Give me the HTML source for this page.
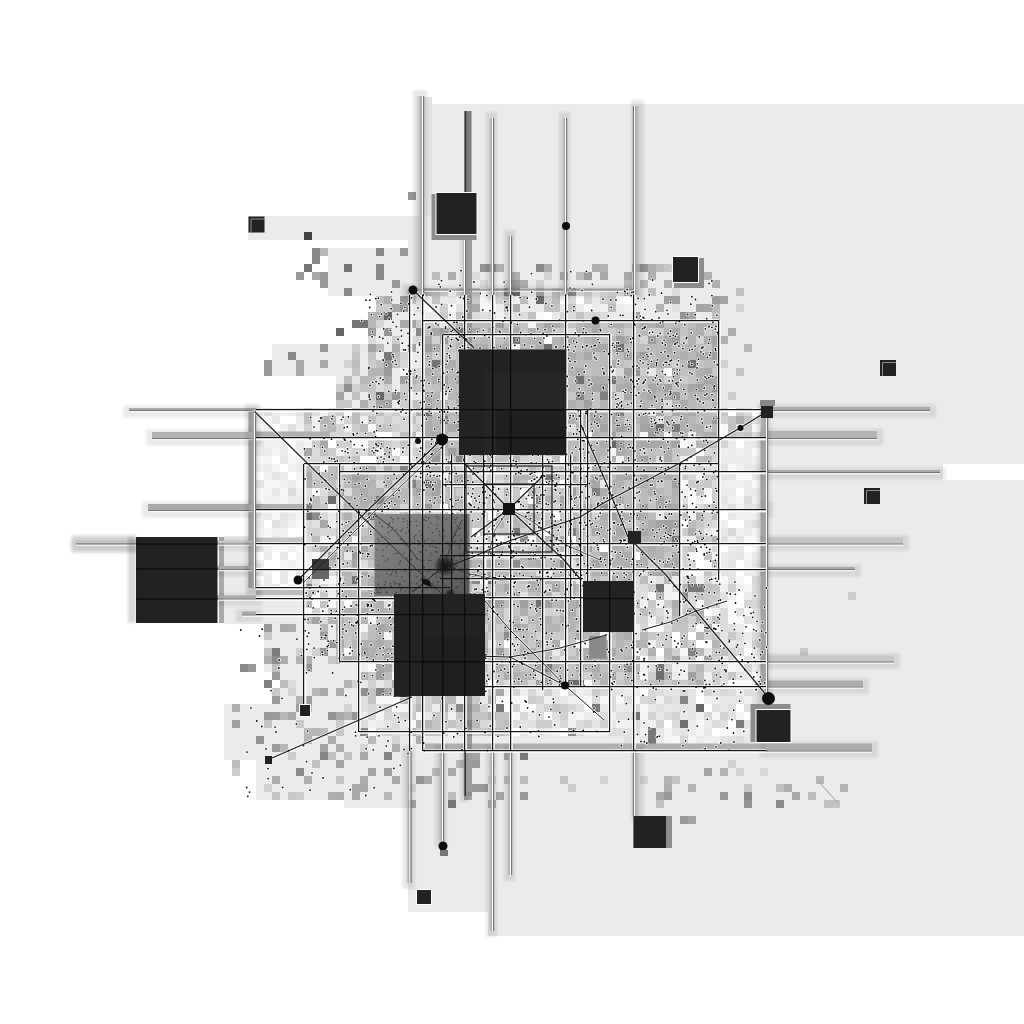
<!DOCTYPE html><html><head><meta charset="utf-8"><title>composition</title><style>html,body{margin:0;padding:0;background:#fff;font-family:"Liberation Sans",sans-serif}svg{display:block}</style></head><body><svg width="1024" height="1024" viewBox="0 0 1024 1024"><defs><filter id="b2" x="-20%" y="-20%" width="140%" height="140%"><feGaussianBlur stdDeviation="1.5"/></filter><filter id="b1" x="-30%" y="-30%" width="160%" height="160%"><feGaussianBlur stdDeviation=".8"/></filter><linearGradient id="sd" x1="0" y1="0" x2="1" y2="1"><stop offset="0" stop-color="#8c8c8c"/><stop offset=".6" stop-color="#6c6c6c"/><stop offset="1" stop-color="#555"/></linearGradient><linearGradient id="gl" x1="0" x2="1" y1="0" y2="0"><stop offset="0" stop-color="#aaa" stop-opacity="0"/><stop offset="1" stop-color="#a4a4a4"/></linearGradient><linearGradient id="gr" x1="0" x2="1" y1="0" y2="0"><stop offset="0" stop-color="#a4a4a4"/><stop offset="1" stop-color="#aaa" stop-opacity="0"/></linearGradient></defs><g shape-rendering="crispEdges"><path fill="#444444" d="M304 232h8v8h-8z"/><path fill="#646464" d="M384 312h8v8h-8zM336 328h8v8h-8z"/><path fill="#686868" d="M536 296h8v8h-8zM464 360h8v8h-8zM376 392h8v8h-8zM424 408h8v8h-8zM656 424h8v8h-8zM608 440h8v8h-8zM368 512h8v8h-8zM456 520h8v8h-8zM696 704h8v8h-8zM464 720h8v8h-8zM760 744h8v8h-8z"/><path fill="#6c6c6c" d="M512 288h8v8h-8zM544 344h8v8h-8zM688 360h8v8h-8zM424 480h8v8h-8zM328 496h8v8h-8zM304 512h8v8h-8zM656 672h8v8h-8zM568 680h16v8h-16zM760 704h8v8h-8z"/><path fill="#707070" d="M456 328h8v8h-8zM512 336h8v8h-8zM576 376h8v8h-8zM304 504h8v8h-8zM488 576h8v8h-8zM656 584h8v8h-8zM536 600h8v8h-8zM680 720h8v8h-8z"/><path fill="#747474" d="M304 264h8v8h-8zM344 264h8v8h-8zM352 320h16v8h-16zM616 344h8v8h-8zM432 360h8v8h-8zM608 376h8v8h-8zM544 472h8v8h-8zM512 528h8v8h-8zM672 536h8v8h-8zM352 576h8v8h-8zM384 584h8v8h-8zM656 664h8v8h-8zM464 688h8v8h-8zM632 712h8v8h-8z"/><path fill="#787878" d="M384 352h8v8h-8zM432 520h8v8h-8zM688 584h16v8h-16zM464 632h8v8h-8zM496 704h8v8h-8zM592 704h8v8h-8zM648 728h8v8h-8zM648 736h8v8h-8zM520 752h8v8h-8zM448 800h8v8h-8z"/><path fill="#7c7c7c" d="M440 416h8v8h-8zM672 424h8v8h-8zM376 496h8v8h-8zM528 552h8v8h-8zM304 584h8v8h-8zM272 648h8v8h-8zM424 656h8v8h-8zM544 664h8v8h-8zM736 720h8v8h-8zM656 744h8v8h-8z"/><path fill="#808080" d="M504 288h8v8h-8zM600 392h8v8h-8zM616 408h8v8h-8zM592 488h8v8h-8zM536 496h8v8h-8zM568 528h8v8h-8zM264 680h8v8h-8zM464 728h8v8h-8z"/><path fill="#848484" d="M576 392h8v8h-8zM400 464h8v8h-8zM408 480h8v8h-8zM680 592h8v8h-8zM424 616h8v8h-8zM688 648h8v8h-8zM408 664h8v8h-8zM376 688h8v8h-8zM680 696h8v8h-8zM320 752h8v8h-8zM384 752h8v8h-8z"/><path fill="#888888" d="M312 248h8v8h-8zM376 248h8v8h-8zM312 256h8v8h-8zM376 264h8v8h-8zM536 264h8v8h-8zM376 272h8v8h-8zM344 288h8v8h-8zM416 328h8v8h-8zM288 352h8v8h-8zM560 384h8v8h-8zM456 456h8v8h-8zM520 536h8v8h-8zM472 576h8v8h-8zM240 664h8v8h-8zM360 728h8v8h-8zM744 792h8v8h-8z"/><path fill="#8c8c8c" d="M568 288h8v8h-8zM312 512h8v8h-8zM512 560h8v8h-8zM560 560h8v8h-8zM504 632h8v8h-8zM272 656h8v8h-8zM456 704h8v8h-8zM296 768h8v8h-8zM776 800h8v8h-8z"/><path fill="#909090" d="M344 384h8v8h-8zM712 384h8v8h-8zM600 504h8v8h-8zM376 544h8v8h-8zM624 664h8v8h-8zM360 688h8v8h-8zM568 728h8v8h-8z"/><path fill="#949494" d="M480 264h16v8h-16zM640 264h8v8h-8zM400 304h8v8h-8zM680 312h8v8h-8zM384 328h8v8h-8zM384 360h8v8h-8zM632 368h8v8h-8zM392 392h8v8h-8zM416 536h8v8h-8zM448 584h8v8h-8zM592 584h8v8h-8zM320 648h8v8h-8zM304 664h8v8h-8zM328 712h8v8h-8zM352 712h8v8h-8zM256 736h8v8h-8zM416 776h8v8h-8zM744 800h8v8h-8z"/><path fill="#989898" d="M408 192h8v8h-8zM400 248h8v8h-8zM296 272h8v8h-8zM320 272h8v8h-8zM320 280h8v8h-8zM392 280h8v8h-8zM320 344h8v8h-8zM264 360h8v8h-8zM504 360h8v8h-8zM560 360h8v8h-8zM264 368h8v8h-8zM672 392h8v8h-8zM528 432h8v8h-8zM560 432h8v8h-8zM616 440h8v8h-8zM432 456h8v8h-8zM424 504h8v8h-8zM448 600h8v8h-8zM264 624h8v8h-8zM328 640h8v8h-8zM472 656h8v8h-8zM248 664h8v8h-8zM416 672h8v8h-8zM264 712h8v8h-8zM472 760h8v8h-8zM472 784h16v8h-16zM520 792h8v8h-8zM664 792h8v8h-8zM720 792h8v8h-8zM680 816h8v8h-8z"/><path fill="#9c9c9c" d="M584 272h8v8h-8zM512 280h8v8h-8zM712 296h8v8h-8zM496 320h8v8h-8zM368 328h8v8h-8zM440 328h8v8h-8zM648 336h8v8h-8zM672 336h8v8h-8zM424 344h8v8h-8zM640 352h8v8h-8zM384 368h8v8h-8zM520 384h8v8h-8zM600 384h8v8h-8zM480 392h8v8h-8zM712 416h8v8h-8zM464 424h8v8h-8zM480 424h8v8h-8zM480 432h8v8h-8zM648 432h8v8h-8zM640 504h8v8h-8zM432 528h8v8h-8zM352 552h8v8h-8zM320 560h8v8h-8zM488 600h8v8h-8zM320 632h8v8h-8zM400 648h8v8h-8zM464 648h8v8h-8zM584 656h8v8h-8zM272 672h8v8h-8zM544 680h8v8h-8zM272 696h8v8h-8zM304 696h8v8h-8zM272 712h8v8h-8zM272 744h8v8h-8z"/><path fill="#a0a0a0" d="M400 296h8v8h-8zM664 296h16v8h-16zM632 312h8v8h-8zM656 320h8v8h-8zM440 336h8v8h-8zM616 336h8v8h-8zM712 352h8v8h-8zM400 376h8v8h-8zM664 384h8v8h-8zM696 384h8v8h-8zM528 392h8v8h-8zM384 400h8v8h-8zM584 400h8v8h-8zM584 408h8v8h-8zM456 424h8v8h-8zM536 424h8v8h-8zM616 424h8v8h-8zM648 424h8v8h-8zM608 432h8v8h-8zM448 448h8v8h-8zM480 448h8v8h-8zM640 456h8v8h-8zM352 472h8v8h-8zM640 472h8v8h-8zM432 480h8v8h-8zM672 480h8v8h-8zM336 488h8v8h-8zM416 488h8v8h-8zM568 488h8v8h-8zM632 512h8v8h-8zM664 520h16v8h-16zM664 528h8v8h-8zM584 544h8v8h-8zM384 552h8v8h-8zM424 552h8v8h-8zM488 568h8v8h-8zM488 592h8v8h-8zM496 600h8v8h-8zM520 600h8v8h-8zM544 600h8v8h-8zM480 608h8v8h-8zM416 632h8v8h-8zM496 648h8v8h-8zM448 656h8v8h-8zM464 656h8v8h-8zM672 656h8v8h-8zM376 672h8v8h-8zM688 672h8v8h-8zM536 680h8v8h-8zM296 704h8v8h-8zM232 720h8v8h-8zM384 768h8v8h-8z"/><path fill="#a4a4a4" d="M696 272h8v8h-8zM688 280h8v8h-8zM720 296h8v8h-8zM696 304h8v8h-8zM408 320h8v8h-8zM544 320h8v8h-8zM464 328h8v8h-8zM712 336h8v8h-8zM368 344h8v8h-8zM408 344h8v8h-8zM440 360h8v8h-8zM624 368h8v8h-8zM672 368h8v8h-8zM440 376h8v8h-8zM456 376h8v8h-8zM704 376h8v8h-8zM536 384h8v8h-8zM592 384h8v8h-8zM336 392h8v8h-8zM424 392h8v8h-8zM376 400h8v8h-8zM440 408h8v8h-8zM488 408h8v8h-8zM536 408h8v8h-8zM528 416h8v8h-8zM552 416h8v8h-8zM592 416h8v8h-8zM600 424h8v8h-8zM640 424h8v8h-8zM672 440h8v8h-8zM432 448h8v8h-8zM600 472h8v8h-8zM432 488h8v8h-8zM384 496h8v8h-8zM584 504h8v8h-8zM664 504h8v8h-8zM400 512h8v8h-8zM608 512h8v8h-8zM656 520h8v8h-8zM424 536h8v8h-8zM360 544h8v8h-8zM352 560h8v8h-8zM440 560h8v8h-8zM464 560h8v8h-8zM592 560h8v8h-8zM664 560h8v8h-8zM432 568h8v8h-8zM448 568h16v8h-16zM568 568h8v8h-8zM672 568h8v8h-8zM536 576h8v8h-8zM416 584h8v8h-8zM592 592h8v8h-8zM576 600h16v8h-16zM440 608h8v8h-8zM312 616h8v8h-8zM376 624h8v8h-8zM512 624h8v8h-8zM536 640h8v8h-8zM360 648h8v8h-8zM384 656h8v8h-8zM704 656h8v8h-8zM376 664h8v8h-8zM432 664h8v8h-8zM536 664h8v8h-8zM608 672h8v8h-8zM424 680h16v8h-16zM408 688h8v8h-8zM320 744h8v8h-8zM472 752h8v8h-8zM336 760h8v8h-8zM368 768h8v8h-8zM704 768h8v8h-8zM464 792h8v8h-8zM496 792h8v8h-8zM408 800h8v8h-8zM688 816h8v8h-8z"/><path fill="#a8a8a8" d="M312 272h8v8h-8zM600 272h8v8h-8zM624 272h8v8h-8zM536 288h8v8h-8zM392 304h8v8h-8zM472 304h8v8h-8zM704 304h8v8h-8zM688 312h8v8h-8zM400 320h8v8h-8zM432 328h8v8h-8zM472 328h8v8h-8zM488 328h8v8h-8zM592 328h8v8h-8zM672 328h8v8h-8zM664 336h8v8h-8zM504 344h8v8h-8zM592 344h16v8h-16zM712 344h8v8h-8zM584 352h8v8h-8zM624 352h8v8h-8zM696 352h8v8h-8zM296 360h8v8h-8zM320 360h8v8h-8zM472 360h8v8h-8zM648 360h8v8h-8zM296 368h8v8h-8zM384 376h8v8h-8zM712 376h8v8h-8zM624 384h8v8h-8zM648 384h8v8h-8zM688 384h8v8h-8zM624 392h8v8h-8zM648 392h8v8h-8zM424 400h8v8h-8zM520 400h8v8h-8zM608 408h8v8h-8zM656 408h8v8h-8zM672 408h8v8h-8zM688 408h8v8h-8zM480 416h8v8h-8zM608 416h8v8h-8zM640 416h8v8h-8zM448 424h8v8h-8zM504 424h24v8h-24zM552 424h8v8h-8zM624 424h8v8h-8zM304 432h8v8h-8zM432 432h8v8h-8zM320 440h8v8h-8zM536 440h8v8h-8zM640 440h24v8h-24zM304 448h8v8h-8zM624 464h8v8h-8zM304 472h8v8h-8zM360 472h8v8h-8zM552 472h8v8h-8zM568 472h8v8h-8zM624 472h8v8h-8zM352 480h8v8h-8zM448 480h16v8h-16zM592 480h8v8h-8zM560 496h8v8h-8zM656 496h8v8h-8zM376 504h8v8h-8zM656 504h8v8h-8zM672 504h8v8h-8zM320 520h8v8h-8zM424 520h8v8h-8zM584 520h8v8h-8zM616 520h8v8h-8zM592 528h8v8h-8zM616 528h8v8h-8zM640 528h8v8h-8zM384 544h8v8h-8zM328 552h8v8h-8zM440 552h8v8h-8zM456 552h8v8h-8zM600 552h8v8h-8zM672 560h8v8h-8zM472 568h8v8h-8zM600 568h8v8h-8zM648 568h16v8h-16zM336 584h8v8h-8zM504 584h8v8h-8zM552 584h8v8h-8zM600 584h8v8h-8zM624 584h8v8h-8zM416 592h8v8h-8zM456 592h8v8h-8zM512 592h8v8h-8zM416 600h16v8h-16zM408 608h8v8h-8zM688 608h8v8h-8zM616 616h8v8h-8zM280 624h8v8h-8zM424 624h8v8h-8zM408 632h8v8h-8zM440 632h8v8h-8zM576 632h8v8h-8zM336 640h8v8h-8zM424 640h8v8h-8zM384 648h8v8h-8zM608 648h8v8h-8zM344 656h8v8h-8zM392 656h8v8h-8zM456 656h8v8h-8zM600 656h8v8h-8zM576 664h8v8h-8zM544 672h8v8h-8zM392 680h8v8h-8zM320 688h8v8h-8zM384 688h8v8h-8zM496 688h8v8h-8zM288 712h8v8h-8zM336 712h8v8h-8zM360 752h8v8h-8zM504 752h8v8h-8zM448 768h8v8h-8zM392 776h8v8h-8zM424 776h8v8h-8zM352 784h16v8h-16zM352 792h8v8h-8zM656 792h8v8h-8zM792 792h8v8h-8z"/><path fill="#acacac" d="M544 264h8v8h-8zM448 272h8v8h-8zM520 280h8v8h-8zM384 296h8v8h-8zM512 304h8v8h-8zM552 320h8v8h-8zM592 320h8v8h-8zM640 320h8v8h-8zM512 328h8v8h-8zM728 328h8v8h-8zM424 336h8v8h-8zM560 336h16v8h-16zM592 336h8v8h-8zM624 336h8v8h-8zM704 336h8v8h-8zM392 344h8v8h-8zM432 344h8v8h-8zM464 344h8v8h-8zM480 344h8v8h-8zM496 344h8v8h-8zM536 344h8v8h-8zM664 344h8v8h-8zM568 352h8v8h-8zM632 352h8v8h-8zM704 352h8v8h-8zM448 360h8v8h-8zM480 360h8v8h-8zM424 368h8v8h-8zM480 368h8v8h-8zM576 368h8v8h-8zM704 368h8v8h-8zM432 376h8v8h-8zM464 376h8v8h-8zM504 376h8v8h-8zM592 376h16v8h-16zM616 384h8v8h-8zM488 392h16v8h-16zM664 392h8v8h-8zM456 400h24v8h-24zM512 400h8v8h-8zM680 400h8v8h-8zM416 408h8v8h-8zM456 408h8v8h-8zM520 408h8v8h-8zM544 408h8v8h-8zM568 408h8v8h-8zM592 408h16v8h-16zM424 416h8v8h-8zM512 416h8v8h-8zM584 416h8v8h-8zM736 416h8v8h-8zM424 424h8v8h-8zM424 432h8v8h-8zM520 432h8v8h-8zM704 432h16v8h-16zM560 440h8v8h-8zM600 440h8v8h-8zM632 440h8v8h-8zM616 448h8v8h-8zM568 456h8v8h-8zM664 456h8v8h-8zM360 464h16v8h-16zM384 464h8v8h-8zM592 464h8v8h-8zM456 472h8v8h-8zM592 472h8v8h-8zM616 472h8v8h-8zM664 472h8v8h-8zM440 480h8v8h-8zM536 480h8v8h-8zM584 480h8v8h-8zM360 488h8v8h-8zM600 488h8v8h-8zM360 496h8v8h-8zM392 496h8v8h-8zM528 504h8v8h-8zM560 504h8v8h-8zM616 512h8v8h-8zM640 512h8v8h-8zM440 520h8v8h-8zM648 520h8v8h-8zM624 528h8v8h-8zM432 536h8v8h-8zM560 536h8v8h-8zM632 536h8v8h-8zM664 536h8v8h-8zM320 544h8v8h-8zM344 544h8v8h-8zM408 544h8v8h-8zM424 544h8v8h-8zM576 544h8v8h-8zM648 544h8v8h-8zM448 552h8v8h-8zM520 552h8v8h-8zM616 552h16v8h-16zM672 552h8v8h-8zM488 560h8v8h-8zM536 560h8v8h-8zM624 560h16v8h-16zM360 568h8v8h-8zM376 568h8v8h-8zM624 568h8v8h-8zM392 576h8v8h-8zM464 576h8v8h-8zM528 576h8v8h-8zM608 576h8v8h-8zM368 584h8v8h-8zM536 584h8v8h-8zM368 592h8v8h-8zM464 600h8v8h-8zM672 600h8v8h-8zM432 608h8v8h-8zM472 608h8v8h-8zM568 608h8v8h-8zM696 608h8v8h-8zM336 616h8v8h-8zM392 616h8v8h-8zM440 616h8v8h-8zM456 616h8v8h-8zM584 616h8v8h-8zM600 616h8v8h-8zM696 616h8v8h-8zM288 624h8v8h-8zM336 624h8v8h-8zM384 624h8v8h-8zM704 624h8v8h-8zM624 632h8v8h-8zM376 640h8v8h-8zM448 640h8v8h-8zM552 640h8v8h-8zM480 648h8v8h-8zM584 648h8v8h-8zM264 656h8v8h-8zM280 656h8v8h-8zM408 656h8v8h-8zM432 656h8v8h-8zM384 664h8v8h-8zM496 664h8v8h-8zM592 664h8v8h-8zM504 672h8v8h-8zM336 688h8v8h-8zM440 704h8v8h-8zM464 704h8v8h-8zM328 736h8v8h-8zM416 736h8v8h-8zM336 744h8v8h-8zM272 776h8v8h-8zM360 776h8v8h-8zM336 792h8v8h-8z"/><path fill="#b0b0b0" d="M496 264h8v8h-8zM592 264h8v8h-8zM648 264h8v8h-8zM512 272h8v8h-8zM560 272h8v8h-8zM648 272h8v8h-8zM704 272h8v8h-8zM664 280h8v8h-8zM712 280h8v8h-8zM456 320h8v8h-8zM584 320h8v8h-8zM608 320h16v8h-16zM648 320h8v8h-8zM696 320h16v8h-16zM448 328h8v8h-8zM528 328h8v8h-8zM544 328h8v8h-8zM696 328h8v8h-8zM688 336h8v8h-8zM720 336h8v8h-8zM472 344h8v8h-8zM560 344h8v8h-8zM608 344h8v8h-8zM688 344h8v8h-8zM504 352h8v8h-8zM552 352h8v8h-8zM680 352h8v8h-8zM536 360h8v8h-8zM608 360h8v8h-8zM632 360h8v8h-8zM656 360h8v8h-8zM696 368h8v8h-8zM408 376h8v8h-8zM624 376h8v8h-8zM440 384h8v8h-8zM496 384h16v8h-16zM656 384h8v8h-8zM456 392h8v8h-8zM472 392h8v8h-8zM640 392h8v8h-8zM704 392h8v8h-8zM360 400h8v8h-8zM480 400h8v8h-8zM568 400h8v8h-8zM512 408h8v8h-8zM640 408h8v8h-8zM680 408h8v8h-8zM760 408h8v8h-8zM496 416h16v8h-16zM560 416h16v8h-16zM600 416h8v8h-8zM648 416h8v8h-8zM680 416h8v8h-8zM528 424h8v8h-8zM576 424h16v8h-16zM608 424h8v8h-8zM680 424h8v8h-8zM696 424h8v8h-8zM440 432h8v8h-8zM488 432h8v8h-8zM440 440h8v8h-8zM472 440h8v8h-8zM504 440h8v8h-8zM624 440h8v8h-8zM664 440h8v8h-8zM504 448h8v8h-8zM520 448h8v8h-8zM536 448h16v8h-16zM624 448h8v8h-8zM664 448h8v8h-8zM424 456h8v8h-8zM608 456h8v8h-8zM632 456h8v8h-8zM616 464h8v8h-8zM640 464h16v8h-16zM448 472h8v8h-8zM512 472h8v8h-8zM648 472h8v8h-8zM304 480h8v8h-8zM384 480h8v8h-8zM416 480h8v8h-8zM480 480h8v8h-8zM512 480h8v8h-8zM608 480h16v8h-16zM632 480h16v8h-16zM408 488h8v8h-8zM424 488h8v8h-8zM648 488h8v8h-8zM672 488h8v8h-8zM368 496h8v8h-8zM432 496h8v8h-8zM544 496h8v8h-8zM616 496h8v8h-8zM344 504h24v8h-24zM448 504h8v8h-8zM624 504h8v8h-8zM344 512h8v8h-8zM424 512h8v8h-8zM440 512h8v8h-8zM456 512h8v8h-8zM584 512h8v8h-8zM600 512h8v8h-8zM624 512h8v8h-8zM696 512h8v8h-8zM384 520h8v8h-8zM368 528h8v8h-8zM576 528h8v8h-8zM648 528h8v8h-8zM688 528h8v8h-8zM448 536h8v8h-8zM576 536h8v8h-8zM608 536h16v8h-16zM712 536h8v8h-8zM432 544h8v8h-8zM608 544h16v8h-16zM576 552h8v8h-8zM648 552h8v8h-8zM480 560h8v8h-8zM616 560h8v8h-8zM640 560h8v8h-8zM592 568h8v8h-8zM368 576h8v8h-8zM432 576h8v8h-8zM544 576h8v8h-8zM624 576h8v8h-8zM528 584h8v8h-8zM568 584h8v8h-8zM680 584h8v8h-8zM304 592h8v8h-8zM336 592h8v8h-8zM360 592h8v8h-8zM480 592h8v8h-8zM376 600h8v8h-8zM560 600h16v8h-16zM624 600h8v8h-8zM344 608h8v8h-8zM360 608h8v8h-8zM376 608h8v8h-8zM520 608h8v8h-8zM432 616h8v8h-8zM544 616h8v8h-8zM560 616h8v8h-8zM392 624h8v8h-8zM432 624h16v8h-16zM504 624h8v8h-8zM520 624h8v8h-8zM592 624h8v8h-8zM360 640h8v8h-8zM592 640h8v8h-8zM368 648h8v8h-8zM416 648h16v8h-16zM520 648h16v8h-16zM648 648h8v8h-8zM304 656h8v8h-8zM368 656h8v8h-8zM632 656h8v8h-8zM456 664h8v8h-8zM552 664h8v8h-8zM512 672h8v8h-8zM664 672h8v8h-8zM696 680h8v8h-8zM232 704h8v8h-8zM472 704h8v8h-8zM392 744h8v8h-8zM304 776h8v8h-8zM664 784h8v8h-8zM784 784h8v8h-8zM328 792h8v8h-8zM488 800h8v8h-8z"/><path fill="#b4b4b4" d="M600 264h8v8h-8zM632 264h8v8h-8zM624 288h8v8h-8zM656 304h8v8h-8zM368 312h16v8h-16zM512 320h8v8h-8zM712 320h8v8h-8zM504 328h8v8h-8zM576 328h8v8h-8zM664 328h8v8h-8zM688 328h8v8h-8zM504 336h8v8h-8zM528 336h16v8h-16zM552 336h8v8h-8zM584 336h8v8h-8zM456 344h8v8h-8zM552 344h8v8h-8zM424 352h8v8h-8zM472 352h8v8h-8zM544 352h8v8h-8zM656 352h24v8h-24zM496 360h8v8h-8zM512 360h8v8h-8zM552 360h8v8h-8zM368 368h16v8h-16zM464 368h8v8h-8zM488 368h8v8h-8zM568 368h8v8h-8zM480 376h16v8h-16zM672 376h8v8h-8zM696 376h8v8h-8zM552 384h8v8h-8zM584 384h8v8h-8zM704 384h8v8h-8zM432 392h8v8h-8zM520 392h8v8h-8zM584 392h8v8h-8zM608 392h8v8h-8zM688 392h8v8h-8zM712 392h8v8h-8zM440 400h8v8h-8zM528 400h16v8h-16zM552 400h8v8h-8zM600 400h8v8h-8zM640 400h8v8h-8zM712 400h8v8h-8zM448 408h8v8h-8zM472 408h8v8h-8zM632 408h8v8h-8zM320 416h8v8h-8zM488 416h8v8h-8zM616 416h8v8h-8zM632 416h8v8h-8zM664 416h8v8h-8zM432 424h16v8h-16zM688 424h8v8h-8zM592 432h8v8h-8zM656 432h8v8h-8zM672 432h8v8h-8zM696 432h8v8h-8zM376 440h8v8h-8zM528 440h8v8h-8zM440 448h8v8h-8zM456 448h8v8h-8zM560 448h8v8h-8zM592 448h16v8h-16zM632 448h8v8h-8zM512 456h8v8h-8zM584 456h16v8h-16zM336 464h8v8h-8zM424 464h16v8h-16zM448 464h8v8h-8zM544 464h8v8h-8zM568 464h8v8h-8zM632 464h8v8h-8zM664 464h16v8h-16zM344 472h8v8h-8zM424 472h16v8h-16zM520 472h16v8h-16zM656 472h8v8h-8zM672 472h8v8h-8zM360 480h16v8h-16zM568 480h8v8h-8zM648 480h8v8h-8zM376 488h8v8h-8zM392 488h8v8h-8zM504 488h8v8h-8zM608 488h8v8h-8zM344 496h8v8h-8zM448 496h16v8h-16zM568 496h8v8h-8zM600 496h8v8h-8zM672 496h8v8h-8zM392 504h8v8h-8zM416 504h8v8h-8zM576 504h8v8h-8zM376 512h8v8h-8zM448 520h8v8h-8zM496 520h8v8h-8zM512 520h8v8h-8zM568 520h8v8h-8zM600 520h8v8h-8zM456 528h8v8h-8zM600 528h8v8h-8zM336 536h8v8h-8zM544 536h8v8h-8zM600 536h8v8h-8zM640 536h8v8h-8zM656 536h8v8h-8zM448 544h8v8h-8zM536 544h16v8h-16zM640 544h8v8h-8zM656 544h8v8h-8zM336 552h8v8h-8zM640 552h8v8h-8zM656 552h8v8h-8zM400 560h8v8h-8zM456 560h8v8h-8zM472 560h8v8h-8zM496 560h8v8h-8zM528 560h8v8h-8zM552 560h8v8h-8zM600 560h16v8h-16zM344 568h8v8h-8zM480 568h8v8h-8zM504 568h16v8h-16zM560 568h8v8h-8zM552 576h8v8h-8zM376 584h8v8h-8zM440 584h8v8h-8zM584 584h8v8h-8zM544 592h8v8h-8zM656 592h8v8h-8zM304 600h8v8h-8zM480 600h8v8h-8zM352 608h8v8h-8zM384 608h8v8h-8zM464 608h8v8h-8zM536 608h8v8h-8zM616 608h8v8h-8zM672 608h8v8h-8zM328 616h8v8h-8zM360 616h8v8h-8zM496 616h8v8h-8zM568 616h16v8h-16zM472 624h8v8h-8zM544 624h16v8h-16zM568 624h8v8h-8zM336 632h8v8h-8zM376 632h8v8h-8zM400 632h8v8h-8zM616 632h8v8h-8zM368 640h8v8h-8zM400 640h16v8h-16zM480 640h8v8h-8zM600 640h8v8h-8zM616 640h8v8h-8zM632 640h16v8h-16zM712 640h8v8h-8zM408 648h8v8h-8zM576 648h8v8h-8zM296 656h8v8h-8zM352 656h8v8h-8zM544 656h8v8h-8zM592 656h8v8h-8zM624 656h8v8h-8zM424 664h8v8h-8zM360 672h8v8h-8zM424 672h8v8h-8zM528 672h8v8h-8zM592 672h8v8h-8zM344 680h8v8h-8zM600 680h8v8h-8zM296 696h8v8h-8zM488 696h8v8h-8zM344 712h8v8h-8zM488 712h8v8h-8zM424 720h8v8h-8zM312 728h8v8h-8zM408 728h8v8h-8zM304 736h8v8h-8zM720 768h8v8h-8zM664 776h8v8h-8zM688 784h8v8h-8zM840 784h8v8h-8z"/><path fill="#b8b8b8" d="M320 248h8v8h-8zM696 264h8v8h-8zM624 280h8v8h-8zM640 280h8v8h-8zM696 280h8v8h-8zM424 288h8v8h-8zM504 304h8v8h-8zM712 304h8v8h-8zM368 320h8v8h-8zM536 320h8v8h-8zM560 320h8v8h-8zM576 320h8v8h-8zM632 320h8v8h-8zM496 328h8v8h-8zM640 328h8v8h-8zM456 336h8v8h-8zM480 336h8v8h-8zM656 336h8v8h-8zM520 344h8v8h-8zM584 344h8v8h-8zM656 344h8v8h-8zM680 344h8v8h-8zM744 344h8v8h-8zM480 352h8v8h-8zM520 352h8v8h-8zM576 352h8v8h-8zM688 352h8v8h-8zM528 360h8v8h-8zM544 360h8v8h-8zM568 360h8v8h-8zM600 360h8v8h-8zM664 360h8v8h-8zM680 360h8v8h-8zM432 368h24v8h-24zM504 368h8v8h-8zM520 368h16v8h-16zM600 368h8v8h-8zM360 376h8v8h-8zM424 376h8v8h-8zM448 376h8v8h-8zM520 376h16v8h-16zM584 376h8v8h-8zM616 376h8v8h-8zM648 376h8v8h-8zM448 384h8v8h-8zM528 384h8v8h-8zM568 384h8v8h-8zM680 384h8v8h-8zM448 392h8v8h-8zM536 392h32v8h-32zM656 392h8v8h-8zM696 392h8v8h-8zM432 400h8v8h-8zM576 400h8v8h-8zM648 400h16v8h-16zM672 400h8v8h-8zM688 400h8v8h-8zM528 408h8v8h-8zM552 408h16v8h-16zM328 416h8v8h-8zM432 416h8v8h-8zM456 416h16v8h-16zM688 416h8v8h-8zM704 416h8v8h-8zM328 424h8v8h-8zM592 424h8v8h-8zM712 424h8v8h-8zM408 432h8v8h-8zM472 432h8v8h-8zM496 432h8v8h-8zM536 432h16v8h-16zM600 432h8v8h-8zM424 440h8v8h-8zM480 440h8v8h-8zM496 440h8v8h-8zM520 440h8v8h-8zM576 440h8v8h-8zM592 440h8v8h-8zM696 440h16v8h-16zM464 448h8v8h-8zM496 448h8v8h-8zM584 448h8v8h-8zM488 456h8v8h-8zM648 456h8v8h-8zM704 456h8v8h-8zM304 464h8v8h-8zM440 464h8v8h-8zM528 464h8v8h-8zM576 464h8v8h-8zM600 464h8v8h-8zM656 464h8v8h-8zM328 472h16v8h-16zM384 472h8v8h-8zM632 472h8v8h-8zM352 488h8v8h-8zM368 488h8v8h-8zM400 488h8v8h-8zM448 488h8v8h-8zM528 488h8v8h-8zM656 488h8v8h-8zM400 496h8v8h-8zM416 496h8v8h-8zM664 496h8v8h-8zM368 504h8v8h-8zM408 504h8v8h-8zM360 512h8v8h-8zM504 512h16v8h-16zM568 512h8v8h-8zM712 512h8v8h-8zM352 520h8v8h-8zM376 520h8v8h-8zM392 520h8v8h-8zM640 520h8v8h-8zM352 528h8v8h-8zM424 528h8v8h-8zM440 528h16v8h-16zM632 528h8v8h-8zM656 528h8v8h-8zM360 536h8v8h-8zM400 536h8v8h-8zM624 536h8v8h-8zM648 536h8v8h-8zM352 544h8v8h-8zM560 544h8v8h-8zM368 552h8v8h-8zM400 552h8v8h-8zM328 560h8v8h-8zM424 560h16v8h-16zM584 560h8v8h-8zM336 568h8v8h-8zM416 568h8v8h-8zM496 568h8v8h-8zM520 568h8v8h-8zM664 568h8v8h-8zM344 576h8v8h-8zM384 576h8v8h-8zM664 576h8v8h-8zM344 584h8v8h-8zM496 584h8v8h-8zM576 584h8v8h-8zM344 592h8v8h-8zM376 592h8v8h-8zM448 592h8v8h-8zM472 592h8v8h-8zM568 592h8v8h-8zM616 592h8v8h-8zM368 600h8v8h-8zM440 600h8v8h-8zM552 600h8v8h-8zM424 608h8v8h-8zM448 608h8v8h-8zM608 608h8v8h-8zM384 616h8v8h-8zM480 616h8v8h-8zM512 616h8v8h-8zM528 616h8v8h-8zM592 616h8v8h-8zM320 624h8v8h-8zM400 624h8v8h-8zM488 624h8v8h-8zM536 624h8v8h-8zM472 632h8v8h-8zM584 632h16v8h-16zM640 632h8v8h-8zM696 632h8v8h-8zM352 640h8v8h-8zM384 640h8v8h-8zM440 640h8v8h-8zM520 640h8v8h-8zM336 648h8v8h-8zM376 648h8v8h-8zM448 648h8v8h-8zM664 648h8v8h-8zM696 648h8v8h-8zM336 656h8v8h-8zM416 656h8v8h-8zM488 656h24v8h-24zM608 656h8v8h-8zM584 664h8v8h-8zM632 664h8v8h-8zM696 664h8v8h-8zM520 672h8v8h-8zM600 672h8v8h-8zM624 672h8v8h-8zM480 680h8v8h-8zM512 680h8v8h-8zM312 688h8v8h-8zM440 696h16v8h-16zM304 704h8v8h-8zM416 704h8v8h-8zM280 712h8v8h-8zM416 720h8v8h-8zM472 720h8v8h-8zM304 728h8v8h-8zM488 728h8v8h-8zM368 736h8v8h-8zM280 744h8v8h-8zM456 760h8v8h-8zM816 776h8v8h-8zM384 792h8v8h-8z"/><path fill="#bcbcbc" d="M656 264h8v8h-8zM432 272h8v8h-8zM576 272h8v8h-8zM376 296h8v8h-8zM520 296h8v8h-8zM552 296h8v8h-8zM608 304h8v8h-8zM472 320h24v8h-24zM624 320h8v8h-8zM672 320h8v8h-8zM688 320h8v8h-8zM536 328h8v8h-8zM584 328h8v8h-8zM616 328h8v8h-8zM712 328h8v8h-8zM472 336h8v8h-8zM520 336h8v8h-8zM608 336h8v8h-8zM376 344h8v8h-8zM488 344h8v8h-8zM528 344h8v8h-8zM624 344h8v8h-8zM640 344h16v8h-16zM672 344h8v8h-8zM696 344h8v8h-8zM392 352h8v8h-8zM440 352h8v8h-8zM464 352h8v8h-8zM528 352h16v8h-16zM560 352h8v8h-8zM600 352h8v8h-8zM616 352h8v8h-8zM352 360h8v8h-8zM576 360h24v8h-24zM704 360h16v8h-16zM496 368h8v8h-8zM592 368h8v8h-8zM344 376h8v8h-8zM368 376h8v8h-8zM416 376h8v8h-8zM472 376h8v8h-8zM512 376h8v8h-8zM536 376h8v8h-8zM560 376h16v8h-16zM656 376h8v8h-8zM456 384h8v8h-8zM512 384h8v8h-8zM576 384h8v8h-8zM632 384h8v8h-8zM464 392h8v8h-8zM544 400h8v8h-8zM696 400h8v8h-8zM352 408h8v8h-8zM376 408h8v8h-8zM432 408h8v8h-8zM464 408h8v8h-8zM504 408h8v8h-8zM696 408h16v8h-16zM352 416h8v8h-8zM448 416h8v8h-8zM536 416h8v8h-8zM576 416h8v8h-8zM360 424h8v8h-8zM488 424h8v8h-8zM664 424h8v8h-8zM512 432h8v8h-8zM552 432h8v8h-8zM576 432h8v8h-8zM680 432h8v8h-8zM448 440h16v8h-16zM544 440h8v8h-8zM568 440h8v8h-8zM384 448h8v8h-8zM448 456h8v8h-8zM576 456h8v8h-8zM624 456h8v8h-8zM696 456h8v8h-8zM480 464h8v8h-8zM368 472h8v8h-8zM392 472h8v8h-8zM408 472h8v8h-8zM504 472h8v8h-8zM584 472h8v8h-8zM608 472h8v8h-8zM344 480h8v8h-8zM464 480h8v8h-8zM616 488h16v8h-16zM640 488h8v8h-8zM312 496h8v8h-8zM352 496h8v8h-8zM408 496h8v8h-8zM424 496h8v8h-8zM440 496h8v8h-8zM584 496h8v8h-8zM624 496h8v8h-8zM640 496h8v8h-8zM384 504h8v8h-8zM456 504h8v8h-8zM592 504h8v8h-8zM608 504h8v8h-8zM632 504h8v8h-8zM680 504h8v8h-8zM336 512h8v8h-8zM416 512h8v8h-8zM528 512h16v8h-16zM576 512h8v8h-8zM648 512h8v8h-8zM680 512h8v8h-8zM344 520h8v8h-8zM368 520h8v8h-8zM408 520h16v8h-16zM464 520h8v8h-8zM544 520h8v8h-8zM592 520h8v8h-8zM608 520h8v8h-8zM688 520h8v8h-8zM344 528h8v8h-8zM384 528h24v8h-24zM608 528h8v8h-8zM672 528h8v8h-8zM312 536h8v8h-8zM368 536h8v8h-8zM456 536h8v8h-8zM536 536h8v8h-8zM696 536h8v8h-8zM336 544h8v8h-8zM416 544h8v8h-8zM456 544h8v8h-8zM624 544h16v8h-16zM664 544h8v8h-8zM360 552h8v8h-8zM376 552h8v8h-8zM536 552h8v8h-8zM592 552h8v8h-8zM312 560h8v8h-8zM520 560h8v8h-8zM712 560h8v8h-8zM424 568h8v8h-8zM440 568h8v8h-8zM464 568h8v8h-8zM584 568h8v8h-8zM616 568h8v8h-8zM360 576h8v8h-8zM408 576h16v8h-16zM440 576h16v8h-16zM568 576h8v8h-8zM592 576h8v8h-8zM616 576h8v8h-8zM640 576h8v8h-8zM352 584h8v8h-8zM400 584h8v8h-8zM432 584h8v8h-8zM464 584h8v8h-8zM608 584h8v8h-8zM352 592h8v8h-8zM400 592h8v8h-8zM536 592h8v8h-8zM624 592h8v8h-8zM392 600h8v8h-8zM472 600h8v8h-8zM504 600h8v8h-8zM336 608h8v8h-8zM368 608h8v8h-8zM392 608h8v8h-8zM496 608h8v8h-8zM624 608h8v8h-8zM640 608h8v8h-8zM304 616h8v8h-8zM408 616h16v8h-16zM464 616h16v8h-16zM536 616h8v8h-8zM672 616h8v8h-8zM352 624h8v8h-8zM608 624h8v8h-8zM368 632h8v8h-8zM456 632h8v8h-8zM480 632h8v8h-8zM520 632h8v8h-8zM544 632h8v8h-8zM624 640h8v8h-8zM544 648h8v8h-8zM616 648h16v8h-16zM376 656h8v8h-8zM536 656h8v8h-8zM568 656h8v8h-8zM616 656h8v8h-8zM664 656h8v8h-8zM512 664h8v8h-8zM560 664h8v8h-8zM384 672h8v8h-8zM560 672h8v8h-8zM576 672h8v8h-8zM280 680h8v8h-8zM560 680h8v8h-8zM624 680h8v8h-8zM656 680h8v8h-8zM672 680h8v8h-8zM448 688h8v8h-8zM400 696h8v8h-8zM504 720h8v8h-8zM320 728h8v8h-8zM496 728h8v8h-8zM232 760h8v8h-8zM432 768h8v8h-8zM504 776h8v8h-8zM520 776h8v8h-8zM448 792h8v8h-8zM808 792h8v8h-8z"/><path fill="#c0c0c0" d="M432 288h8v8h-8zM648 288h8v8h-8zM736 288h8v8h-8zM408 296h8v8h-8zM464 296h8v8h-8zM528 312h8v8h-8zM712 312h8v8h-8zM464 320h8v8h-8zM664 320h8v8h-8zM680 320h8v8h-8zM424 328h8v8h-8zM488 336h16v8h-16zM576 336h8v8h-8zM600 336h8v8h-8zM440 344h8v8h-8zM576 344h8v8h-8zM632 344h8v8h-8zM608 352h8v8h-8zM648 352h8v8h-8zM376 360h8v8h-8zM392 360h8v8h-8zM424 360h8v8h-8zM616 360h8v8h-8zM640 360h8v8h-8zM456 368h8v8h-8zM512 368h8v8h-8zM552 368h16v8h-16zM680 368h16v8h-16zM640 376h8v8h-8zM408 384h8v8h-8zM432 384h8v8h-8zM544 384h8v8h-8zM672 384h8v8h-8zM352 392h8v8h-8zM384 392h8v8h-8zM400 392h8v8h-8zM512 392h8v8h-8zM680 392h8v8h-8zM408 400h16v8h-16zM560 400h8v8h-8zM616 400h8v8h-8zM632 400h8v8h-8zM304 408h8v8h-8zM576 408h8v8h-8zM712 408h8v8h-8zM304 416h8v8h-8zM368 416h8v8h-8zM408 416h8v8h-8zM472 416h8v8h-8zM544 416h8v8h-8zM696 416h8v8h-8zM544 424h8v8h-8zM560 424h8v8h-8zM632 424h8v8h-8zM728 424h8v8h-8zM400 432h8v8h-8zM456 432h8v8h-8zM568 432h8v8h-8zM728 432h8v8h-8zM432 440h8v8h-8zM464 440h8v8h-8zM488 440h8v8h-8zM584 440h8v8h-8zM712 440h8v8h-8zM320 448h8v8h-8zM368 448h8v8h-8zM512 448h8v8h-8zM552 448h8v8h-8zM568 448h16v8h-16zM648 448h8v8h-8zM480 456h8v8h-8zM496 456h16v8h-16zM552 456h8v8h-8zM600 456h8v8h-8zM328 464h8v8h-8zM496 464h8v8h-8zM560 464h8v8h-8zM320 472h8v8h-8zM312 480h8v8h-8zM328 480h8v8h-8zM520 480h8v8h-8zM576 480h8v8h-8zM624 480h8v8h-8zM664 480h8v8h-8zM440 488h8v8h-8zM664 488h8v8h-8zM576 496h8v8h-8zM312 504h8v8h-8zM432 504h8v8h-8zM712 504h8v8h-8zM408 512h8v8h-8zM496 512h8v8h-8zM664 512h16v8h-16zM520 520h8v8h-8zM552 520h8v8h-8zM336 528h8v8h-8zM376 528h8v8h-8zM480 528h8v8h-8zM584 528h8v8h-8zM344 536h8v8h-8zM440 536h8v8h-8zM488 536h8v8h-8zM368 544h8v8h-8zM392 544h8v8h-8zM496 544h8v8h-8zM568 544h8v8h-8zM688 544h8v8h-8zM608 552h8v8h-8zM448 560h8v8h-8zM504 560h8v8h-8zM544 560h8v8h-8zM576 560h8v8h-8zM656 560h8v8h-8zM368 568h8v8h-8zM400 568h8v8h-8zM528 568h8v8h-8zM552 568h8v8h-8zM608 568h8v8h-8zM520 576h8v8h-8zM360 584h8v8h-8zM408 584h8v8h-8zM424 584h8v8h-8zM488 584h8v8h-8zM560 584h8v8h-8zM616 584h8v8h-8zM704 584h8v8h-8zM432 592h8v8h-8zM496 592h16v8h-16zM528 592h8v8h-8zM400 600h8v8h-8zM512 600h8v8h-8zM528 600h8v8h-8zM632 600h8v8h-8zM560 608h8v8h-8zM600 608h8v8h-8zM344 616h8v8h-8zM376 616h8v8h-8zM448 616h8v8h-8zM488 616h8v8h-8zM552 616h8v8h-8zM680 616h8v8h-8zM712 616h8v8h-8zM344 624h8v8h-8zM368 624h8v8h-8zM448 624h8v8h-8zM576 624h8v8h-8zM352 632h8v8h-8zM496 632h8v8h-8zM528 632h8v8h-8zM568 632h8v8h-8zM608 632h8v8h-8zM456 640h8v8h-8zM472 640h8v8h-8zM680 640h8v8h-8zM264 648h8v8h-8zM352 648h8v8h-8zM392 648h8v8h-8zM440 648h8v8h-8zM592 648h8v8h-8zM720 648h8v8h-8zM400 656h8v8h-8zM528 656h8v8h-8zM576 656h8v8h-8zM272 664h8v8h-8zM504 664h8v8h-8zM528 664h8v8h-8zM600 664h8v8h-8zM616 664h8v8h-8zM568 672h8v8h-8zM696 672h8v8h-8zM440 680h8v8h-8zM464 680h8v8h-8zM520 680h8v8h-8zM648 680h8v8h-8zM688 680h8v8h-8zM328 752h8v8h-8zM344 752h8v8h-8zM312 760h8v8h-8zM776 784h8v8h-8zM656 800h8v8h-8zM824 800h8v8h-8z"/><path fill="#c4c4c4" d="M472 288h8v8h-8zM552 288h8v8h-8zM432 296h8v8h-8zM544 304h16v8h-16zM568 304h8v8h-8zM456 312h8v8h-8zM576 312h8v8h-8zM504 320h8v8h-8zM520 320h8v8h-8zM568 320h8v8h-8zM480 328h8v8h-8zM600 328h8v8h-8zM632 328h8v8h-8zM680 328h8v8h-8zM464 336h8v8h-8zM632 336h8v8h-8zM448 344h8v8h-8zM568 344h8v8h-8zM704 344h8v8h-8zM352 352h8v8h-8zM368 352h8v8h-8zM456 352h8v8h-8zM512 352h8v8h-8zM592 352h8v8h-8zM456 360h8v8h-8zM520 360h8v8h-8zM696 360h8v8h-8zM352 368h8v8h-8zM584 368h8v8h-8zM656 368h8v8h-8zM736 368h8v8h-8zM688 376h8v8h-8zM360 384h16v8h-16zM464 384h8v8h-8zM488 384h8v8h-8zM640 384h8v8h-8zM592 392h8v8h-8zM632 392h8v8h-8zM448 400h8v8h-8zM592 400h8v8h-8zM624 400h8v8h-8zM704 400h8v8h-8zM624 416h8v8h-8zM728 416h8v8h-8zM744 416h8v8h-8zM320 424h8v8h-8zM376 424h16v8h-16zM472 424h8v8h-8zM448 432h8v8h-8zM464 432h8v8h-8zM616 432h8v8h-8zM632 432h8v8h-8zM744 432h8v8h-8zM760 432h8v8h-8zM400 440h8v8h-8zM424 448h8v8h-8zM472 448h8v8h-8zM528 448h8v8h-8zM656 448h8v8h-8zM672 448h8v8h-8zM336 456h8v8h-8zM352 456h8v8h-8zM312 464h8v8h-8zM392 464h8v8h-8zM472 464h8v8h-8zM608 464h8v8h-8zM400 472h8v8h-8zM464 472h8v8h-8zM712 472h8v8h-8zM320 480h8v8h-8zM400 480h8v8h-8zM544 480h8v8h-8zM328 488h8v8h-8zM544 488h8v8h-8zM576 488h8v8h-8zM488 496h8v8h-8zM512 496h8v8h-8zM648 496h8v8h-8zM648 504h8v8h-8zM480 512h8v8h-8zM400 520h8v8h-8zM480 520h8v8h-8zM560 520h8v8h-8zM576 520h8v8h-8zM624 520h8v8h-8zM360 528h8v8h-8zM464 528h8v8h-8zM440 544h8v8h-8zM488 544h8v8h-8zM552 544h8v8h-8zM672 544h8v8h-8zM392 552h8v8h-8zM416 552h8v8h-8zM472 552h8v8h-8zM544 552h16v8h-16zM568 552h8v8h-8zM584 552h8v8h-8zM664 552h8v8h-8zM704 552h8v8h-8zM344 560h8v8h-8zM368 560h8v8h-8zM352 568h8v8h-8zM384 568h8v8h-8zM576 568h8v8h-8zM704 568h8v8h-8zM304 576h8v8h-8zM496 576h24v8h-24zM560 576h8v8h-8zM688 576h8v8h-8zM456 584h8v8h-8zM712 584h8v8h-8zM384 592h8v8h-8zM560 592h8v8h-8zM576 592h8v8h-8zM608 592h8v8h-8zM696 592h8v8h-8zM320 600h8v8h-8zM352 600h8v8h-8zM408 600h8v8h-8zM328 608h8v8h-8zM416 608h8v8h-8zM512 608h8v8h-8zM584 608h16v8h-16zM400 616h8v8h-8zM608 616h8v8h-8zM464 624h8v8h-8zM560 624h8v8h-8zM600 624h8v8h-8zM672 624h16v8h-16zM512 632h8v8h-8zM680 632h8v8h-8zM712 632h8v8h-8zM392 640h8v8h-8zM568 640h8v8h-8zM608 640h8v8h-8zM432 648h8v8h-8zM456 648h8v8h-8zM360 656h8v8h-8zM440 656h8v8h-8zM480 656h8v8h-8zM688 656h8v8h-8zM448 664h8v8h-8zM568 664h8v8h-8zM608 664h8v8h-8zM408 672h8v8h-8zM464 672h8v8h-8zM496 672h8v8h-8zM552 672h8v8h-8zM368 688h8v8h-8zM400 688h8v8h-8zM368 696h8v8h-8zM416 696h8v8h-8zM432 696h8v8h-8zM552 704h8v8h-8zM472 712h16v8h-16zM496 712h16v8h-16zM264 720h8v8h-8zM432 720h8v8h-8zM448 720h8v8h-8zM496 720h8v8h-8zM424 728h16v8h-16zM336 776h8v8h-8zM560 776h8v8h-8zM672 776h8v8h-8zM272 792h8v8h-8zM832 800h8v8h-8z"/><path fill="#c8c8c8" d="M664 264h8v8h-8zM472 296h8v8h-8zM504 296h8v8h-8zM608 296h8v8h-8zM376 304h8v8h-8zM440 312h8v8h-8zM416 320h24v8h-24zM448 320h8v8h-8zM600 320h8v8h-8zM520 328h8v8h-8zM560 328h8v8h-8zM448 336h8v8h-8zM496 352h8v8h-8zM624 360h8v8h-8zM536 368h16v8h-16zM712 368h8v8h-8zM552 376h8v8h-8zM416 384h16v8h-16zM472 384h8v8h-8zM368 392h8v8h-8zM568 392h8v8h-8zM336 400h16v8h-16zM496 400h16v8h-16zM608 400h8v8h-8zM624 408h8v8h-8zM720 408h8v8h-8zM672 416h8v8h-8zM704 424h8v8h-8zM368 432h8v8h-8zM624 432h8v8h-8zM736 432h8v8h-8zM552 440h8v8h-8zM416 448h8v8h-8zM640 448h8v8h-8zM680 448h8v8h-8zM472 456h8v8h-8zM672 456h8v8h-8zM536 464h8v8h-8zM552 464h8v8h-8zM376 472h8v8h-8zM576 472h8v8h-8zM472 480h8v8h-8zM704 480h8v8h-8zM480 488h8v8h-8zM512 488h8v8h-8zM560 488h8v8h-8zM696 488h8v8h-8zM472 496h8v8h-8zM504 496h8v8h-8zM552 496h8v8h-8zM592 496h8v8h-8zM608 496h8v8h-8zM320 504h8v8h-8zM480 504h8v8h-8zM496 504h8v8h-8zM544 504h8v8h-8zM464 512h16v8h-16zM544 512h8v8h-8zM560 512h8v8h-8zM472 520h8v8h-8zM488 520h8v8h-8zM536 520h8v8h-8zM632 520h8v8h-8zM696 520h8v8h-8zM504 528h8v8h-8zM528 528h8v8h-8zM552 528h8v8h-8zM392 536h8v8h-8zM584 536h16v8h-16zM312 544h8v8h-8zM480 544h8v8h-8zM512 544h8v8h-8zM592 544h8v8h-8zM464 552h8v8h-8zM512 552h8v8h-8zM336 560h8v8h-8zM376 560h8v8h-8zM632 568h8v8h-8zM400 576h8v8h-8zM584 576h8v8h-8zM512 584h8v8h-8zM320 592h8v8h-8zM392 592h8v8h-8zM424 592h8v8h-8zM600 592h8v8h-8zM360 600h8v8h-8zM600 600h16v8h-16zM648 600h8v8h-8zM704 600h8v8h-8zM528 608h8v8h-8zM576 608h8v8h-8zM680 608h8v8h-8zM528 624h8v8h-8zM616 624h8v8h-8zM264 632h8v8h-8zM344 632h8v8h-8zM392 632h8v8h-8zM560 632h8v8h-8zM648 632h8v8h-8zM728 632h8v8h-8zM344 640h8v8h-8zM416 640h8v8h-8zM464 640h8v8h-8zM496 640h8v8h-8zM528 640h8v8h-8zM504 648h16v8h-16zM536 648h8v8h-8zM560 648h8v8h-8zM600 648h8v8h-8zM712 648h8v8h-8zM800 648h8v8h-8zM328 656h8v8h-8zM520 656h8v8h-8zM480 664h8v8h-8zM520 664h8v8h-8zM688 664h8v8h-8zM368 672h8v8h-8zM432 672h8v8h-8zM632 672h8v8h-8zM712 672h8v8h-8zM728 672h8v8h-8zM456 680h8v8h-8zM616 680h8v8h-8zM272 688h8v8h-8zM472 696h8v8h-8zM408 712h8v8h-8zM432 712h16v8h-16zM456 712h16v8h-16zM296 720h8v8h-8zM336 728h8v8h-8zM480 728h8v8h-8zM504 728h8v8h-8zM744 784h8v8h-8zM288 792h8v8h-8z"/><path fill="#cccccc" d="M496 288h8v8h-8zM384 304h8v8h-8zM552 328h8v8h-8zM608 328h8v8h-8zM624 328h8v8h-8zM648 328h16v8h-16zM704 328h8v8h-8zM392 336h8v8h-8zM680 336h8v8h-8zM352 344h8v8h-8zM432 352h8v8h-8zM448 352h8v8h-8zM368 360h8v8h-8zM408 368h8v8h-8zM640 368h8v8h-8zM496 376h8v8h-8zM680 376h8v8h-8zM336 384h8v8h-8zM400 384h8v8h-8zM608 384h8v8h-8zM504 392h8v8h-8zM728 392h8v8h-8zM400 400h8v8h-8zM336 408h8v8h-8zM392 408h8v8h-8zM496 408h8v8h-8zM664 408h8v8h-8zM736 408h8v8h-8zM384 416h8v8h-8zM352 424h8v8h-8zM416 424h8v8h-8zM312 440h8v8h-8zM384 440h8v8h-8zM328 448h8v8h-8zM688 448h8v8h-8zM328 456h8v8h-8zM440 456h8v8h-8zM352 464h8v8h-8zM416 464h8v8h-8zM512 464h8v8h-8zM680 464h8v8h-8zM312 472h8v8h-8zM488 472h8v8h-8zM560 472h8v8h-8zM680 472h8v8h-8zM488 480h8v8h-8zM656 480h8v8h-8zM688 480h16v8h-16zM456 488h8v8h-8zM472 488h8v8h-8zM536 488h8v8h-8zM632 488h8v8h-8zM712 488h8v8h-8zM632 496h8v8h-8zM464 504h16v8h-16zM520 504h8v8h-8zM536 504h8v8h-8zM568 504h8v8h-8zM704 504h8v8h-8zM352 512h8v8h-8zM384 512h8v8h-8zM520 512h8v8h-8zM504 520h8v8h-8zM528 520h8v8h-8zM496 528h8v8h-8zM680 528h8v8h-8zM384 536h8v8h-8zM408 536h8v8h-8zM704 536h8v8h-8zM504 544h8v8h-8zM680 544h8v8h-8zM408 552h8v8h-8zM488 552h16v8h-16zM384 560h16v8h-16zM648 560h8v8h-8zM376 576h8v8h-8zM424 576h8v8h-8zM456 576h8v8h-8zM600 576h8v8h-8zM520 584h8v8h-8zM648 584h8v8h-8zM584 592h8v8h-8zM704 592h16v8h-16zM848 592h8v8h-8zM664 600h8v8h-8zM760 600h8v8h-8zM488 608h8v8h-8zM496 624h8v8h-8zM488 632h8v8h-8zM552 632h8v8h-8zM664 640h8v8h-8zM752 640h8v8h-8zM568 648h8v8h-8zM648 672h8v8h-8zM400 680h16v8h-16zM496 680h8v8h-8zM592 680h8v8h-8zM664 680h8v8h-8zM680 680h8v8h-8zM472 688h8v8h-8zM488 688h8v8h-8zM592 688h8v8h-8zM528 696h8v8h-8zM560 704h8v8h-8zM336 720h8v8h-8zM440 720h8v8h-8zM536 720h16v8h-16zM416 728h8v8h-8zM440 728h8v8h-8zM472 728h8v8h-8zM288 752h8v8h-8zM232 768h8v8h-8zM568 784h8v8h-8zM296 792h8v8h-8z"/><path fill="#d0d0d0" d="M536 280h8v8h-8zM584 288h8v8h-8zM496 296h8v8h-8zM544 296h8v8h-8zM600 296h8v8h-8zM440 304h8v8h-8zM432 336h8v8h-8zM696 336h8v8h-8zM488 360h8v8h-8zM672 360h8v8h-8zM720 360h8v8h-8zM632 376h8v8h-8zM664 376h8v8h-8zM352 384h8v8h-8zM384 384h8v8h-8zM368 400h8v8h-8zM480 408h8v8h-8zM720 416h8v8h-8zM392 424h8v8h-8zM744 424h8v8h-8zM352 432h16v8h-16zM336 440h16v8h-16zM368 440h8v8h-8zM408 448h8v8h-8zM712 448h8v8h-8zM344 456h8v8h-8zM376 456h8v8h-8zM416 456h8v8h-8zM536 456h8v8h-8zM408 464h8v8h-8zM696 464h8v8h-8zM496 472h8v8h-8zM704 472h8v8h-8zM336 480h8v8h-8zM392 480h8v8h-8zM504 480h8v8h-8zM464 488h8v8h-8zM552 488h8v8h-8zM712 496h8v8h-8zM336 504h8v8h-8zM488 504h8v8h-8zM432 512h8v8h-8zM592 512h8v8h-8zM312 528h8v8h-8zM408 528h8v8h-8zM520 528h8v8h-8zM696 528h8v8h-8zM552 536h8v8h-8zM528 544h8v8h-8zM480 552h8v8h-8zM680 552h8v8h-8zM312 568h8v8h-8zM408 568h8v8h-8zM392 584h8v8h-8zM472 584h8v8h-8zM544 584h8v8h-8zM728 584h8v8h-8zM408 592h8v8h-8zM464 592h8v8h-8zM336 600h8v8h-8zM592 600h8v8h-8zM680 600h8v8h-8zM712 600h8v8h-8zM312 608h8v8h-8zM544 608h8v8h-8zM648 608h8v8h-8zM352 616h8v8h-8zM624 616h8v8h-8zM656 616h8v8h-8zM688 616h8v8h-8zM480 624h8v8h-8zM360 632h8v8h-8zM432 632h8v8h-8zM536 632h8v8h-8zM656 632h16v8h-16zM704 632h8v8h-8zM544 640h8v8h-8zM688 640h8v8h-8zM296 648h8v8h-8zM312 648h8v8h-8zM672 648h8v8h-8zM648 656h8v8h-8zM712 656h8v8h-8zM664 664h8v8h-8zM480 672h16v8h-16zM584 672h8v8h-8zM616 672h8v8h-8zM368 680h8v8h-8zM472 680h8v8h-8zM640 680h8v8h-8zM712 680h8v8h-8zM544 688h8v8h-8zM464 696h8v8h-8zM384 704h8v8h-8zM408 704h8v8h-8zM424 704h8v8h-8zM560 712h8v8h-8zM456 720h8v8h-8zM600 720h8v8h-8zM384 728h8v8h-8zM728 760h8v8h-8zM264 784h8v8h-8z"/><path fill="#d4d4d4" d="M544 272h8v8h-8zM504 280h8v8h-8zM440 288h8v8h-8zM584 296h8v8h-8zM736 304h8v8h-8zM464 312h8v8h-8zM560 312h8v8h-8zM592 312h8v8h-8zM376 320h8v8h-8zM416 336h8v8h-8zM640 336h8v8h-8zM400 352h8v8h-8zM344 360h8v8h-8zM376 376h8v8h-8zM544 376h8v8h-8zM616 392h8v8h-8zM360 408h16v8h-16zM408 408h8v8h-8zM344 416h8v8h-8zM400 416h8v8h-8zM304 424h8v8h-8zM336 424h8v8h-8zM408 424h8v8h-8zM496 424h8v8h-8zM328 432h16v8h-16zM720 440h8v8h-8zM352 448h8v8h-8zM384 456h16v8h-16zM520 456h16v8h-16zM712 456h8v8h-8zM376 464h8v8h-8zM456 464h8v8h-8zM504 464h8v8h-8zM520 464h8v8h-8zM480 472h8v8h-8zM552 480h8v8h-8zM384 488h8v8h-8zM584 488h8v8h-8zM320 496h8v8h-8zM480 496h8v8h-8zM520 496h8v8h-8zM400 504h8v8h-8zM552 504h8v8h-8zM392 512h8v8h-8zM704 512h8v8h-8zM336 520h8v8h-8zM704 520h8v8h-8zM304 528h8v8h-8zM376 536h8v8h-8zM464 536h8v8h-8zM472 544h8v8h-8zM408 560h8v8h-8zM680 560h8v8h-8zM320 568h8v8h-8zM704 576h8v8h-8zM744 600h8v8h-8zM504 608h8v8h-8zM552 608h8v8h-8zM504 616h8v8h-8zM520 616h8v8h-8zM640 616h8v8h-8zM624 624h8v8h-8zM688 624h8v8h-8zM656 640h8v8h-8zM472 648h8v8h-8zM488 648h8v8h-8zM728 648h8v8h-8zM512 656h8v8h-8zM552 656h8v8h-8zM728 656h8v8h-8zM744 664h8v8h-8zM352 680h8v8h-8zM552 680h8v8h-8zM288 688h8v8h-8zM432 688h8v8h-8zM456 688h8v8h-8zM512 688h8v8h-8zM704 688h8v8h-8zM424 696h8v8h-8zM536 696h8v8h-8zM648 696h8v8h-8zM344 704h8v8h-8zM480 704h8v8h-8zM512 704h8v8h-8zM544 704h8v8h-8zM400 712h8v8h-8zM648 712h8v8h-8zM672 712h8v8h-8zM720 712h8v8h-8zM584 720h8v8h-8zM656 720h8v8h-8zM376 728h8v8h-8zM392 736h8v8h-8zM360 744h8v8h-8zM752 744h8v8h-8zM736 768h8v8h-8zM488 776h8v8h-8zM600 776h8v8h-8zM640 776h8v8h-8zM408 784h8v8h-8z"/><path fill="#d8d8d8" d="M480 280h8v8h-8zM456 288h8v8h-8zM608 288h8v8h-8zM568 296h8v8h-8zM488 312h8v8h-8zM584 312h8v8h-8zM408 336h8v8h-8zM400 360h8v8h-8zM416 368h8v8h-8zM616 368h8v8h-8zM328 408h8v8h-8zM384 408h8v8h-8zM744 408h8v8h-8zM376 416h8v8h-8zM400 424h8v8h-8zM320 432h8v8h-8zM344 432h8v8h-8zM752 432h8v8h-8zM392 440h8v8h-8zM400 448h8v8h-8zM704 448h8v8h-8zM304 456h24v8h-24zM464 456h8v8h-8zM416 472h8v8h-8zM688 472h8v8h-8zM376 480h8v8h-8zM488 488h8v8h-8zM304 496h8v8h-8zM496 496h8v8h-8zM320 512h8v8h-8zM304 520h8v8h-8zM320 528h16v8h-16zM416 528h8v8h-8zM560 528h8v8h-8zM728 528h8v8h-8zM304 544h8v8h-8zM328 544h8v8h-8zM712 544h8v8h-8zM504 552h8v8h-8zM688 560h8v8h-8zM712 568h8v8h-8zM752 576h8v8h-8zM312 584h16v8h-16zM672 584h8v8h-8zM440 592h8v8h-8zM552 592h8v8h-8zM688 592h8v8h-8zM752 600h8v8h-8zM456 608h8v8h-8zM320 616h8v8h-8zM632 616h8v8h-8zM584 624h8v8h-8zM640 624h8v8h-8zM664 624h8v8h-8zM512 640h8v8h-8zM472 664h8v8h-8zM384 680h8v8h-8zM416 680h8v8h-8zM528 680h8v8h-8zM632 680h8v8h-8zM392 688h8v8h-8zM528 688h8v8h-8zM568 688h8v8h-8zM600 688h8v8h-8zM648 688h8v8h-8zM680 688h8v8h-8zM720 688h8v8h-8zM640 696h8v8h-8zM664 696h8v8h-8zM368 704h8v8h-8zM568 704h8v8h-8zM632 704h8v8h-8zM368 712h8v8h-8zM384 712h8v8h-8zM520 712h8v8h-8zM704 712h8v8h-8zM480 720h8v8h-8zM560 720h8v8h-8zM456 728h8v8h-8zM680 736h8v8h-8zM704 744h8v8h-8zM760 768h8v8h-8z"/><path fill="#dcdcdc" d="M472 272h8v8h-8zM672 288h8v8h-8zM416 296h8v8h-8zM416 304h8v8h-8zM472 312h8v8h-8zM504 312h8v8h-8zM520 312h8v8h-8zM568 312h8v8h-8zM600 312h8v8h-8zM568 328h8v8h-8zM368 336h8v8h-8zM472 368h8v8h-8zM376 384h8v8h-8zM664 400h8v8h-8zM264 408h8v8h-8zM312 408h8v8h-8zM392 416h8v8h-8zM416 416h8v8h-8zM656 416h8v8h-8zM568 424h8v8h-8zM408 440h8v8h-8zM312 448h8v8h-8zM344 448h8v8h-8zM360 448h8v8h-8zM656 456h8v8h-8zM688 464h8v8h-8zM704 464h8v8h-8zM472 472h8v8h-8zM496 480h8v8h-8zM712 480h8v8h-8zM288 488h8v8h-8zM304 488h8v8h-8zM320 488h8v8h-8zM344 488h8v8h-8zM496 488h8v8h-8zM336 496h8v8h-8zM744 496h8v8h-8zM616 504h8v8h-8zM696 504h8v8h-8zM360 520h8v8h-8zM712 520h8v8h-8zM536 528h8v8h-8zM304 536h8v8h-8zM520 544h8v8h-8zM320 552h8v8h-8zM360 560h8v8h-8zM568 560h8v8h-8zM328 568h8v8h-8zM536 568h8v8h-8zM640 568h8v8h-8zM336 576h8v8h-8zM632 576h8v8h-8zM680 576h8v8h-8zM640 584h8v8h-8zM752 584h8v8h-8zM632 592h8v8h-8zM752 592h8v8h-8zM616 600h8v8h-8zM688 600h8v8h-8zM632 608h8v8h-8zM656 608h8v8h-8zM720 608h8v8h-8zM704 616h8v8h-8zM720 616h8v8h-8zM408 624h8v8h-8zM456 624h8v8h-8zM720 624h8v8h-8zM424 632h8v8h-8zM736 632h8v8h-8zM752 632h8v8h-8zM432 640h8v8h-8zM640 648h8v8h-8zM736 648h8v8h-8zM488 664h8v8h-8zM648 664h8v8h-8zM704 664h24v8h-24zM536 672h8v8h-8zM720 672h8v8h-8zM288 680h8v8h-8zM504 680h8v8h-8zM608 680h8v8h-8zM656 688h8v8h-8zM728 688h8v8h-8zM744 688h8v8h-8zM408 696h8v8h-8zM592 696h8v8h-8zM608 696h8v8h-8zM624 696h8v8h-8zM760 696h8v8h-8zM448 704h8v8h-8zM608 704h8v8h-8zM392 712h8v8h-8zM536 712h8v8h-8zM600 712h8v8h-8zM664 712h8v8h-8zM752 712h8v8h-8zM360 720h8v8h-8zM392 720h8v8h-8zM488 720h8v8h-8zM512 720h8v8h-8zM576 720h8v8h-8zM632 720h8v8h-8zM672 720h8v8h-8zM712 720h8v8h-8zM392 728h8v8h-8zM576 728h8v8h-8zM608 728h8v8h-8zM760 728h8v8h-8zM736 736h8v8h-8zM608 744h8v8h-8z"/><path fill="#e0e0e0" d="M576 288h8v8h-8zM600 288h8v8h-8zM616 288h8v8h-8zM456 304h8v8h-8zM672 304h8v8h-8zM480 312h8v8h-8zM512 312h8v8h-8zM296 408h8v8h-8zM752 416h8v8h-8zM288 424h8v8h-8zM736 424h8v8h-8zM288 432h8v8h-8zM408 456h8v8h-8zM712 464h8v8h-8zM680 496h8v8h-8zM728 504h8v8h-8zM272 520h8v8h-8zM312 520h8v8h-8zM752 520h8v8h-8zM472 536h8v8h-8zM720 536h8v8h-8zM464 544h8v8h-8zM392 568h8v8h-8zM656 576h8v8h-8zM480 584h8v8h-8zM632 584h8v8h-8zM760 584h8v8h-8zM520 592h8v8h-8zM640 592h8v8h-8zM720 592h8v8h-8zM384 600h8v8h-8zM432 600h8v8h-8zM400 608h8v8h-8zM736 608h8v8h-8zM760 608h8v8h-8zM664 616h8v8h-8zM744 616h8v8h-8zM728 624h8v8h-8zM760 632h8v8h-8zM720 640h8v8h-8zM744 656h8v8h-8zM392 664h8v8h-8zM464 664h8v8h-8zM720 680h8v8h-8zM608 688h8v8h-8zM712 688h8v8h-8zM752 688h8v8h-8zM360 696h8v8h-8zM672 696h8v8h-8zM360 704h8v8h-8zM376 704h8v8h-8zM536 704h8v8h-8zM576 704h8v8h-8zM656 704h8v8h-8zM712 704h8v8h-8zM728 704h8v8h-8zM744 704h8v8h-8zM552 712h8v8h-8zM616 712h16v8h-16zM728 712h8v8h-8zM528 720h8v8h-8zM720 720h8v8h-8zM752 720h8v8h-8zM536 728h8v8h-8zM616 728h8v8h-8zM632 728h8v8h-8zM624 736h8v8h-8zM728 736h8v8h-8zM640 744h16v8h-16zM712 744h8v8h-8z"/><path fill="#e4e4e4" d="M560 288h8v8h-8zM352 376h8v8h-8zM400 408h8v8h-8zM296 432h8v8h-8zM392 432h8v8h-8zM544 456h8v8h-8zM720 464h8v8h-8zM272 472h8v8h-8zM720 472h16v8h-16zM256 480h8v8h-8zM760 480h8v8h-8zM760 488h8v8h-8zM720 496h8v8h-8zM744 504h16v8h-16zM280 512h8v8h-8zM480 536h8v8h-8zM736 536h8v8h-8zM736 552h8v8h-8zM728 560h8v8h-8zM752 560h8v8h-8zM720 568h16v8h-16zM312 576h8v8h-8zM728 576h8v8h-8zM752 608h8v8h-8zM752 616h8v8h-8zM720 632h8v8h-8zM736 640h8v8h-8zM704 648h8v8h-8zM680 656h8v8h-8zM760 664h8v8h-8zM736 672h8v8h-8zM448 680h8v8h-8zM704 680h8v8h-8zM616 688h8v8h-8zM664 688h16v8h-16zM688 688h8v8h-8zM760 688h8v8h-8zM552 696h8v8h-8zM688 696h8v8h-8zM736 696h8v8h-8zM752 696h8v8h-8zM672 704h24v8h-24zM688 712h8v8h-8zM384 720h8v8h-8zM520 720h8v8h-8zM592 720h8v8h-8zM744 720h8v8h-8zM400 728h8v8h-8zM520 728h8v8h-8zM624 728h8v8h-8zM680 728h8v8h-8zM720 736h8v8h-8zM616 744h16v8h-16zM488 760h8v8h-8z"/><path fill="#e8e8e8" d="M448 296h8v8h-8zM408 304h8v8h-8zM552 312h8v8h-8zM440 320h8v8h-8zM360 344h8v8h-8zM488 352h8v8h-8zM608 368h8v8h-8zM648 368h8v8h-8zM408 392h8v8h-8zM440 392h8v8h-8zM648 408h8v8h-8zM272 416h8v8h-8zM520 416h8v8h-8zM688 432h8v8h-8zM256 440h8v8h-8zM752 440h8v8h-8zM256 448h8v8h-8zM280 456h8v8h-8zM344 464h8v8h-8zM584 464h8v8h-8zM744 464h16v8h-16zM752 472h8v8h-8zM600 480h8v8h-8zM272 488h8v8h-8zM264 504h8v8h-8zM448 512h8v8h-8zM656 512h8v8h-8zM728 512h8v8h-8zM280 520h8v8h-8zM744 520h8v8h-8zM704 528h8v8h-8zM720 528h8v8h-8zM512 536h8v8h-8zM256 544h8v8h-8zM736 544h8v8h-8zM280 552h8v8h-8zM344 552h8v8h-8zM728 552h8v8h-8zM760 552h8v8h-8zM416 560h8v8h-8zM760 560h8v8h-8zM280 568h8v8h-8zM296 568h8v8h-8zM544 568h8v8h-8zM760 568h8v8h-8zM280 576h8v8h-8zM576 576h8v8h-8zM272 584h8v8h-8zM632 632h8v8h-8zM488 640h8v8h-8zM728 640h8v8h-8zM552 648h8v8h-8zM752 648h8v8h-8zM560 656h8v8h-8zM720 656h8v8h-8zM760 656h8v8h-8zM744 672h8v8h-8zM360 680h8v8h-8zM376 680h8v8h-8zM752 680h8v8h-8zM424 688h8v8h-8zM552 688h8v8h-8zM480 696h8v8h-8zM560 696h8v8h-8zM720 696h16v8h-16zM600 704h8v8h-8zM624 704h8v8h-8zM648 704h8v8h-8zM664 704h8v8h-8zM720 704h8v8h-8zM424 712h8v8h-8zM592 712h8v8h-8zM656 712h8v8h-8zM680 712h8v8h-8zM400 720h8v8h-8zM552 720h8v8h-8zM608 720h8v8h-8zM544 728h8v8h-8zM656 728h8v8h-8zM672 728h8v8h-8zM704 728h8v8h-8zM640 736h8v8h-8zM656 736h8v8h-8zM744 736h16v8h-16zM672 744h8v8h-8zM688 744h8v8h-8z"/><path fill="#ebebeb" d="M432 104h592v8h-592zM432 112h592v8h-592zM432 120h592v8h-592zM432 128h592v8h-592zM432 136h592v8h-592zM432 144h592v8h-592zM432 152h592v8h-592zM432 160h592v8h-592zM432 168h592v8h-592zM432 176h592v8h-592zM432 184h592v8h-592zM432 192h592v8h-592zM432 200h592v8h-592zM432 208h592v8h-592zM248 216h776v8h-776zM248 224h776v8h-776zM248 232h56v8h-56zM312 232h712v8h-712zM408 240h616v8h-616zM328 248h48v8h-48zM384 248h16v8h-16zM408 248h616v8h-616zM328 256h696v8h-696zM328 264h16v8h-16zM352 264h24v8h-24zM384 264h96v8h-96zM504 264h32v8h-32zM552 264h40v8h-40zM608 264h24v8h-24zM672 264h24v8h-24zM704 264h320v8h-320zM328 272h48v8h-48zM384 272h48v8h-48zM440 272h8v8h-8zM456 272h16v8h-16zM480 272h32v8h-32zM520 272h24v8h-24zM552 272h8v8h-8zM568 272h8v8h-8zM592 272h8v8h-8zM608 272h16v8h-16zM632 272h16v8h-16zM656 272h40v8h-40zM712 272h312v8h-312zM328 280h64v8h-64zM400 280h80v8h-80zM488 280h16v8h-16zM528 280h8v8h-8zM544 280h80v8h-80zM632 280h8v8h-8zM648 280h16v8h-16zM672 280h16v8h-16zM704 280h8v8h-8zM720 280h304v8h-304zM328 288h16v8h-16zM352 288h72v8h-72zM464 288h8v8h-8zM488 288h8v8h-8zM520 288h8v8h-8zM544 288h8v8h-8zM592 288h8v8h-8zM632 288h16v8h-16zM656 288h16v8h-16zM680 288h56v8h-56zM744 288h280v8h-280zM392 296h8v8h-8zM424 296h8v8h-8zM440 296h8v8h-8zM488 296h8v8h-8zM528 296h8v8h-8zM592 296h8v8h-8zM632 296h32v8h-32zM680 296h32v8h-32zM728 296h296v8h-296zM432 304h8v8h-8zM496 304h8v8h-8zM520 304h24v8h-24zM560 304h8v8h-8zM576 304h8v8h-8zM592 304h8v8h-8zM616 304h8v8h-8zM632 304h24v8h-24zM664 304h8v8h-8zM680 304h16v8h-16zM720 304h16v8h-16zM744 304h280v8h-280zM392 312h8v8h-8zM408 312h32v8h-32zM608 312h24v8h-24zM640 312h40v8h-40zM696 312h16v8h-16zM720 312h304v8h-304zM384 320h16v8h-16zM720 320h304v8h-304zM376 328h8v8h-8zM392 328h24v8h-24zM720 328h8v8h-8zM736 328h288v8h-288zM376 336h16v8h-16zM400 336h8v8h-8zM728 336h296v8h-296zM272 344h48v8h-48zM328 344h24v8h-24zM384 344h8v8h-8zM400 344h8v8h-8zM416 344h8v8h-8zM720 344h24v8h-24zM752 344h272v8h-272zM272 352h16v8h-16zM296 352h56v8h-56zM360 352h8v8h-8zM376 352h8v8h-8zM408 352h16v8h-16zM720 352h304v8h-304zM272 360h24v8h-24zM304 360h16v8h-16zM328 360h16v8h-16zM360 360h8v8h-8zM408 360h16v8h-16zM728 360h296v8h-296zM272 368h24v8h-24zM304 368h48v8h-48zM360 368h8v8h-8zM392 368h8v8h-8zM720 368h16v8h-16zM744 368h280v8h-280zM336 376h8v8h-8zM392 376h8v8h-8zM720 376h304v8h-304zM392 384h8v8h-8zM720 384h304v8h-304zM344 392h8v8h-8zM360 392h8v8h-8zM416 392h8v8h-8zM720 392h8v8h-8zM736 392h288v8h-288zM352 400h8v8h-8zM392 400h8v8h-8zM720 400h304v8h-304zM768 408h256v8h-256zM768 416h256v8h-256zM768 424h256v8h-256zM768 432h256v8h-256zM728 440h8v8h-8zM768 440h256v8h-256zM768 448h256v8h-256zM728 456h16v8h-16zM768 456h256v8h-256zM264 464h8v8h-8zM768 464h256v8h-256zM760 472h264v8h-264zM744 480h8v8h-8zM768 480h256v8h-256zM752 488h8v8h-8zM768 488h256v8h-256zM768 496h256v8h-256zM768 504h256v8h-256zM768 512h256v8h-256zM768 520h256v8h-256zM768 528h256v8h-256zM224 536h32v8h-32zM272 536h8v8h-8zM504 536h8v8h-8zM768 536h256v8h-256zM224 544h32v8h-32zM768 544h256v8h-256zM224 552h32v8h-32zM768 552h256v8h-256zM224 560h32v8h-32zM720 560h8v8h-8zM768 560h256v8h-256zM224 568h32v8h-32zM768 568h256v8h-256zM224 576h32v8h-32zM648 576h8v8h-8zM672 576h8v8h-8zM768 576h256v8h-256zM224 584h32v8h-32zM768 584h256v8h-256zM224 592h80v8h-80zM768 592h80v8h-80zM856 592h168v8h-168zM224 600h80v8h-80zM768 600h256v8h-256zM224 608h80v8h-80zM664 608h8v8h-8zM768 608h256v8h-256zM224 616h80v8h-80zM768 616h256v8h-256zM272 624h8v8h-8zM296 624h24v8h-24zM328 624h8v8h-8zM768 624h256v8h-256zM272 632h48v8h-48zM328 632h8v8h-8zM768 632h256v8h-256zM264 640h64v8h-64zM768 640h256v8h-256zM280 648h16v8h-16zM304 648h8v8h-8zM328 648h8v8h-8zM768 648h32v8h-32zM808 648h216v8h-216zM288 656h8v8h-8zM312 656h16v8h-16zM768 656h256v8h-256zM264 664h8v8h-8zM280 664h24v8h-24zM312 664h48v8h-48zM400 664h8v8h-8zM768 664h256v8h-256zM280 672h80v8h-80zM400 672h8v8h-8zM768 672h256v8h-256zM296 680h48v8h-48zM768 680h256v8h-256zM280 688h8v8h-8zM296 688h16v8h-16zM328 688h8v8h-8zM344 688h16v8h-16zM480 688h8v8h-8zM536 688h8v8h-8zM584 688h8v8h-8zM632 688h8v8h-8zM768 688h256v8h-256zM280 696h16v8h-16zM312 696h48v8h-48zM768 696h256v8h-256zM224 704h8v8h-8zM240 704h56v8h-56zM312 704h32v8h-32zM352 704h8v8h-8zM616 704h8v8h-8zM768 704h256v8h-256zM224 712h40v8h-40zM296 712h32v8h-32zM360 712h8v8h-8zM528 712h8v8h-8zM768 712h256v8h-256zM224 720h8v8h-8zM240 720h24v8h-24zM272 720h24v8h-24zM304 720h32v8h-32zM344 720h16v8h-16zM640 720h8v8h-8zM768 720h256v8h-256zM224 728h80v8h-80zM328 728h8v8h-8zM344 728h16v8h-16zM768 728h256v8h-256zM224 736h32v8h-32zM264 736h40v8h-40zM312 736h16v8h-16zM336 736h32v8h-32zM376 736h16v8h-16zM400 736h16v8h-16zM424 736h184v8h-184zM768 736h256v8h-256zM224 744h48v8h-48zM288 744h32v8h-32zM328 744h8v8h-8zM344 744h16v8h-16zM368 744h24v8h-24zM400 744h208v8h-208zM736 744h8v8h-8zM768 744h256v8h-256zM224 752h64v8h-64zM296 752h24v8h-24zM336 752h8v8h-8zM352 752h8v8h-8zM368 752h16v8h-16zM392 752h80v8h-80zM480 752h24v8h-24zM512 752h8v8h-8zM528 752h496v8h-496zM256 760h56v8h-56zM320 760h16v8h-16zM344 760h112v8h-112zM464 760h8v8h-8zM480 760h8v8h-8zM496 760h232v8h-232zM736 760h288v8h-288zM256 768h40v8h-40zM304 768h64v8h-64zM376 768h8v8h-8zM392 768h40v8h-40zM440 768h8v8h-8zM456 768h248v8h-248zM712 768h8v8h-8zM728 768h8v8h-8zM744 768h16v8h-16zM768 768h256v8h-256zM256 776h16v8h-16zM280 776h24v8h-24zM312 776h24v8h-24zM344 776h16v8h-16zM368 776h24v8h-24zM400 776h16v8h-16zM432 776h56v8h-56zM496 776h8v8h-8zM512 776h8v8h-8zM528 776h32v8h-32zM568 776h32v8h-32zM608 776h32v8h-32zM648 776h16v8h-16zM680 776h136v8h-136zM824 776h200v8h-200zM256 784h8v8h-8zM272 784h80v8h-80zM368 784h40v8h-40zM416 784h56v8h-56zM488 784h80v8h-80zM576 784h88v8h-88zM672 784h16v8h-16zM696 784h48v8h-48zM752 784h24v8h-24zM792 784h48v8h-48zM848 784h176v8h-176zM256 792h16v8h-16zM280 792h8v8h-8zM304 792h24v8h-24zM344 792h8v8h-8zM360 792h24v8h-24zM392 792h56v8h-56zM456 792h8v8h-8zM472 792h24v8h-24zM504 792h16v8h-16zM528 792h128v8h-128zM672 792h48v8h-48zM728 792h16v8h-16zM752 792h40v8h-40zM800 792h8v8h-8zM816 792h208v8h-208zM344 800h64v8h-64zM416 800h32v8h-32zM456 800h32v8h-32zM496 800h160v8h-160zM664 800h80v8h-80zM752 800h24v8h-24zM784 800h40v8h-40zM840 800h184v8h-184zM408 808h616v8h-616zM408 816h272v8h-272zM696 816h328v8h-328zM408 824h616v8h-616zM408 832h616v8h-616zM408 840h616v8h-616zM408 848h616v8h-616zM408 856h616v8h-616zM408 864h616v8h-616zM408 872h616v8h-616zM408 880h616v8h-616zM408 888h616v8h-616zM408 896h616v8h-616zM408 904h616v8h-616zM488 912h536v8h-536zM488 920h536v8h-536zM488 928h536v8h-536z"/><path fill="#ececec" d="M400 312h8v8h-8zM272 408h8v8h-8zM288 408h8v8h-8zM256 416h8v8h-8zM296 416h8v8h-8zM264 424h8v8h-8zM280 440h8v8h-8zM296 440h8v8h-8zM416 440h8v8h-8zM744 440h8v8h-8zM760 440h8v8h-8zM264 448h8v8h-8zM280 448h8v8h-8zM296 448h8v8h-8zM728 448h8v8h-8zM744 448h8v8h-8zM720 456h8v8h-8zM744 456h8v8h-8zM296 464h8v8h-8zM280 472h8v8h-8zM288 480h8v8h-8zM720 488h16v8h-16zM744 488h8v8h-8zM288 496h16v8h-16zM720 504h8v8h-8zM264 512h8v8h-8zM288 512h8v8h-8zM328 512h8v8h-8zM760 512h8v8h-8zM256 520h8v8h-8zM744 528h8v8h-8zM680 536h8v8h-8zM760 536h8v8h-8zM728 544h8v8h-8zM264 552h8v8h-8zM720 552h8v8h-8zM752 552h8v8h-8zM256 568h8v8h-8zM744 568h16v8h-16zM264 576h8v8h-8zM264 584h8v8h-8zM328 584h8v8h-8zM744 592h8v8h-8zM736 624h8v8h-8zM744 632h8v8h-8zM760 648h8v8h-8zM752 664h8v8h-8zM472 672h8v8h-8zM672 672h8v8h-8zM624 688h8v8h-8zM736 688h8v8h-8zM712 696h8v8h-8zM432 704h8v8h-8zM584 712h8v8h-8zM760 712h8v8h-8zM376 720h8v8h-8zM688 720h8v8h-8zM704 720h8v8h-8zM688 728h8v8h-8zM736 728h16v8h-16zM608 736h16v8h-16zM696 736h8v8h-8zM632 744h8v8h-8zM680 744h8v8h-8zM720 744h16v8h-16zM744 744h8v8h-8z"/><path fill="#f0f0f0" d="M528 288h8v8h-8zM456 296h8v8h-8zM512 296h8v8h-8zM464 304h8v8h-8zM600 304h8v8h-8zM624 304h8v8h-8zM448 312h8v8h-8zM496 312h8v8h-8zM256 408h8v8h-8zM280 408h8v8h-8zM320 408h8v8h-8zM312 416h8v8h-8zM336 416h8v8h-8zM360 416h8v8h-8zM280 424h8v8h-8zM296 424h8v8h-8zM312 424h8v8h-8zM344 424h8v8h-8zM256 432h8v8h-8zM272 432h8v8h-8zM416 432h8v8h-8zM264 440h16v8h-16zM688 440h8v8h-8zM336 448h8v8h-8zM376 448h8v8h-8zM720 448h8v8h-8zM736 448h8v8h-8zM296 456h8v8h-8zM680 456h8v8h-8zM752 456h8v8h-8zM256 464h8v8h-8zM288 464h8v8h-8zM736 464h8v8h-8zM264 472h8v8h-8zM696 472h8v8h-8zM280 480h8v8h-8zM720 480h24v8h-24zM296 488h8v8h-8zM680 488h8v8h-8zM264 496h16v8h-16zM464 496h8v8h-8zM696 496h8v8h-8zM728 496h8v8h-8zM752 496h8v8h-8zM272 504h8v8h-8zM288 504h8v8h-8zM504 504h16v8h-16zM736 504h8v8h-8zM256 512h8v8h-8zM688 512h8v8h-8zM736 512h24v8h-24zM288 520h8v8h-8zM328 520h8v8h-8zM720 520h8v8h-8zM256 528h8v8h-8zM272 528h16v8h-16zM712 528h8v8h-8zM736 528h8v8h-8zM296 536h8v8h-8zM320 536h16v8h-16zM688 536h8v8h-8zM728 536h8v8h-8zM264 544h8v8h-8zM288 544h8v8h-8zM704 544h8v8h-8zM304 552h8v8h-8zM560 552h8v8h-8zM712 552h8v8h-8zM256 560h8v8h-8zM288 560h8v8h-8zM744 560h8v8h-8zM264 568h8v8h-8zM304 568h8v8h-8zM680 568h8v8h-8zM696 576h8v8h-8zM712 576h8v8h-8zM760 576h8v8h-8zM288 584h8v8h-8zM664 584h8v8h-8zM720 584h8v8h-8zM736 584h8v8h-8zM328 592h8v8h-8zM664 592h8v8h-8zM728 592h8v8h-8zM760 592h8v8h-8zM640 600h8v8h-8zM720 600h8v8h-8zM320 608h8v8h-8zM712 608h8v8h-8zM648 616h8v8h-8zM632 624h8v8h-8zM752 624h8v8h-8zM648 640h8v8h-8zM744 640h8v8h-8zM656 656h8v8h-8zM360 664h8v8h-8zM416 664h8v8h-8zM640 664h8v8h-8zM672 664h16v8h-16zM736 664h8v8h-8zM680 672h8v8h-8zM704 672h8v8h-8zM760 672h8v8h-8zM504 688h8v8h-8zM520 688h8v8h-8zM576 688h8v8h-8zM456 696h8v8h-8zM544 696h8v8h-8zM568 696h16v8h-16zM656 696h8v8h-8zM704 696h8v8h-8zM744 696h8v8h-8zM488 704h8v8h-8zM752 704h8v8h-8zM448 712h8v8h-8zM568 712h8v8h-8zM608 712h8v8h-8zM696 712h8v8h-8zM368 720h8v8h-8zM568 720h8v8h-8zM624 720h8v8h-8zM648 720h8v8h-8zM760 720h8v8h-8zM448 728h8v8h-8zM552 728h8v8h-8zM584 728h24v8h-24zM640 728h8v8h-8zM752 728h8v8h-8zM632 736h8v8h-8zM704 736h16v8h-16z"/><path fill="#f4f4f4" d="M528 320h8v8h-8zM512 344h8v8h-8zM400 368h8v8h-8zM480 384h8v8h-8zM256 424h8v8h-8zM504 432h8v8h-8zM640 432h8v8h-8zM664 432h8v8h-8zM304 440h8v8h-8zM512 440h8v8h-8zM272 448h8v8h-8zM488 448h8v8h-8zM608 448h8v8h-8zM264 456h8v8h-8zM616 456h8v8h-8zM272 464h8v8h-8zM296 472h8v8h-8zM440 472h8v8h-8zM264 488h8v8h-8zM280 496h8v8h-8zM760 496h8v8h-8zM256 504h8v8h-8zM296 512h8v8h-8zM752 528h8v8h-8zM280 536h8v8h-8zM352 536h8v8h-8zM400 544h8v8h-8zM296 552h8v8h-8zM280 560h8v8h-8zM304 560h8v8h-8zM480 576h8v8h-8zM672 592h8v8h-8zM456 600h8v8h-8zM368 616h8v8h-8zM360 624h8v8h-8zM416 624h8v8h-8zM384 632h8v8h-8zM600 632h8v8h-8zM560 640h8v8h-8zM576 640h16v8h-16zM440 664h8v8h-8zM400 704h8v8h-8zM376 712h8v8h-8zM640 712h8v8h-8zM736 712h8v8h-8zM616 720h8v8h-8zM528 728h8v8h-8zM664 728h8v8h-8zM696 728h8v8h-8zM664 736h8v8h-8zM688 736h8v8h-8z"/><path fill="#f8f8f8" d="M448 288h8v8h-8zM480 296h8v8h-8zM616 296h8v8h-8zM480 304h16v8h-16zM584 304h8v8h-8zM536 312h8v8h-8zM344 408h8v8h-8zM264 416h8v8h-8zM368 424h8v8h-8zM720 424h8v8h-8zM752 424h8v8h-8zM264 432h8v8h-8zM280 432h8v8h-8zM720 432h8v8h-8zM360 440h8v8h-8zM680 440h8v8h-8zM752 448h8v8h-8zM256 456h8v8h-8zM288 456h8v8h-8zM400 456h8v8h-8zM688 456h8v8h-8zM728 464h8v8h-8zM760 464h8v8h-8zM736 472h16v8h-16zM264 480h16v8h-16zM296 480h8v8h-8zM528 480h8v8h-8zM680 480h8v8h-8zM752 480h8v8h-8zM256 488h8v8h-8zM280 488h8v8h-8zM520 488h8v8h-8zM688 488h8v8h-8zM704 488h8v8h-8zM256 496h8v8h-8zM528 496h8v8h-8zM736 496h8v8h-8zM280 504h8v8h-8zM328 504h8v8h-8zM688 504h8v8h-8zM272 512h8v8h-8zM488 512h8v8h-8zM552 512h8v8h-8zM296 520h8v8h-8zM264 528h8v8h-8zM488 528h8v8h-8zM544 528h8v8h-8zM760 528h8v8h-8zM256 536h8v8h-8zM528 536h8v8h-8zM744 536h16v8h-16zM272 544h16v8h-16zM296 544h8v8h-8zM696 544h8v8h-8zM752 544h8v8h-8zM312 552h8v8h-8zM688 552h8v8h-8zM744 552h8v8h-8zM296 560h8v8h-8zM704 560h8v8h-8zM288 568h8v8h-8zM696 568h8v8h-8zM296 576h8v8h-8zM320 576h16v8h-16zM720 576h8v8h-8zM736 576h8v8h-8zM256 584h8v8h-8zM296 584h8v8h-8zM744 584h8v8h-8zM312 592h8v8h-8zM648 592h8v8h-8zM328 600h8v8h-8zM656 600h8v8h-8zM696 600h8v8h-8zM728 600h8v8h-8zM304 608h8v8h-8zM728 608h8v8h-8zM744 608h8v8h-8zM736 616h8v8h-8zM656 624h8v8h-8zM696 624h8v8h-8zM712 624h8v8h-8zM760 624h8v8h-8zM632 648h8v8h-8zM680 648h8v8h-8zM696 656h8v8h-8zM752 656h8v8h-8zM728 664h8v8h-8zM392 672h8v8h-8zM440 672h16v8h-16zM640 672h8v8h-8zM736 680h16v8h-16zM440 688h8v8h-8zM696 688h8v8h-8zM376 696h24v8h-24zM496 696h8v8h-8zM512 696h8v8h-8zM584 696h8v8h-8zM600 696h8v8h-8zM616 696h8v8h-8zM632 696h8v8h-8zM392 704h8v8h-8zM520 704h8v8h-8zM640 704h8v8h-8zM416 712h8v8h-8zM512 712h8v8h-8zM576 712h8v8h-8zM712 712h8v8h-8zM408 720h8v8h-8zM696 720h8v8h-8zM368 728h8v8h-8zM720 728h16v8h-16zM672 736h8v8h-8zM760 736h8v8h-8zM664 744h8v8h-8zM696 744h8v8h-8z"/><rect x="943" y="464" width="81" height="16" fill="#fff"/></g><rect x="423" y="743.5" width="344" height="7" fill="#b0b0b0"/><rect x="72" y="535" width="64" height="18" fill="#000" opacity=".12" filter="url(#b2)"/><rect x="248.5" y="411" width="6.5" height="177" fill="#a2a2a2"/><rect x="256" y="431.5" width="74" height="6.5" fill="#b0b0b0"/><rect x="256" y="504" width="48" height="6" fill="#b0b0b0"/><rect x="256" y="589" width="60" height="6" fill="#bdbdbd"/><rect x="219" y="537" width="5" height="86" fill="#aaa"/><rect x="256" y="537.5" width="48" height="6" fill="#c4c4c4"/><rect x="218" y="537" width="1" height="86" fill="#fff"/><rect x="760.5" y="438" width="6" height="252" fill="#b2b2b2"/><rect x="760.5" y="411" width="6" height="27" fill="#c8c8c8"/><rect x="152" y="432" width="104" height="6" fill="#a8a8a8"/><rect x="76" y="541" width="60" height="3" fill="#999"/><rect x="407" y="286" width="233" height="11" fill="#000" opacity=".08" filter="url(#b2)"/><rect x="413" y="288.5" width="221" height="1" fill="#aaa"/><rect x="413" y="289.5" width="221" height="1.2" fill="#777"/><rect x="413" y="290.7" width="221" height="1" fill="#fff"/><rect x="123" y="405.5" width="139" height="12" fill="#000" opacity=".08" filter="url(#b2)"/><rect x="129" y="408.0" width="127" height="2" fill="#aaa"/><rect x="129" y="410.0" width="127" height="1.2" fill="#777"/><rect x="129" y="411.2" width="127" height="1" fill="#fff"/><rect x="760" y="404.5" width="176" height="13" fill="#000" opacity=".08" filter="url(#b2)"/><rect x="766" y="407.0" width="164" height="3" fill="#aaa"/><rect x="766" y="410.0" width="164" height="1.2" fill="#777"/><rect x="766" y="411.2" width="164" height="1" fill="#fff"/><rect x="146" y="429.5" width="116" height="16" fill="#000" opacity=".08" filter="url(#b2)"/><rect x="152" y="432.0" width="104" height="6" fill="#b4b4b4"/><rect x="152" y="438.0" width="104" height="1.2" fill="#777"/><rect x="152" y="439.2" width="104" height="1" fill="#fff"/><rect x="760" y="428.5" width="123" height="17" fill="#000" opacity=".08" filter="url(#b2)"/><rect x="766" y="431.0" width="111" height="7" fill="#b4b4b4"/><rect x="766" y="438.0" width="111" height="1.2" fill="#777"/><rect x="766" y="439.2" width="111" height="1" fill="#fff"/><rect x="760" y="467.5" width="186" height="12" fill="#000" opacity=".08" filter="url(#b2)"/><rect x="766" y="470.0" width="174" height="2" fill="#aaa"/><rect x="766" y="472.0" width="174" height="1.2" fill="#777"/><rect x="766" y="473.2" width="174" height="1" fill="#fff"/><rect x="142" y="501.5" width="120" height="16" fill="#000" opacity=".08" filter="url(#b2)"/><rect x="148" y="504.0" width="108" height="6" fill="#aaa"/><rect x="148" y="510.0" width="108" height="1.2" fill="#777"/><rect x="148" y="511.2" width="108" height="1" fill="#fff"/><rect x="760" y="501.5" width="13" height="16" fill="#000" opacity=".08" filter="url(#b2)"/><rect x="766" y="504.0" width="1" height="6" fill="#aaa"/><rect x="766" y="510.0" width="1" height="1.2" fill="#777"/><rect x="766" y="511.2" width="1" height="1" fill="#fff"/><rect x="70" y="538" width="192" height="13" fill="#000" opacity=".08" filter="url(#b2)"/><rect x="76" y="540.5" width="180" height="3" fill="#c4c4c4"/><rect x="76" y="543.5" width="180" height="1.2" fill="#777"/><rect x="76" y="544.7" width="180" height="1" fill="#fff"/><rect x="760" y="535" width="149" height="16" fill="#000" opacity=".08" filter="url(#b2)"/><rect x="766" y="537.5" width="137" height="6" fill="#c4c4c4"/><rect x="766" y="543.5" width="137" height="1.2" fill="#777"/><rect x="766" y="544.7" width="137" height="1" fill="#fff"/><rect x="211" y="563.5" width="51" height="13" fill="#000" opacity=".08" filter="url(#b2)"/><rect x="217" y="566.0" width="39" height="3" fill="#aaa"/><rect x="217" y="569.0" width="39" height="1.2" fill="#777"/><rect x="217" y="570.2" width="39" height="1" fill="#fff"/><rect x="760" y="564.5" width="101" height="12" fill="#000" opacity=".08" filter="url(#b2)"/><rect x="766" y="567.0" width="89" height="2" fill="#aaa"/><rect x="766" y="569.0" width="89" height="1.2" fill="#777"/><rect x="766" y="570.2" width="89" height="1" fill="#fff"/><rect x="248" y="579" width="14" height="16" fill="#000" opacity=".08" filter="url(#b2)"/><rect x="254" y="581.5" width="2" height="6" fill="#aaa"/><rect x="254" y="587.5" width="2" height="1.2" fill="#777"/><rect x="254" y="588.7" width="2" height="1" fill="#fff"/><rect x="211" y="593" width="51" height="13" fill="#000" opacity=".08" filter="url(#b2)"/><rect x="217" y="595.5" width="39" height="3" fill="#aaa"/><rect x="217" y="598.5" width="39" height="1.2" fill="#777"/><rect x="217" y="599.7" width="39" height="1" fill="#fff"/><rect x="236" y="609" width="26" height="13" fill="#000" opacity=".08" filter="url(#b2)"/><rect x="242" y="611.5" width="14" height="3" fill="#aaa"/><rect x="242" y="614.5" width="14" height="1.2" fill="#777"/><rect x="242" y="615.7" width="14" height="1" fill="#fff"/><rect x="760" y="653" width="140" height="16" fill="#000" opacity=".08" filter="url(#b2)"/><rect x="766" y="655.5" width="128" height="6" fill="#c8c8c8"/><rect x="766" y="661.5" width="128" height="1.2" fill="#777"/><rect x="766" y="662.7" width="128" height="1" fill="#fff"/><rect x="760" y="678" width="109" height="16" fill="#000" opacity=".08" filter="url(#b2)"/><rect x="766" y="680.5" width="97" height="6" fill="#adadad"/><rect x="766" y="686.5" width="97" height="1.2" fill="#777"/><rect x="766" y="687.7" width="97" height="1" fill="#fff"/><rect x="760" y="741" width="118" height="17" fill="#000" opacity=".08" filter="url(#b2)"/><rect x="766" y="743.5" width="106" height="7" fill="#adadad"/><rect x="766" y="750.5" width="106" height="1.2" fill="#777"/><rect x="766" y="751.7" width="106" height="1" fill="#fff"/><rect x="424" y="97" width="8" height="119" fill="#e2e2e2"/><rect x="401.5" y="284" width="13" height="17" fill="#000" opacity=".09" filter="url(#b2)"/><rect x="404.5" y="290" width="5" height="5" fill="url(#gl)"/><rect x="409.5" y="290" width="1" height="5" fill="#fff"/><rect x="410.5" y="290" width="1.2" height="5" fill="#777"/><rect x="402.5" y="745" width="12" height="144" fill="#000" opacity=".09" filter="url(#b2)"/><rect x="405.5" y="751" width="4" height="132" fill="url(#gl)"/><rect x="409.5" y="751" width="1" height="132" fill="#fff"/><rect x="410.5" y="751" width="1.2" height="132" fill="#777"/><rect x="413" y="90" width="14" height="211" fill="#000" opacity=".09" filter="url(#b2)"/><rect x="416" y="96" width="6" height="199" fill="url(#gl)"/><rect x="422" y="96" width="1" height="199" fill="#fff"/><rect x="423" y="96" width="1.2" height="199" fill="#777"/><rect x="435" y="745" width="12" height="102" fill="#000" opacity=".09" filter="url(#b2)"/><rect x="438" y="751" width="4" height="90" fill="url(#gl)"/><rect x="442" y="751" width="1" height="90" fill="#fff"/><rect x="443" y="751" width="1.2" height="90" fill="#777"/><rect x="460" y="228" width="9" height="73" fill="#000" opacity=".09" filter="url(#b2)"/><rect x="463" y="234" width="1" height="61" fill="url(#gl)"/><rect x="464" y="234" width="1" height="61" fill="#fff"/><rect x="465" y="234" width="1.2" height="61" fill="#777"/><rect x="460" y="745" width="9" height="57" fill="#000" opacity=".09" filter="url(#b2)"/><rect x="463" y="751" width="1" height="45" fill="url(#gl)"/><rect x="464" y="751" width="1" height="45" fill="#fff"/><rect x="465" y="751" width="1.2" height="45" fill="#777"/><rect x="486" y="112" width="11" height="189" fill="#000" opacity=".09" filter="url(#b2)"/><rect x="489" y="118" width="3" height="177" fill="url(#gl)"/><rect x="492" y="118" width="1" height="177" fill="#fff"/><rect x="493" y="118" width="1.2" height="177" fill="#777"/><rect x="486" y="745" width="11" height="192" fill="#000" opacity=".09" filter="url(#b2)"/><rect x="489" y="751" width="3" height="180" fill="url(#gl)"/><rect x="492" y="751" width="1" height="180" fill="#fff"/><rect x="493" y="751" width="1.2" height="180" fill="#777"/><rect x="504" y="230" width="11" height="71" fill="#000" opacity=".09" filter="url(#b2)"/><rect x="507" y="236" width="3" height="59" fill="url(#gl)"/><rect x="510" y="236" width="1" height="59" fill="#fff"/><rect x="511" y="236" width="1.2" height="59" fill="#777"/><rect x="504" y="745" width="11" height="136" fill="#000" opacity=".09" filter="url(#b2)"/><rect x="507" y="751" width="3" height="124" fill="url(#gl)"/><rect x="510" y="751" width="1" height="124" fill="#fff"/><rect x="511" y="751" width="1.2" height="124" fill="#777"/><rect x="559" y="112" width="11" height="189" fill="#000" opacity=".09" filter="url(#b2)"/><rect x="562" y="118" width="3" height="177" fill="url(#gl)"/><rect x="565" y="118" width="1" height="177" fill="#fff"/><rect x="566" y="118" width="1.2" height="177" fill="#777"/><rect x="631" y="100" width="13" height="201" fill="#000" opacity=".09" filter="url(#b2)"/><rect x="635" y="106" width="5" height="189" fill="url(#gr)"/><rect x="634" y="106" width="1" height="189" fill="#fff"/><rect x="632.8" y="106" width="1.2" height="189" fill="#777"/><rect x="631" y="745" width="13" height="77" fill="#000" opacity=".09" filter="url(#b2)"/><rect x="635" y="751" width="5" height="65" fill="url(#gr)"/><rect x="634" y="751" width="1" height="65" fill="#fff"/><rect x="632.8" y="751" width="1.2" height="65" fill="#777"/><rect x="757" y="404" width="14" height="300" fill="#000" opacity=".09" filter="url(#b2)"/><rect x="760" y="410" width="6" height="288" fill="url(#gl)"/><rect x="766" y="410" width="1" height="288" fill="#fff"/><rect x="767" y="410" width="1.2" height="288" fill="#777"/><rect x="245" y="404" width="14" height="190" fill="#000" opacity=".09" filter="url(#b2)"/><rect x="248" y="410" width="6" height="178" fill="url(#gl)"/><rect x="254" y="410" width="1" height="178" fill="#fff"/><rect x="255" y="410" width="1.2" height="178" fill="#777"/><rect x="464" y="111" width="7.5" height="82" fill="#7c7c7c"/><rect x="465" y="111" width="1.2" height="82" fill="#333"/><rect x="466" y="234" width="6" height="116" fill="#8a8a8a" opacity=".8"/><rect x="466" y="696" width="6" height="100" fill="#8a8a8a" opacity=".8"/><rect x="423" y="319.3" width="296" height="3.6" fill="#fff" opacity=".9"/><rect x="443" y="333.3" width="167" height="3.6" fill="#fff" opacity=".9"/><rect x="256" y="408.8" width="510" height="3.6" fill="#fff" opacity=".9"/><rect x="256" y="436.8" width="510" height="3.6" fill="#fff" opacity=".9"/><rect x="304" y="462.3" width="415" height="3.6" fill="#fff" opacity=".9"/><rect x="340" y="470.8" width="426" height="3.6" fill="#fff" opacity=".9"/><rect x="256" y="508.8" width="510" height="3.6" fill="#fff" opacity=".9"/><rect x="256" y="542.3" width="510" height="3.6" fill="#fff" opacity=".9"/><rect x="256" y="567.8" width="510" height="3.6" fill="#fff" opacity=".9"/><rect x="256" y="586.3" width="194" height="3.6" fill="#fff" opacity=".9"/><rect x="256" y="597.3" width="184" height="3.6" fill="#fff" opacity=".9"/><rect x="256" y="613.3" width="144" height="3.6" fill="#fff" opacity=".9"/><rect x="340" y="660.3" width="426" height="3.6" fill="#fff" opacity=".9"/><rect x="485" y="685.3" width="281" height="3.6" fill="#fff" opacity=".9"/><rect x="359" y="730.3" width="251" height="3.6" fill="#fff" opacity=".9"/><rect x="423" y="749.3" width="343" height="3.6" fill="#fff" opacity=".9"/><rect x="443" y="483.3" width="145" height="3.6" fill="#fff" opacity=".9"/><rect x="440" y="554.3" width="143" height="3.6" fill="#fff" opacity=".9"/><rect x="440" y="577.3" width="143" height="3.6" fill="#fff" opacity=".9"/><rect x="485" y="596.3" width="98" height="3.6" fill="#fff" opacity=".9"/><rect x="408.8" y="295" width="3.6" height="456" fill="#fff" opacity=".9"/><rect x="421.3" y="295" width="3.6" height="456" fill="#fff" opacity=".9"/><rect x="441.3" y="335" width="3.6" height="416" fill="#fff" opacity=".9"/><rect x="463.3" y="295" width="3.6" height="456" fill="#fff" opacity=".9"/><rect x="491.3" y="295" width="3.6" height="456" fill="#fff" opacity=".9"/><rect x="509.3" y="295" width="3.6" height="456" fill="#fff" opacity=".9"/><rect x="564.3" y="295" width="3.6" height="392" fill="#fff" opacity=".9"/><rect x="579.3" y="410" width="3.6" height="277" fill="#fff" opacity=".9"/><rect x="608.3" y="334" width="3.6" height="398" fill="#fff" opacity=".9"/><rect x="632.3" y="295" width="3.6" height="456" fill="#fff" opacity=".9"/><rect x="678.8" y="463" width="3.6" height="153" fill="#fff" opacity=".9"/><rect x="717.3" y="321" width="3.6" height="259" fill="#fff" opacity=".9"/><rect x="302.8" y="464" width="3.6" height="241" fill="#fff" opacity=".9"/><rect x="337.8" y="464" width="3.6" height="198" fill="#fff" opacity=".9"/><rect x="357.3" y="510" width="3.6" height="222" fill="#fff" opacity=".9"/><rect x="450.0" y="455" width="3.6" height="145" fill="#fff" opacity=".9"/><rect x="482.8" y="455" width="3.6" height="145" fill="#fff" opacity=".9"/><rect x="541.3" y="455" width="3.6" height="235" fill="#fff" opacity=".9"/><rect x="569.3" y="455" width="3.6" height="145" fill="#fff" opacity=".9"/><rect x="585.9" y="410" width="3.6" height="171" fill="#fff" opacity=".9"/><path d="M254.5 411.5 L374.5 529" fill="none" stroke="#fff" stroke-width="2.8" opacity=".7"/><path d="M298 580 L370 508 L442 439" fill="none" stroke="#fff" stroke-width="2.8" opacity=".7"/><path d="M303 583 L372 514 L446 443" fill="none" stroke="#fff" stroke-width="2.4000000000000004" opacity=".7"/><path d="M766 412 L740 428 L680 463 L640 484 L609 500 L579 517.5 L544 529 L509 541 L471.5 557.5 L444 568" fill="none" stroke="#fff" stroke-width="2.8" opacity=".7"/><path d="M581 425 L605 480 L628 537 L666 575 L696 611 L768 697" fill="none" stroke="#fff" stroke-width="2.8" opacity=".7"/><path d="M272 758 L412 697 L394 696" fill="none" stroke="#fff" stroke-width="2.8" opacity=".7"/><path d="M413 290 L474 348" fill="none" stroke="#fff" stroke-width="2.8" opacity=".7"/><path d="M509 509 L466 465" fill="none" stroke="#fff" stroke-width="2.8" opacity=".7"/><path d="M509 509 L544 475" fill="none" stroke="#fff" stroke-width="2.8" opacity=".7"/><path d="M509 509 L471 537" fill="none" stroke="#fff" stroke-width="2.8" opacity=".7"/><path d="M509 509 L564 560 L581 580" fill="none" stroke="#fff" stroke-width="2.8" opacity=".7"/><path d="M485 601 L510 630 L565 685.5 L604 720" fill="none" stroke="#fff" stroke-width="2.6" opacity=".7"/><path d="M510 657 L565 685.5" fill="none" stroke="#fff" stroke-width="2.6" opacity=".7"/><path d="M510 657 L560 648 L606 635" fill="none" stroke="#fff" stroke-width="2.6" opacity=".7"/><path d="M394 660 L440 655 L510 657" fill="none" stroke="#fff" stroke-width="2.6" opacity=".7"/><path d="M642 630 L670 622 L696 611 L727 601" fill="none" stroke="#fff" stroke-width="2.6" opacity=".7"/><path d="M445 565.6 L470 574 L500 580 L540 578" fill="none" stroke="#fff" stroke-width="2.4000000000000004" opacity=".7"/><path d="M509 509 L530 520 L566 545 L600 560" fill="none" stroke="#fff" stroke-width="2.4000000000000004" opacity=".7"/><path d="M509 509 L495 530 L488 556" fill="none" stroke="#fff" stroke-width="2.4000000000000004" opacity=".7"/><path d="M429.9 535.8h0M446.2 364.3h0M498.9 452.0h0M439.3 366.4h0M511.5 372.7h0M677.1 369.6h0M579.3 388.7h0M621.4 406.6h0M608.4 354.0h0M656.0 422.6h0M497.2 544.8h0M661.2 447.2h0M687.9 555.1h0M597.0 423.5h0M645.4 517.5h0M660.4 457.5h0M437.6 539.2h0M664.3 451.8h0M653.6 478.6h0M532.4 436.4h0M555.9 485.9h0M448.9 551.4h0M712.5 400.0h0M448.1 406.6h0M710.4 437.2h0M460.6 390.9h0M447.3 371.8h0M689.9 372.7h0M580.6 523.2h0M510.2 387.3h0M604.5 462.6h0M672.4 410.6h0M520.6 376.0h0M644.3 327.8h0M484.7 335.5h0M713.4 400.1h0M581.4 554.4h0M711.9 327.3h0M619.3 332.3h0M700.9 351.9h0M571.0 484.2h0M691.8 364.5h0M688.8 361.9h0M600.7 557.8h0M551.4 568.4h0M597.2 545.1h0M442.5 388.2h0M668.5 356.4h0M429.3 364.9h0M595.5 477.6h0M667.8 441.9h0M704.2 388.2h0M464.0 559.9h0M521.8 364.7h0M591.7 445.4h0M638.9 393.0h0M511.7 406.5h0M451.5 339.7h0M656.3 401.2h0M691.2 495.2h0M710.5 426.3h0M631.6 564.3h0M493.3 365.7h0M554.1 330.5h0M625.8 389.9h0M704.2 555.1h0M544.7 445.5h0M624.7 377.1h0M553.9 545.0h0M575.3 332.8h0M463.4 520.8h0M598.3 549.8h0M510.1 415.9h0M479.6 410.9h0M536.3 546.1h0M450.3 345.4h0M495.5 577.7h0M621.7 436.4h0M713.2 510.6h0M662.1 399.4h0M524.7 386.1h0M613.9 573.5h0M628.4 458.0h0M504.0 542.9h0M486.0 396.4h0M439.3 541.4h0M643.1 523.6h0M613.6 522.7h0M484.8 461.2h0M479.2 496.2h0M573.9 351.1h0M555.2 489.4h0M435.6 550.7h0M481.6 363.4h0M477.7 541.2h0M435.4 561.1h0M469.4 545.9h0M452.7 330.3h0M687.3 409.5h0M668.0 333.4h0M706.7 378.6h0M485.3 491.6h0M575.5 346.6h0M679.4 405.8h0M593.8 353.1h0M640.9 478.7h0M657.5 359.9h0M540.6 579.8h0M522.9 361.5h0M634.6 475.5h0M717.1 512.4h0M651.5 421.6h0M647.7 480.9h0M474.0 409.4h0M467.9 480.6h0M581.2 468.7h0M652.1 339.9h0M549.0 411.1h0M669.2 364.6h0M595.0 579.9h0M472.7 414.5h0M692.5 503.6h0M498.7 489.0h0M547.7 572.5h0M697.3 379.8h0M480.7 451.8h0M439.9 550.3h0M436.8 558.9h0M618.1 567.3h0M579.0 374.5h0M561.3 540.6h0M517.9 432.6h0M665.6 532.9h0M457.1 322.6h0M702.3 515.5h0M635.0 451.1h0M678.3 552.2h0M569.9 361.2h0M651.1 354.0h0M500.1 332.1h0M443.3 471.8h0M705.3 496.0h0M570.2 415.7h0M683.8 343.1h0M579.5 522.7h0M687.2 512.5h0M598.0 339.6h0M597.8 504.9h0M520.6 362.6h0M584.0 440.9h0M488.1 409.8h0M665.7 506.7h0M524.2 371.8h0M522.6 365.1h0M537.4 512.6h0M428.8 554.6h0M623.2 487.7h0M687.7 577.6h0M556.1 393.3h0M429.0 383.4h0M433.2 488.7h0M495.3 520.1h0M590.4 408.2h0M516.3 553.4h0M447.1 353.7h0M551.0 558.9h0M429.6 462.5h0M441.1 440.8h0M638.9 367.9h0M692.1 373.9h0M504.0 449.3h0M655.0 423.7h0M449.0 552.9h0M703.7 441.1h0M554.9 568.9h0M676.9 333.9h0M666.2 502.2h0M630.8 380.5h0M503.0 513.0h0M430.4 472.4h0M650.5 500.4h0M469.8 574.8h0M556.9 548.7h0M452.1 444.2h0M502.2 369.5h0M501.2 401.4h0M431.4 444.0h0M667.7 561.8h0M611.2 367.0h0M505.3 577.4h0M691.0 430.2h0M503.8 355.1h0M604.0 374.0h0M441.0 562.2h0M478.1 519.2h0M539.7 523.0h0M661.4 467.3h0M711.5 409.3h0M654.6 420.1h0M494.5 352.0h0M675.6 343.5h0M581.2 510.6h0M640.5 405.8h0M424.5 415.1h0M456.6 565.3h0M491.9 457.1h0M680.8 432.9h0M473.6 376.6h0M437.9 400.6h0M434.2 502.9h0M552.9 394.1h0M637.2 466.7h0M663.3 439.2h0M687.0 485.1h0M668.2 467.2h0M461.8 497.2h0M703.4 353.8h0M540.9 495.0h0M661.8 481.0h0M554.0 412.3h0M628.5 351.7h0M630.3 447.2h0M466.8 355.3h0M678.8 445.5h0M610.6 560.5h0M464.3 460.9h0M685.6 520.0h0M450.1 482.1h0M556.3 539.6h0M610.0 564.7h0M639.3 335.5h0M432.7 484.9h0M678.1 386.1h0M448.1 570.6h0M424.3 482.5h0M532.1 497.7h0M717.1 364.7h0M456.5 322.4h0M492.7 327.4h0M490.8 465.4h0M429.7 511.8h0M684.8 324.7h0M685.2 468.5h0M448.0 420.6h0M600.1 476.1h0M629.3 488.0h0M692.5 435.2h0M671.5 514.0h0M664.2 541.7h0M449.5 355.7h0M683.8 506.2h0M546.7 572.9h0M539.8 571.7h0M429.5 361.8h0M470.2 449.3h0M498.1 454.6h0M584.2 372.0h0M432.3 453.6h0M548.1 576.5h0M611.0 486.6h0M578.1 396.0h0M593.8 543.0h0M444.3 420.3h0M483.3 502.9h0M657.8 336.0h0M577.4 564.9h0M612.5 345.3h0M590.8 524.7h0M507.2 489.4h0M436.5 568.8h0M468.3 395.2h0M675.9 539.0h0M472.8 482.2h0M701.8 418.8h0M701.0 547.1h0M607.8 530.3h0M669.3 432.4h0M675.2 523.8h0M632.4 447.9h0M427.3 536.6h0M594.7 357.5h0M697.5 540.7h0M715.7 488.3h0M649.2 413.5h0M547.6 379.1h0M452.3 369.4h0M486.7 578.9h0M656.5 362.6h0M585.7 498.1h0M684.5 439.4h0M450.2 499.4h0M643.6 571.1h0M617.2 577.0h0M542.0 442.9h0M604.3 351.7h0M579.1 544.4h0M553.7 573.5h0M672.2 420.3h0M515.3 391.5h0M641.4 564.6h0M697.4 363.8h0M457.4 480.1h0M531.5 576.3h0M476.1 425.5h0M452.7 513.6h0M661.8 409.1h0M473.7 451.9h0M650.4 485.2h0M482.3 513.9h0M697.9 569.2h0M489.7 350.1h0M618.0 524.6h0M643.1 383.3h0M532.7 455.1h0M560.3 554.6h0M685.9 407.6h0M493.4 508.7h0M545.0 432.5h0M702.0 539.6h0M708.8 461.4h0M517.8 417.7h0M531.4 462.8h0M572.7 508.1h0M620.4 497.4h0M654.4 536.6h0M441.4 447.7h0M560.2 511.7h0M674.0 530.5h0M429.3 569.5h0M549.4 481.5h0M592.3 431.0h0M506.8 447.2h0M603.7 388.7h0M468.2 493.5h0M688.2 555.1h0M626.3 474.3h0M448.7 408.1h0M631.4 403.1h0M589.1 385.3h0M679.3 321.4h0M458.3 421.7h0M438.6 381.8h0M534.8 479.1h0M644.6 453.0h0M514.3 373.6h0M667.9 355.7h0M670.0 336.4h0M687.9 540.4h0M704.3 469.1h0M553.8 471.8h0M484.3 452.6h0M512.6 442.0h0M694.8 541.5h0M697.8 542.2h0M648.8 390.8h0M440.4 496.9h0M520.6 473.7h0M525.9 334.6h0M656.6 363.6h0M488.9 531.4h0M663.3 364.8h0M619.2 425.4h0M659.7 429.7h0M514.5 535.9h0M573.0 472.8h0M539.8 572.8h0M673.5 533.5h0M443.5 373.2h0M713.8 502.2h0M621.7 405.1h0M489.4 467.5h0M474.2 461.3h0M443.0 502.7h0M579.8 545.9h0M434.7 526.0h0M622.2 556.2h0M566.3 545.7h0M717.3 476.6h0M633.3 571.9h0M579.2 539.0h0M697.1 367.9h0M680.7 380.2h0M667.2 404.1h0M603.8 498.0h0M426.7 466.7h0M614.0 502.4h0M548.5 483.9h0M445.5 479.1h0M483.9 552.9h0M620.1 540.2h0M503.4 359.4h0M473.1 474.2h0M662.3 371.5h0M670.6 331.0h0M583.9 529.2h0M656.4 365.5h0M444.6 545.3h0M631.0 392.5h0M629.0 444.5h0M478.5 507.9h0M435.7 532.9h0M645.2 327.0h0M670.0 535.4h0M685.7 466.3h0M600.1 329.5h0M446.6 471.1h0M556.8 483.1h0M461.6 417.3h0M597.4 532.9h0M651.7 560.9h0M534.1 479.3h0M504.8 412.3h0M501.5 554.3h0M592.3 523.3h0M566.0 427.4h0M513.8 556.5h0M442.9 471.0h0M674.6 372.8h0M648.3 368.1h0M507.7 522.0h0M505.8 429.3h0M647.8 372.7h0M562.2 355.4h0M612.3 371.8h0M552.5 514.7h0M540.4 379.6h0M528.5 438.5h0M541.2 399.1h0M500.5 346.5h0M605.6 485.9h0M676.1 383.2h0M458.4 567.7h0M548.4 504.6h0M517.2 543.2h0M580.5 507.6h0M544.8 445.7h0M648.2 463.2h0M710.6 561.1h0M674.6 352.7h0M435.8 442.7h0M432.5 374.2h0M540.8 412.8h0M625.5 424.3h0M531.4 545.1h0M539.8 499.1h0M594.7 422.1h0M488.7 546.9h0M546.9 336.0h0M604.0 541.8h0M450.9 346.7h0M540.6 343.4h0M545.1 557.6h0M484.8 534.6h0M716.0 326.3h0M597.2 443.2h0M572.4 463.6h0M702.9 347.2h0M488.8 426.9h0M477.8 571.5h0M583.3 392.9h0M514.1 383.6h0M527.2 512.8h0M513.4 551.0h0M447.6 412.1h0M435.9 323.4h0M618.9 348.8h0M604.0 372.5h0M468.2 361.7h0M568.5 465.0h0M519.8 434.9h0M716.6 491.0h0M541.6 475.8h0M571.4 472.3h0M437.2 435.5h0M436.3 444.1h0M686.7 337.5h0M544.6 476.2h0M526.3 498.6h0M691.8 445.4h0M704.1 473.9h0M511.8 557.7h0M617.2 425.5h0M652.2 484.8h0M493.4 381.5h0M640.2 450.2h0M660.8 496.3h0M471.5 496.7h0M511.4 551.2h0M574.7 498.6h0M510.7 549.9h0M508.8 545.8h0M650.2 392.8h0M429.4 411.4h0M437.0 408.2h0M477.7 420.3h0M543.0 467.6h0M475.4 352.1h0M428.6 482.8h0M704.6 450.3h0M640.7 511.4h0M534.9 554.9h0M619.8 504.4h0M569.4 344.6h0M481.6 442.6h0M573.1 415.9h0M698.6 359.2h0M517.2 467.6h0M490.7 393.0h0M677.6 455.7h0M551.9 515.1h0M543.3 333.5h0M715.4 560.5h0M682.5 525.1h0M633.5 483.1h0M496.0 360.1h0M498.0 510.9h0M556.4 484.0h0M660.2 333.4h0M438.9 379.4h0M625.1 540.1h0M560.9 572.3h0M636.6 479.2h0M496.5 519.1h0M661.4 481.5h0M546.2 503.9h0M696.8 482.5h0M431.6 396.1h0M605.7 565.1h0M532.7 578.3h0M656.6 375.5h0M669.4 501.3h0M697.9 399.7h0M510.2 547.7h0M465.8 408.3h0M668.9 558.9h0M493.0 489.4h0M610.4 447.5h0M525.9 516.2h0M611.2 324.3h0M553.5 535.4h0M531.8 346.7h0M717.1 530.9h0M472.6 493.7h0M439.5 557.9h0M716.0 507.4h0M618.6 343.0h0M472.9 388.7h0M566.6 454.3h0M715.8 471.0h0M712.9 322.5h0M504.3 338.3h0M682.1 492.2h0M476.1 533.8h0M663.7 526.0h0M533.0 492.0h0M573.6 434.0h0M449.8 357.9h0M581.1 478.2h0M557.9 356.5h0M523.0 407.8h0M691.0 456.7h0M609.5 352.1h0M678.0 382.3h0M679.2 446.9h0M493.5 487.1h0M476.1 500.7h0M431.8 439.5h0M627.4 349.5h0M679.0 346.1h0M652.9 529.9h0M621.8 511.9h0M517.1 412.1h0M466.1 420.8h0M545.5 490.4h0M639.2 491.9h0M618.6 405.1h0M504.2 411.5h0M458.1 405.6h0M620.4 449.2h0M659.4 419.6h0M620.1 515.4h0M558.2 530.3h0M687.9 576.5h0M468.1 347.3h0M713.7 418.3h0M525.6 407.7h0M570.3 426.2h0M511.2 465.5h0M576.5 419.1h0M643.2 357.3h0M424.3 401.7h0M636.2 395.3h0M471.0 511.9h0M575.8 575.0h0M483.1 391.8h0M428.4 465.8h0M449.6 521.7h0M715.3 348.7h0M538.9 356.0h0M715.8 350.3h0M484.5 436.7h0M626.0 543.8h0M567.8 347.1h0M453.1 471.6h0M534.6 472.2h0M715.5 578.5h0M489.9 495.5h0M542.4 483.4h0M662.4 411.8h0M537.0 506.5h0M687.4 426.0h0M668.9 424.4h0M473.0 488.8h0M449.6 473.7h0M436.2 531.3h0M716.5 555.2h0M435.2 482.3h0M633.0 532.0h0M501.3 542.4h0M643.7 414.1h0M494.5 535.8h0M554.8 416.2h0M541.3 373.7h0M429.5 327.0h0M513.5 460.4h0M709.3 552.3h0M528.1 540.2h0M547.6 459.7h0M459.9 431.6h0M534.6 338.3h0M506.5 494.9h0M596.3 359.1h0M676.6 438.4h0M490.4 353.9h0M679.8 370.1h0M623.1 391.3h0M478.3 362.3h0M665.4 468.6h0M634.3 324.0h0M452.8 506.6h0M570.1 575.2h0M635.1 537.7h0M712.0 394.8h0M660.8 538.1h0M644.0 382.0h0M439.8 412.0h0M460.4 579.6h0M597.0 532.8h0M692.1 349.3h0M542.8 408.5h0M607.8 457.1h0M701.8 496.3h0M705.1 376.9h0M583.6 328.8h0M523.2 506.1h0M672.6 406.2h0M548.8 462.0h0M668.5 448.3h0M666.8 421.6h0M572.3 543.6h0M501.6 468.6h0M623.9 540.1h0M579.4 431.6h0M693.8 512.2h0M659.9 507.0h0M494.0 347.6h0M615.0 378.1h0M673.3 335.3h0M567.2 376.5h0M695.0 346.1h0M631.9 541.1h0M698.1 412.6h0M706.9 394.0h0M539.4 342.4h0M429.7 326.7h0M484.2 380.7h0M640.3 406.6h0M473.2 380.2h0M612.6 558.8h0M502.4 552.1h0M715.3 329.1h0M642.5 554.7h0M591.5 346.7h0M636.9 381.0h0M440.4 553.2h0M643.0 506.0h0M463.2 443.7h0M713.7 472.5h0M533.5 558.7h0M533.3 552.6h0M588.7 467.9h0M472.3 553.2h0M462.1 371.7h0M490.4 455.4h0M558.3 554.7h0M478.3 569.9h0M500.6 355.1h0M447.6 436.9h0M676.4 545.6h0M700.9 533.4h0M690.6 489.1h0M438.8 441.4h0M689.5 350.2h0M564.8 395.6h0M571.3 524.0h0M714.7 566.3h0M552.5 528.4h0M664.6 474.1h0M691.2 332.8h0M497.3 413.6h0M429.7 467.7h0M548.4 419.7h0M431.1 334.5h0M658.2 481.4h0M521.2 470.4h0M614.3 507.3h0M598.6 516.5h0M637.2 515.5h0M668.2 534.1h0M627.7 404.5h0M535.4 400.5h0M454.4 408.0h0M565.7 523.5h0M629.1 579.4h0M508.5 537.1h0M589.2 496.7h0M556.6 416.6h0M453.5 524.0h0M615.2 468.3h0M537.7 367.4h0M476.7 434.9h0M475.0 404.2h0M635.1 497.9h0M563.4 371.3h0M471.1 547.7h0M516.1 464.1h0M640.3 360.8h0M558.5 389.8h0M500.0 424.3h0M474.5 415.9h0M441.8 410.1h0M710.6 376.0h0M506.6 475.8h0M577.6 484.4h0M648.0 364.4h0M471.7 345.2h0M594.2 345.7h0M489.1 337.4h0M525.7 542.1h0M511.7 552.8h0M599.6 533.9h0M596.5 526.3h0M463.6 566.7h0M475.7 412.1h0M608.0 467.2h0M707.7 442.5h0M635.2 459.8h0M615.9 399.3h0M480.3 450.6h0M479.1 566.0h0M546.7 482.1h0M597.9 547.7h0M483.3 330.3h0M607.2 498.1h0M706.6 534.3h0M515.8 474.0h0M582.8 428.0h0M476.3 432.3h0M445.0 579.1h0M677.2 541.0h0M484.7 511.8h0M554.9 486.2h0M634.4 386.9h0M586.5 346.0h0M464.6 426.2h0M436.6 354.3h0M709.5 339.4h0M494.0 554.7h0M437.1 476.4h0M629.7 521.2h0M474.3 407.1h0M667.6 537.7h0M661.9 406.9h0M703.3 538.1h0M585.9 525.2h0M692.3 435.2h0M531.7 480.8h0M479.5 416.2h0M587.1 413.6h0M490.5 400.4h0M659.9 459.3h0M651.5 450.1h0M610.0 529.0h0M460.3 379.3h0M703.0 488.9h0M557.9 550.7h0M641.6 552.3h0M712.7 376.4h0M682.7 433.3h0M689.1 559.4h0M620.5 349.2h0M641.2 401.1h0M512.3 420.8h0M649.6 332.8h0M663.5 562.2h0M523.2 407.0h0M459.6 337.2h0M639.8 336.1h0M717.3 332.3h0M598.5 503.2h0M495.6 494.2h0M613.1 343.3h0M459.5 529.4h0M599.5 342.6h0M484.0 461.1h0M623.2 524.6h0M643.9 470.0h0M567.9 479.2h0M541.0 557.9h0M619.9 402.8h0M446.5 459.3h0M553.0 424.5h0M672.7 555.9h0M705.0 395.2h0M534.5 520.5h0M536.4 415.4h0M614.3 533.3h0M499.2 576.2h0M429.0 404.6h0M542.0 403.7h0M634.1 514.1h0M690.1 520.2h0M616.8 505.2h0M451.4 389.3h0M622.5 518.8h0M514.8 345.3h0M652.1 405.4h0M644.3 328.2h0M602.1 502.8h0M629.6 541.4h0M631.8 536.7h0M674.5 397.1h0M578.3 564.5h0M603.3 539.8h0M610.2 462.0h0M614.4 484.4h0M568.6 358.5h0M639.6 575.7h0M426.5 419.2h0M530.5 552.6h0M451.7 576.1h0M709.9 579.8h0M637.1 564.7h0M424.6 454.2h0M674.0 567.5h0M708.5 343.4h0M486.6 539.0h0M602.7 368.6h0M530.7 453.9h0M665.3 374.6h0M449.7 391.3h0M594.7 416.0h0M624.9 392.6h0M695.5 533.8h0M484.7 425.2h0M473.7 365.6h0M578.3 410.8h0M561.9 372.1h0M612.0 551.6h0M552.9 326.1h0M495.1 534.4h0M509.9 513.3h0M482.6 487.5h0M515.7 416.9h0M575.8 380.9h0M458.4 340.1h0M476.6 384.9h0M482.7 492.0h0M537.8 328.9h0M673.6 376.7h0M454.1 562.4h0M534.2 484.0h0M699.4 464.4h0M601.6 573.0h0M595.8 411.9h0M466.7 386.8h0M488.2 365.5h0M638.9 379.0h0M710.6 352.7h0M439.6 475.9h0M569.8 529.3h0M697.4 398.7h0M597.1 478.9h0M560.6 527.0h0M702.0 520.1h0M434.7 429.1h0M643.0 362.9h0M470.0 455.3h0M644.1 389.8h0M432.1 392.6h0M545.5 418.5h0M558.1 544.0h0M490.9 553.7h0M549.2 423.8h0M628.8 460.5h0M654.5 396.2h0M654.3 491.6h0M427.9 395.8h0M709.2 326.4h0M459.7 407.0h0M574.4 518.0h0M471.1 505.4h0M501.3 425.1h0M544.8 411.2h0M464.6 419.5h0M438.0 325.1h0M637.5 383.9h0M687.0 576.3h0M510.7 361.5h0M708.8 377.7h0M690.6 544.6h0M588.9 379.9h0M503.7 576.2h0M645.7 413.3h0M687.4 525.9h0M659.4 529.6h0M444.7 566.3h0M590.8 567.7h0M465.4 366.6h0M645.4 380.0h0M673.8 422.7h0M461.9 529.4h0M573.7 341.1h0M495.8 399.9h0M470.7 381.3h0M490.1 471.4h0M570.8 519.8h0M484.9 574.4h0M643.8 448.7h0M579.2 416.0h0M569.2 486.8h0M600.7 466.8h0M455.9 500.4h0M483.9 388.0h0M557.1 537.7h0M626.4 559.6h0M429.8 521.3h0M580.0 497.0h0M481.7 577.7h0M538.9 382.1h0M695.3 395.4h0M486.6 497.7h0M587.0 345.3h0M683.8 389.4h0M672.2 563.8h0M677.3 373.9h0M686.2 338.6h0M672.5 380.9h0M465.4 339.0h0M464.6 477.5h0M622.8 462.2h0M537.0 477.4h0M436.2 464.1h0M674.8 344.2h0M524.5 344.9h0M656.9 532.6h0M433.9 475.4h0M474.1 351.4h0M430.3 475.9h0M444.2 385.0h0M515.0 429.5h0M585.5 486.4h0M660.3 323.1h0M665.3 394.7h0M662.4 343.0h0M556.0 525.6h0M616.8 420.5h0M626.1 574.8h0M571.7 498.9h0M536.3 463.2h0M467.8 463.6h0M529.0 357.8h0M510.8 575.7h0M569.9 547.3h0M630.6 533.9h0M466.8 339.3h0M624.0 540.6h0M558.3 393.5h0M680.8 419.4h0M627.5 420.3h0M643.0 529.5h0M527.1 469.7h0M459.4 328.0h0M531.9 473.1h0M432.9 368.5h0M708.9 326.8h0M448.4 461.8h0M496.5 540.0h0M540.2 402.6h0M499.4 331.2h0M683.2 569.0h0M469.0 503.4h0M579.3 395.3h0M715.0 407.4h0M711.7 579.2h0M477.9 472.2h0M538.8 527.5h0M602.0 463.7h0M456.2 338.1h0M561.3 555.4h0M551.3 541.5h0M620.3 552.3h0M624.1 573.2h0M602.3 475.4h0M670.8 535.6h0M435.0 498.0h0M538.9 522.8h0M652.6 332.2h0M494.4 502.3h0M545.0 329.6h0M528.9 512.5h0M510.6 365.8h0M508.9 441.7h0M520.9 504.5h0M505.5 366.4h0M670.5 391.6h0M564.4 354.7h0M457.3 339.5h0M682.5 437.0h0M533.6 359.6h0M628.6 429.3h0M520.8 439.8h0M482.8 430.6h0M567.9 337.1h0M648.1 348.9h0M659.7 379.6h0M637.0 492.9h0M585.7 366.0h0M456.2 473.6h0M475.8 462.9h0M672.5 427.9h0M458.1 430.0h0M554.1 561.4h0M458.9 397.2h0M582.6 440.7h0M690.0 565.0h0M469.6 442.4h0M446.2 391.5h0M627.6 355.5h0M614.6 523.1h0M611.5 414.4h0M433.1 489.9h0M675.9 478.9h0M522.9 567.5h0M575.0 361.7h0M657.6 384.1h0M595.6 518.5h0M426.6 533.7h0M621.1 568.0h0M428.3 327.9h0M639.1 415.0h0M632.5 366.6h0M659.8 560.9h0M529.9 524.2h0M694.2 465.4h0M531.1 334.0h0M615.2 552.2h0M512.9 424.8h0M662.7 321.8h0M505.8 445.0h0M555.4 500.9h0M569.9 521.7h0M579.7 449.2h0M632.6 381.6h0M576.3 497.3h0M443.9 530.7h0M518.3 502.0h0M518.5 396.8h0M438.3 517.7h0M680.9 515.2h0M646.9 354.6h0M555.4 521.1h0M505.5 382.2h0M584.3 563.7h0M654.4 559.3h0M538.6 386.6h0M576.6 433.9h0M492.5 529.0h0M509.7 543.0h0M517.3 324.4h0M665.1 362.3h0M621.0 443.5h0M453.4 557.2h0M441.9 541.9h0M616.8 407.0h0M598.1 426.0h0M457.2 372.8h0M460.1 515.2h0M570.2 475.9h0M664.2 536.3h0M678.5 360.8h0M663.5 387.8h0M466.1 390.8h0M627.8 505.7h0M578.7 335.8h0M685.2 496.8h0M513.8 535.2h0M681.4 416.6h0M603.2 387.2h0M612.8 495.0h0M554.2 524.6h0M444.3 411.6h0M665.2 516.9h0M431.2 454.4h0M655.7 432.4h0M582.6 347.0h0M439.5 576.6h0M454.5 422.5h0M582.1 492.2h0M607.9 450.5h0M503.4 373.6h0M584.6 522.4h0M513.5 430.8h0M586.5 573.2h0M448.4 387.5h0M520.7 332.5h0M475.7 574.8h0M465.6 398.9h0M530.7 518.6h0M554.2 516.4h0M587.5 565.2h0M586.4 476.3h0M709.9 549.4h0M583.1 429.3h0M458.2 372.2h0M709.2 506.0h0M710.7 465.0h0M561.2 431.4h0M621.2 540.9h0M594.4 494.0h0M642.1 460.1h0M601.1 561.7h0M635.3 535.5h0M570.9 540.8h0M462.6 345.9h0M674.4 479.4h0M472.4 520.5h0M618.6 415.2h0M577.9 439.4h0M572.1 452.8h0M692.6 542.7h0M557.3 410.9h0M466.3 542.9h0M560.0 493.1h0M508.8 442.0h0M427.4 474.4h0M635.0 324.9h0M692.1 575.1h0M678.5 483.6h0M545.7 429.7h0M567.3 386.2h0M512.7 401.0h0M675.8 323.5h0M621.0 525.0h0M428.7 540.2h0M470.1 504.5h0M516.2 461.5h0M550.9 452.4h0M707.4 357.5h0M589.5 483.5h0M477.6 331.6h0M600.2 471.1h0M484.9 384.4h0M666.0 528.0h0M508.3 429.5h0M637.0 366.0h0M507.2 447.4h0M632.4 559.2h0M520.5 488.5h0M477.3 548.7h0M446.4 530.8h0M477.8 391.2h0M651.4 361.3h0M424.0 391.1h0M576.7 342.4h0M530.2 474.2h0M465.9 564.6h0M541.6 383.8h0M591.5 424.2h0M617.2 403.8h0M706.5 547.4h0M631.0 379.3h0M448.9 566.1h0M597.8 503.9h0M685.3 393.9h0M550.7 517.5h0M551.4 577.3h0M696.7 551.2h0M480.0 347.9h0M650.3 458.7h0M561.5 442.0h0M618.5 360.8h0M556.4 475.0h0M476.4 449.1h0M494.1 525.6h0M703.4 403.0h0M507.1 372.3h0M511.7 402.2h0M618.1 398.6h0M484.2 516.1h0M556.1 347.5h0M709.9 355.2h0M431.3 333.0h0M601.4 527.6h0M469.3 435.0h0M424.7 518.5h0M621.6 401.7h0M574.7 505.3h0M499.3 557.3h0M676.3 405.6h0M511.5 322.8h0M609.1 492.9h0M630.5 339.0h0M473.6 468.5h0M704.8 544.6h0M462.1 390.4h0M568.6 349.8h0M462.0 481.1h0M666.7 362.4h0M706.8 553.1h0M444.5 412.1h0M629.7 424.6h0M714.2 388.8h0M543.9 338.1h0M705.4 328.8h0M661.3 543.8h0M695.6 490.7h0M664.1 340.3h0M583.5 449.1h0M539.6 487.3h0M606.5 441.6h0M483.6 529.3h0M688.3 447.4h0M624.2 577.4h0M699.2 336.9h0M574.0 572.0h0M583.0 332.4h0M561.1 519.9h0M474.3 338.0h0M708.5 525.1h0M541.2 509.2h0M467.8 570.9h0M632.8 338.2h0M702.5 422.9h0M585.6 413.4h0M430.9 481.9h0M675.4 336.5h0M540.8 528.0h0M468.8 532.6h0M545.5 384.1h0M655.7 569.7h0M427.9 356.3h0M627.4 547.4h0M618.1 364.2h0M470.8 471.8h0M670.2 361.0h0M493.5 500.2h0M559.0 477.5h0M483.5 493.2h0M484.6 503.1h0M502.8 321.3h0M552.4 461.3h0M520.7 398.3h0M696.2 389.6h0M475.9 394.1h0M499.0 564.2h0M704.2 553.9h0M538.2 455.1h0M528.5 495.4h0M658.0 433.1h0M693.9 560.8h0M542.3 512.8h0M524.8 451.4h0M547.2 379.3h0M464.6 419.1h0M662.3 419.6h0M704.5 410.7h0M546.7 544.5h0M661.6 461.0h0M667.6 422.8h0M490.8 470.1h0M655.4 377.9h0M653.0 380.1h0M647.5 567.6h0M438.8 417.4h0M706.7 427.2h0M448.2 348.3h0M680.3 464.8h0M651.4 418.6h0M612.3 438.8h0M689.4 517.0h0M454.0 322.5h0M639.6 500.5h0M488.8 369.1h0M711.6 535.7h0M648.7 441.3h0M688.9 578.3h0M614.5 347.2h0M591.1 383.9h0M541.8 518.8h0M470.4 392.9h0M560.8 504.9h0M673.0 546.2h0M426.9 487.4h0M654.9 397.5h0M555.6 388.1h0M514.2 438.1h0M460.5 510.5h0M547.3 510.0h0M543.4 388.1h0M434.6 348.7h0M717.2 539.1h0M517.5 509.9h0M600.5 559.0h0M714.7 385.9h0M613.3 370.5h0M699.6 531.4h0M671.6 360.1h0M576.8 554.8h0M519.3 501.6h0M549.3 531.9h0M637.3 528.8h0M473.3 406.7h0M592.3 393.5h0M469.9 401.0h0M650.9 574.6h0M484.3 465.6h0M704.1 511.5h0M587.5 536.2h0M585.9 332.5h0M648.0 356.6h0M474.9 498.2h0M698.5 437.7h0M474.3 506.9h0M450.5 461.9h0M508.7 417.9h0M595.4 345.3h0M558.1 398.3h0M663.0 430.2h0M699.9 401.4h0M481.9 413.4h0M666.2 518.2h0M706.7 479.5h0M543.9 495.0h0M516.9 420.0h0M463.7 459.5h0M510.7 445.6h0M468.4 429.9h0M522.0 404.1h0M536.7 361.5h0M660.7 381.2h0M470.1 353.4h0M665.3 344.9h0M465.4 487.4h0M718.2 334.1h0M600.8 330.6h0M439.2 525.1h0M677.2 364.5h0M468.4 422.5h0M714.5 452.9h0M593.9 450.3h0M536.9 495.5h0M677.5 342.4h0M628.0 447.8h0M656.2 468.5h0M514.1 576.2h0M600.3 513.2h0M593.3 565.1h0M543.0 370.5h0M669.1 513.9h0M642.3 328.9h0M442.9 372.9h0M509.0 546.9h0M469.6 329.1h0M610.5 563.4h0M445.5 328.7h0M713.9 386.7h0M518.7 472.7h0M604.8 559.6h0M617.3 353.6h0M424.4 380.3h0M686.9 460.1h0M608.1 379.6h0M670.9 393.3h0M631.1 342.5h0M592.5 399.2h0M463.2 411.2h0M714.4 361.8h0M430.2 500.6h0M589.9 520.7h0M546.5 397.4h0M519.7 573.6h0M659.9 514.9h0M563.5 346.4h0M682.7 365.9h0M455.5 379.1h0M609.6 533.8h0M490.3 382.9h0M555.8 490.2h0M510.0 386.9h0M664.9 351.8h0M501.7 519.1h0M445.6 327.0h0M620.4 542.9h0M456.3 412.8h0M698.2 481.5h0M476.7 388.1h0M569.8 417.9h0M706.2 440.5h0M640.7 573.8h0M483.1 469.8h0M696.2 507.2h0M544.2 432.6h0M665.3 394.4h0M431.2 413.4h0M652.1 426.4h0M630.8 513.9h0M554.0 501.9h0M602.7 509.7h0M572.3 367.9h0M653.8 413.0h0M465.6 464.7h0M458.1 500.1h0M682.9 348.6h0M560.2 414.5h0M448.0 336.8h0M636.4 480.2h0M431.4 536.6h0M458.6 350.7h0M539.9 501.6h0M556.1 346.6h0M470.4 397.3h0M445.8 394.0h0M616.7 342.8h0M669.8 394.7h0M500.6 443.5h0M523.0 550.5h0M550.3 540.3h0M654.9 494.0h0M537.8 533.6h0M662.2 401.3h0M575.8 447.1h0M506.5 347.9h0M493.7 577.6h0M577.4 429.7h0M517.2 339.9h0M551.5 523.2h0M661.1 352.4h0M600.9 416.7h0M511.9 453.3h0M615.6 395.0h0M477.2 547.8h0M533.3 541.0h0M451.0 331.4h0M669.2 380.8h0M445.7 485.8h0M540.7 477.3h0M677.0 384.3h0M427.2 546.6h0M571.3 496.4h0M701.9 348.0h0M475.0 536.1h0M512.7 406.3h0M689.9 568.6h0M515.5 539.6h0M702.9 476.9h0M510.2 458.2h0M521.1 409.9h0M586.3 411.6h0M581.5 575.2h0M712.1 513.2h0M479.6 502.3h0M508.6 401.8h0M576.9 572.6h0M718.4 418.2h0M656.3 499.3h0M588.7 452.4h0M523.3 575.5h0M460.0 568.6h0M633.6 475.9h0M512.7 531.3h0M591.9 409.6h0M521.6 566.3h0M447.3 361.1h0M552.9 480.8h0M595.4 465.6h0M584.7 457.8h0M460.2 347.4h0M696.3 548.9h0M463.6 335.4h0M412.1 466.3h0M335.1 461.4h0M350.0 503.3h0M339.2 658.1h0M330.2 527.6h0M385.5 533.3h0M319.0 421.2h0M364.6 652.2h0M314.7 563.8h0M370.9 534.4h0M365.3 486.0h0M308.6 644.1h0M399.7 635.1h0M318.1 591.5h0M335.1 618.2h0M311.1 499.7h0M342.3 524.4h0M304.5 448.9h0M314.3 657.6h0M395.4 650.8h0M337.3 460.9h0M359.5 551.6h0M362.8 525.9h0M312.0 598.9h0M308.4 606.1h0M391.6 501.4h0M416.7 457.7h0M393.3 527.3h0M380.9 527.2h0M349.6 535.6h0M421.5 509.3h0M335.4 565.0h0M347.3 426.9h0M345.3 451.6h0M395.0 541.0h0M309.9 588.1h0M380.0 648.5h0M347.9 545.0h0M304.9 544.7h0M361.1 543.7h0M401.6 646.0h0M389.7 609.1h0M325.2 425.8h0M343.6 437.7h0M374.9 500.5h0M396.6 478.5h0M325.5 480.4h0M322.4 447.3h0M314.2 648.1h0M310.1 597.5h0M373.9 452.7h0M357.1 452.8h0M373.6 516.9h0M398.1 590.0h0M407.6 641.8h0M344.4 479.3h0M391.8 653.6h0M311.0 500.6h0M403.3 541.8h0M347.5 448.8h0M368.9 554.3h0M372.3 545.4h0M366.9 657.5h0M385.5 536.0h0M378.3 445.9h0M395.6 598.2h0M393.4 582.7h0M330.0 567.9h0M368.4 605.0h0M325.9 574.9h0M324.7 451.1h0M366.5 471.3h0M351.0 606.0h0M410.1 555.7h0M411.4 598.2h0M359.0 654.5h0M343.7 615.0h0M396.2 645.2h0M412.4 636.9h0M415.4 583.5h0M338.2 593.6h0M367.8 553.6h0M388.6 605.7h0M314.1 568.1h0M392.0 657.3h0M394.9 625.6h0M410.3 606.8h0M416.9 552.6h0M351.1 532.1h0M377.0 654.6h0M388.1 653.3h0M340.5 578.5h0M417.1 561.4h0M399.7 623.8h0M362.9 553.4h0M423.8 461.9h0M333.3 423.9h0M393.5 495.4h0M420.4 643.7h0M331.8 418.7h0M402.4 626.1h0M322.7 654.7h0M346.1 522.3h0M323.8 461.9h0M329.4 458.0h0M328.4 645.4h0M380.1 426.0h0M342.4 591.2h0M309.0 457.8h0M368.8 510.3h0M407.8 567.4h0M339.9 486.1h0M386.5 519.3h0M417.8 504.7h0M390.9 624.7h0M349.4 457.5h0M376.2 629.1h0M375.3 570.0h0M407.3 546.2h0M376.5 444.9h0M372.8 599.3h0M327.8 606.0h0M331.3 613.3h0M337.8 614.6h0M354.2 462.6h0M346.2 631.0h0M368.3 471.3h0M389.1 618.4h0M319.3 473.3h0M389.9 448.5h0M320.6 517.3h0M380.0 633.5h0M347.9 452.8h0M320.6 417.8h0M423.6 570.0h0M384.9 453.9h0M364.2 450.0h0M383.3 638.6h0M327.2 646.7h0M365.5 618.4h0M386.4 485.5h0M327.4 650.6h0M326.2 572.0h0M401.9 558.8h0M389.3 457.3h0M329.4 600.6h0M337.9 445.1h0M371.7 610.3h0M357.4 615.0h0M322.1 482.3h0M388.2 508.6h0M320.9 621.7h0M355.7 633.0h0M384.1 482.2h0M326.0 503.5h0M342.4 637.3h0M387.7 659.8h0M403.5 573.7h0M336.9 642.6h0M402.5 649.5h0M331.8 458.8h0M305.0 619.4h0M391.4 534.7h0M310.6 498.3h0M357.1 433.3h0M381.1 457.1h0M388.0 478.1h0M415.8 644.9h0M372.1 450.8h0M402.7 410.1h0M377.4 617.7h0M418.5 610.4h0M355.8 622.7h0M409.6 553.4h0M385.0 503.6h0M367.5 613.9h0M322.1 652.2h0M356.9 623.1h0M315.5 546.0h0M390.4 425.3h0M402.9 514.5h0M347.5 563.1h0M374.2 432.0h0M348.4 416.9h0M375.9 443.7h0M390.1 542.8h0M423.9 490.0h0M332.0 626.4h0M307.8 511.4h0M420.8 448.0h0M377.7 450.9h0M384.8 506.9h0M350.3 647.5h0M393.8 595.7h0M367.3 604.4h0M320.7 628.8h0M362.1 576.8h0M394.8 529.7h0M362.3 422.4h0M342.9 629.0h0M322.8 611.2h0M395.5 570.2h0M391.1 595.7h0M397.5 608.6h0M389.5 452.5h0M404.9 649.8h0M331.1 610.4h0M382.2 511.3h0M389.7 604.8h0M405.2 569.7h0M382.1 580.9h0M394.1 474.5h0M343.7 583.3h0M356.2 604.9h0M304.5 527.2h0M383.3 461.8h0M334.2 458.9h0M366.0 510.2h0M409.3 477.8h0M364.9 499.3h0M321.7 418.1h0M378.5 463.4h0M361.3 644.0h0M413.0 653.4h0M346.2 596.4h0M394.9 504.6h0M345.1 440.2h0M383.4 647.8h0M314.3 446.1h0M308.2 619.5h0M387.2 447.6h0M401.6 654.6h0M418.0 438.4h0M313.3 607.9h0M349.0 482.3h0M382.7 548.7h0M371.3 604.9h0M421.7 425.7h0M325.4 635.2h0M357.7 578.4h0M390.9 546.7h0M344.2 427.7h0M361.7 494.5h0M390.2 617.3h0M375.9 450.5h0M362.2 445.6h0M370.4 546.0h0M370.7 531.4h0M419.2 494.3h0M338.8 511.3h0M392.4 539.1h0M399.4 599.5h0M358.1 474.3h0M389.3 503.0h0M354.2 444.6h0M319.1 575.8h0M370.7 623.2h0M376.6 430.6h0M329.7 538.7h0M386.3 546.7h0M377.5 458.1h0M314.6 483.6h0M359.0 483.5h0M417.2 572.7h0M413.3 563.8h0M410.9 642.4h0M314.0 427.1h0M324.0 438.3h0M382.5 545.0h0M371.3 606.4h0M309.8 503.9h0M382.9 654.8h0M336.3 611.2h0M393.9 532.1h0M337.3 547.5h0M376.9 413.4h0M395.3 567.9h0M327.9 536.4h0M380.7 448.3h0M319.7 586.3h0M402.8 452.0h0M366.6 468.5h0M409.9 608.0h0M332.0 474.7h0M387.1 506.1h0M371.4 593.6h0M357.0 505.5h0M352.6 551.4h0M308.8 632.9h0M305.1 478.9h0M403.5 474.5h0M348.8 532.6h0M349.4 622.3h0M311.6 534.5h0M360.5 553.0h0M408.2 445.2h0M375.5 436.6h0M374.5 593.0h0M313.2 592.5h0M353.6 625.9h0M421.7 462.1h0M338.7 542.3h0M348.9 521.6h0M353.6 435.0h0M394.3 448.6h0M343.1 417.1h0M420.8 473.4h0M407.3 632.5h0M410.8 464.4h0M383.5 583.7h0M409.2 628.2h0M332.6 416.2h0M309.1 578.1h0M356.5 579.5h0M373.5 447.8h0M420.3 585.0h0M337.8 558.4h0M365.0 653.7h0M341.7 489.7h0M306.9 649.3h0M371.1 644.9h0M367.6 556.5h0M413.9 644.9h0M354.8 498.5h0M325.7 470.9h0M406.3 558.2h0M406.0 413.2h0M341.5 419.6h0M343.6 490.5h0M343.5 654.9h0M373.9 599.9h0M419.9 451.3h0M306.2 593.0h0M404.2 500.9h0M342.2 450.8h0M369.1 517.7h0M370.1 420.6h0M397.4 626.8h0M384.1 458.8h0M316.9 491.7h0M368.7 576.0h0M403.1 447.9h0M344.5 607.1h0M313.6 495.8h0M326.1 488.7h0M344.9 624.8h0M347.2 550.9h0M331.5 439.2h0M418.8 536.5h0M395.0 585.8h0M358.3 605.5h0M324.1 580.1h0M313.0 593.0h0M422.8 608.9h0M406.8 583.3h0M393.3 459.7h0M359.4 512.3h0M418.1 611.8h0M365.5 433.3h0M408.4 572.1h0M343.1 530.7h0M310.0 438.7h0M368.0 521.1h0M395.9 561.8h0M305.3 630.8h0M358.6 624.8h0M399.1 490.5h0M353.2 433.9h0M350.7 441.5h0M315.4 564.9h0M328.1 525.9h0M390.0 631.5h0M398.9 496.9h0M407.6 589.0h0M401.7 532.4h0M375.0 601.1h0M372.9 609.9h0M326.2 575.4h0M381.5 443.8h0M394.2 629.8h0M423.4 621.1h0M310.6 417.4h0M388.7 592.3h0M330.6 546.3h0M410.7 626.8h0M420.5 477.4h0M307.3 636.3h0M405.7 608.0h0M354.6 468.9h0M386.7 530.4h0M344.5 439.3h0M401.0 411.9h0M379.2 623.5h0M336.9 521.6h0M395.9 410.1h0M404.2 419.2h0M373.1 410.8h0M367.6 606.4h0M360.3 468.2h0M357.5 520.7h0M367.2 479.4h0M405.4 649.1h0M340.1 580.4h0M338.7 583.9h0M355.1 484.6h0M329.1 489.4h0M407.0 620.4h0M352.4 650.9h0M373.3 660.0h0M378.5 609.9h0M333.6 640.9h0M394.0 549.6h0M343.1 564.0h0M325.0 637.9h0M326.4 591.3h0M416.1 476.3h0M389.2 456.5h0M408.6 577.2h0M342.6 609.6h0M392.9 646.2h0M585.9 668.7h0M474.6 594.0h0M696.1 623.5h0M716.8 604.5h0M444.6 647.2h0M594.3 609.3h0M688.2 582.4h0M481.4 655.0h0M512.7 666.6h0M576.9 667.8h0M454.9 642.9h0M485.0 591.8h0M594.7 681.0h0M436.6 667.6h0M584.7 624.9h0M755.0 595.8h0M607.2 649.4h0M744.8 669.7h0M530.3 607.8h0M705.3 687.7h0M645.4 629.8h0M474.2 658.0h0M502.2 661.4h0M518.7 629.5h0M497.9 614.1h0M458.8 658.7h0M759.9 640.1h0M651.3 582.0h0M481.3 659.8h0M719.4 652.4h0M668.0 613.1h0M637.1 687.3h0M524.8 651.7h0M533.6 677.6h0M622.0 650.9h0M764.5 607.1h0M637.5 652.2h0M720.4 677.2h0M723.9 683.8h0M435.9 674.7h0M469.6 678.8h0M718.4 625.8h0M649.8 644.0h0M752.7 617.3h0M705.1 627.3h0M695.5 596.7h0M603.7 625.8h0M706.9 627.8h0M437.5 629.5h0M681.8 644.2h0M749.8 607.3h0M510.0 621.0h0M649.6 612.9h0M632.6 661.0h0M525.1 658.0h0M619.4 666.8h0M442.8 630.3h0M621.1 649.4h0M667.6 617.6h0M470.2 601.9h0M488.8 679.2h0M513.9 687.0h0M717.1 581.3h0M430.2 680.1h0M593.6 631.3h0M598.8 589.9h0M536.7 611.1h0M547.4 644.7h0M627.1 664.5h0M704.2 586.9h0M560.5 668.1h0M519.5 661.8h0M753.5 612.4h0M553.2 646.0h0M560.1 676.1h0M762.3 652.0h0M684.0 602.0h0M716.4 674.8h0M696.3 600.4h0M707.1 633.4h0M532.1 636.8h0M742.2 659.9h0M605.7 628.9h0M477.8 641.1h0M571.3 683.0h0M615.7 617.4h0M486.7 587.6h0M680.3 601.6h0M729.4 640.1h0M582.9 585.6h0M440.8 602.5h0M520.2 629.5h0M715.2 668.5h0M721.8 686.1h0M606.0 634.8h0M476.4 588.8h0M658.2 634.7h0M499.8 644.7h0M659.6 681.1h0M644.2 658.5h0M541.7 673.4h0M489.8 597.9h0M567.2 588.9h0M666.6 635.6h0M677.5 620.9h0M540.1 608.3h0M557.2 671.2h0M514.2 646.1h0M684.1 635.8h0M722.2 663.4h0M487.8 591.4h0M682.2 638.1h0M509.7 657.2h0M439.2 677.9h0M624.9 669.3h0M720.2 646.1h0M739.1 589.9h0M603.6 637.2h0M604.8 637.9h0M595.9 622.7h0M523.8 655.3h0M591.9 619.3h0M601.0 604.3h0M510.2 662.3h0M556.7 585.2h0M725.9 671.7h0M722.0 630.6h0M622.1 607.0h0M717.9 617.5h0M663.7 607.1h0M577.2 631.0h0M693.3 644.4h0M685.8 591.0h0M756.2 630.8h0M533.8 671.1h0M521.7 681.4h0M716.3 652.4h0M514.3 681.3h0M692.4 649.0h0M666.1 639.5h0M686.2 589.4h0M565.0 594.1h0M450.1 599.4h0M535.8 609.0h0M472.8 639.5h0M532.9 620.2h0M552.0 600.2h0M671.2 637.4h0M719.7 614.7h0M503.6 654.6h0M626.3 647.8h0M460.3 623.1h0M740.5 654.6h0M760.4 677.1h0M487.5 610.7h0M527.9 586.8h0M630.9 664.1h0M722.0 657.4h0M660.2 597.5h0M469.3 664.2h0M435.9 583.6h0M515.4 628.7h0M472.2 612.5h0M696.3 656.4h0M541.2 682.3h0M527.0 629.5h0M718.5 600.6h0M468.7 644.0h0M466.9 660.3h0M666.8 611.0h0M714.6 628.7h0M680.4 584.6h0M519.3 592.7h0M526.1 675.1h0M614.3 681.7h0M671.9 623.1h0M566.1 626.3h0M655.8 591.6h0M634.0 592.2h0M746.0 626.8h0M559.8 681.3h0M551.1 639.2h0M647.9 599.4h0M715.9 629.2h0M612.0 683.2h0M735.4 594.3h0M757.1 621.3h0M675.8 586.7h0M751.9 654.2h0M438.8 687.7h0M559.4 684.8h0M550.1 677.3h0M733.5 682.9h0M656.2 665.8h0M452.1 588.8h0M706.9 642.3h0M523.0 629.8h0M648.6 643.5h0M659.6 669.4h0M536.9 640.4h0M437.2 684.1h0M754.1 657.5h0M575.5 638.7h0M687.8 610.9h0M551.9 633.4h0M493.0 687.1h0M523.5 637.2h0M765.8 632.6h0M514.3 583.0h0M679.4 674.6h0M429.5 648.2h0M636.2 633.6h0M591.5 648.8h0M762.5 622.3h0M714.0 681.1h0M597.5 618.3h0M734.4 629.6h0M567.1 589.7h0M674.7 640.9h0M427.9 630.9h0M572.5 675.1h0M507.8 593.1h0M709.8 656.1h0M703.8 687.8h0M698.8 585.1h0M760.3 684.0h0M645.3 607.5h0M596.0 642.4h0M497.1 664.3h0M452.2 650.3h0M634.0 613.3h0M536.1 589.1h0M574.8 646.6h0M764.6 682.9h0M756.4 683.9h0M463.5 609.0h0M564.5 649.8h0M653.4 688.0h0M633.5 604.9h0M603.0 598.3h0M427.8 632.0h0M592.4 666.6h0M576.6 618.8h0M522.4 664.3h0M485.8 654.7h0M630.4 613.7h0M470.9 617.7h0M431.6 669.9h0M702.6 606.0h0M513.7 586.6h0M676.4 647.0h0M600.3 675.1h0M614.6 596.7h0M528.8 585.8h0M729.2 641.8h0M743.9 615.6h0M614.9 629.2h0M689.6 658.4h0M538.3 584.9h0M477.2 667.9h0M587.3 656.9h0M474.8 589.4h0M669.2 580.6h0M594.5 619.5h0M527.9 652.7h0M431.1 656.2h0M719.5 619.1h0M617.2 582.0h0M626.6 592.9h0M537.2 580.5h0M440.9 612.1h0M631.3 645.2h0M550.9 657.8h0M454.1 676.4h0M473.1 627.7h0M733.2 679.2h0M455.7 596.3h0M484.6 671.0h0M470.6 593.9h0M493.6 606.9h0M591.4 646.8h0M556.2 600.4h0M430.9 619.0h0M438.4 660.9h0M529.3 586.2h0M513.5 622.5h0M742.7 633.3h0M574.1 646.6h0M604.4 587.4h0M748.0 662.3h0M599.8 610.0h0M766.3 588.0h0M488.3 619.1h0M645.4 680.1h0M766.5 647.2h0M579.5 605.6h0M535.4 675.2h0M705.8 641.9h0M720.4 600.0h0M713.7 628.5h0M452.8 664.7h0M568.3 625.5h0M617.7 621.4h0M756.9 672.4h0M516.0 637.6h0M428.7 602.3h0M461.1 583.2h0M487.6 675.4h0M505.1 627.5h0M443.6 585.0h0M638.2 673.1h0M730.2 594.0h0M631.8 680.4h0M611.1 608.8h0M461.1 634.0h0M753.7 629.6h0M745.0 643.3h0M493.5 611.7h0M642.4 597.7h0M612.5 631.7h0M597.7 606.7h0M482.4 589.7h0M430.2 669.5h0M693.2 626.2h0M515.3 649.8h0M549.8 590.0h0M735.5 603.0h0M591.8 617.7h0M632.1 647.7h0M567.8 670.1h0M591.3 675.4h0M723.8 648.1h0M572.3 610.2h0M611.4 670.7h0M608.6 652.1h0M507.7 639.6h0M637.8 603.4h0M648.2 666.7h0M754.4 648.1h0M616.4 590.5h0M574.2 598.1h0M521.7 619.9h0M600.0 592.7h0M735.4 612.1h0M568.4 601.1h0M446.5 601.6h0M633.1 642.2h0M625.5 674.4h0M719.7 584.2h0M632.5 618.4h0M429.3 655.7h0M724.5 669.8h0M610.6 676.9h0M453.4 686.7h0M707.9 628.1h0M434.6 659.3h0M592.8 608.2h0M461.1 633.2h0M485.6 658.2h0M607.4 626.9h0M578.3 631.4h0M751.0 613.4h0M734.3 623.6h0M481.8 676.4h0M685.8 600.5h0M653.6 647.8h0M721.6 658.7h0M433.5 636.0h0M547.1 642.0h0M470.1 611.9h0M674.1 586.1h0M633.8 613.9h0M656.1 689.3h0M692.8 680.0h0M618.8 614.0h0M544.6 592.4h0M736.5 647.1h0M538.5 646.2h0M467.0 589.9h0M537.3 661.8h0M678.1 643.4h0M737.6 644.9h0M643.7 674.5h0M540.7 624.7h0M467.3 660.6h0M689.4 603.1h0M480.5 603.0h0M612.8 684.3h0M498.9 675.8h0M431.3 615.2h0M613.0 658.9h0M442.4 679.8h0M501.8 605.5h0M759.0 681.6h0M532.0 604.4h0M686.4 614.2h0M546.5 632.1h0M640.4 614.3h0M719.1 660.4h0M677.4 663.4h0M707.2 619.3h0M549.8 680.4h0M514.4 594.5h0M761.7 631.1h0M442.0 593.6h0M443.8 590.9h0M640.0 649.1h0M546.1 633.6h0M690.1 611.2h0M449.3 653.2h0M585.1 643.5h0M709.2 592.4h0M681.0 670.1h0M608.1 621.8h0M696.9 653.1h0M671.3 689.3h0M760.6 654.7h0M759.7 639.8h0M523.8 636.4h0M439.1 660.2h0M434.0 689.4h0M727.0 593.1h0M497.2 682.1h0M556.9 610.4h0M651.4 616.5h0M530.4 674.7h0M446.9 688.6h0M517.7 644.6h0M425.8 681.2h0M472.2 659.0h0M571.4 585.1h0M662.0 623.0h0M755.1 661.3h0M706.1 684.3h0M467.6 683.8h0M512.7 643.9h0M707.6 607.9h0M644.0 660.1h0M611.8 689.5h0M692.2 584.9h0M714.1 622.7h0M472.4 609.0h0M547.9 683.7h0M540.4 618.8h0M486.7 681.1h0M464.4 669.7h0M714.5 592.7h0M430.4 611.8h0M483.8 603.5h0M592.8 629.9h0M545.7 591.0h0M576.2 619.3h0M624.2 603.2h0M454.8 632.6h0M464.4 676.9h0M658.3 604.6h0M560.4 610.5h0M455.5 632.7h0M702.1 594.6h0M518.0 606.5h0M734.9 582.1h0M613.1 601.1h0M644.4 674.9h0M472.2 624.2h0M580.0 650.3h0M459.2 656.6h0M535.7 631.5h0M515.3 581.9h0M700.7 622.6h0M591.5 626.7h0M563.2 611.0h0M696.1 687.0h0M513.9 664.4h0M440.3 687.6h0M625.5 618.1h0M662.8 645.1h0M562.7 624.9h0M580.2 674.6h0M494.1 671.5h0M514.1 604.5h0M559.6 320.1h0M519.6 314.7h0M695.2 314.7h0M638.1 298.4h0M506.0 307.6h0M633.6 291.8h0M627.4 293.4h0M529.5 307.2h0M651.9 319.6h0M361.7 320.6h0M462.7 317.0h0M565.5 295.0h0M480.2 293.5h0M463.6 298.5h0M706.7 318.7h0M691.9 296.7h0M467.0 311.0h0M573.8 310.6h0M536.3 299.0h0M507.2 307.9h0M482.7 309.9h0M381.3 304.7h0M545.9 303.5h0M494.6 313.0h0M649.3 294.9h0M369.7 307.5h0M676.4 320.7h0M504.8 301.7h0M391.5 292.1h0M631.1 295.7h0M450.2 291.2h0M624.6 291.1h0M667.0 310.3h0M365.9 300.2h0M645.1 309.3h0M631.9 292.3h0M712.2 305.7h0M622.9 315.4h0M583.1 320.7h0M641.0 319.9h0M418.0 307.8h0M451.5 305.7h0M510.6 320.8h0M467.9 299.5h0M644.3 298.6h0M436.1 307.0h0M414.3 314.6h0M504.9 317.8h0M450.2 314.9h0M531.7 292.3h0M643.9 318.1h0M507.6 310.5h0M404.7 307.3h0M716.9 315.3h0M375.8 298.7h0M423.2 295.0h0M551.9 305.8h0M690.8 304.2h0M687.6 314.4h0M506.9 306.9h0M462.1 749.7h0M594.0 708.2h0M685.6 740.8h0M549.0 717.1h0M440.8 674.3h0M707.3 719.3h0M518.9 679.0h0M626.4 703.6h0M682.9 745.7h0M595.1 661.1h0M618.7 721.6h0M367.1 737.1h0M697.3 726.1h0M520.3 727.0h0M368.5 693.7h0M727.3 728.0h0M650.7 684.4h0M717.0 698.5h0M366.2 748.7h0M684.8 690.8h0M553.7 702.5h0M657.1 737.0h0M720.8 742.9h0M388.1 740.9h0M729.3 750.1h0M477.1 720.4h0M739.6 701.1h0M596.7 696.3h0M429.7 691.9h0M641.0 741.5h0M709.5 684.4h0M387.8 726.6h0M733.9 741.9h0M561.0 678.4h0M627.9 677.6h0M584.1 685.9h0M527.6 707.8h0M367.8 661.3h0M423.7 743.0h0M655.3 699.6h0M480.8 703.2h0M525.1 700.9h0M557.2 671.3h0M386.3 746.1h0M460.9 720.6h0M530.6 732.1h0M373.3 749.8h0M583.3 730.4h0M501.0 670.1h0M448.6 670.4h0M502.3 701.4h0M593.7 712.0h0M621.3 745.5h0M649.2 727.9h0M559.9 712.5h0M741.0 676.6h0M360.9 682.3h0M554.7 724.9h0M508.1 672.4h0M613.2 674.6h0M490.3 725.9h0M553.3 698.8h0M713.9 691.5h0M659.4 736.2h0M504.5 669.0h0M485.0 686.3h0M733.7 710.2h0M644.2 722.8h0M457.5 733.7h0M667.0 669.9h0M683.4 691.1h0M407.2 689.6h0M733.5 733.0h0M427.6 686.6h0M740.7 692.4h0M398.9 722.2h0M743.8 731.3h0M497.9 680.7h0M453.8 736.9h0M628.5 719.2h0M451.6 709.0h0M372.5 675.6h0M394.7 715.3h0M364.4 676.2h0M688.4 730.4h0M480.4 670.0h0M394.6 696.2h0M644.3 741.7h0M446.0 721.7h0M415.9 680.1h0M390.3 693.7h0M507.0 728.0h0M664.7 661.3h0M404.1 749.5h0M624.3 732.2h0M497.9 736.2h0M702.3 691.4h0M678.7 682.9h0M538.8 736.4h0M645.6 734.6h0M485.8 691.3h0M442.0 698.3h0M378.9 735.8h0M485.2 732.4h0M489.1 706.7h0M580.5 681.1h0M622.1 695.7h0M441.5 694.2h0M487.4 750.5h0M726.1 670.1h0M684.3 711.7h0M635.6 750.5h0M396.1 666.9h0M643.0 695.5h0M572.5 713.0h0M411.2 732.2h0M441.9 673.5h0M434.1 715.5h0M383.5 674.9h0M383.0 694.7h0M411.4 748.6h0M511.7 703.0h0M446.6 666.1h0M756.2 689.7h0M375.9 669.8h0M526.3 702.0h0M550.8 709.4h0M637.5 734.4h0M469.6 673.6h0M731.8 719.6h0M521.7 663.2h0M596.8 731.4h0M466.0 728.3h0M753.8 676.9h0M424.6 750.5h0M422.5 737.3h0M535.7 665.5h0M705.2 748.6h0M716.0 746.8h0M443.8 732.9h0M573.5 730.4h0M538.5 730.8h0M704.9 680.4h0M533.0 711.7h0M669.5 676.9h0M595.1 665.8h0M398.2 717.7h0M684.3 671.2h0M539.5 714.8h0M646.8 743.0h0M399.4 655.4h0M312.0 772.8h0M355.5 732.2h0M266.0 748.9h0M306.5 672.8h0M377.5 624.7h0M365.8 795.5h0M262.2 629.2h0M409.9 673.5h0M408.0 753.5h0M400.0 632.8h0M309.6 713.1h0M240.7 630.0h0M355.6 735.8h0M268.0 768.6h0M303.5 745.5h0M250.9 708.1h0M268.2 778.6h0M310.1 790.2h0M301.4 655.6h0M309.1 670.2h0M247.8 796.3h0M345.8 695.5h0M288.5 750.7h0M393.8 768.4h0M358.0 681.3h0M307.6 731.1h0M256.8 721.0h0M297.0 639.1h0M282.6 787.4h0M278.9 668.2h0M246.9 752.1h0M349.8 653.4h0M282.1 698.3h0M396.6 706.8h0M383.1 665.8h0M374.2 787.7h0M405.3 720.6h0M323.1 778.0h0M259.5 636.0h0M380.0 707.1h0M271.1 690.6h0M328.1 641.2h0M249.5 792.1h0M246.7 787.5h0M306.5 761.6h0M278.7 668.1h0M276.0 732.0h0M400.3 765.3h0M332.6 672.9h0M261.8 726.5h0M275.1 727.1h0M321.5 637.5h0M326.6 635.6h0M351.7 624.9h0M350.3 789.7h0M279.2 659.8h0M296.4 724.2h0M279.2 660.0h0M357.4 621.4h0M379.6 337.2h0M416.8 375.9h0M414.8 370.3h0M372.8 382.3h0M378.9 383.7h0M387.8 343.1h0M383.7 328.9h0M406.5 381.8h0M406.8 374.0h0M409.3 379.6h0M370.4 294.3h0M369.2 394.9h0M408.0 333.3h0M407.2 374.2h0M386.3 365.2h0M389.1 319.0h0M411.7 297.8h0M420.4 402.7h0M382.8 338.4h0M396.2 364.3h0M370.0 385.4h0M416.1 377.7h0M397.5 314.3h0M388.8 391.4h0M378.4 298.2h0M386.9 403.6h0M380.4 378.1h0M369.2 397.0h0M396.4 326.7h0M370.1 399.5h0M392.7 361.8h0M371.4 314.6h0M383.4 360.3h0M423.4 385.3h0M419.4 342.8h0M403.8 311.0h0M376.1 381.7h0M378.5 396.8h0M411.4 387.8h0M386.1 313.8h0M405.9 399.7h0M421.8 408.3h0M383.0 379.7h0M423.8 390.5h0M395.2 360.5h0M401.3 330.4h0M421.1 380.8h0M372.2 336.7h0M398.8 403.7h0M393.0 322.2h0M380.0 351.1h0M417.8 352.4h0M403.6 369.7h0M374.0 406.7h0M422.5 313.1h0M404.5 393.5h0M395.2 392.9h0M398.0 339.4h0M395.7 390.3h0M391.7 300.1h0M383.0 359.8h0M411.7 409.6h0M402.7 409.2h0M379.5 406.9h0M381.4 313.9h0M409.1 371.1h0M368.6 368.4h0M398.0 402.3h0M408.6 303.9h0M410.6 373.8h0M379.6 316.6h0M399.3 401.0h0M393.5 356.9h0M369.8 300.2h0M419.5 345.0h0M415.9 361.3h0M416.5 393.7h0M402.3 343.2h0M410.7 371.2h0M372.6 331.7h0M391.1 308.7h0M408.4 345.6h0M390.3 330.3h0M381.6 407.3h0M401.5 336.1h0M392.9 354.7h0M369.1 367.3h0M405.3 350.0h0M401.0 303.4h0M403.5 349.8h0M586.4 271.3h0M504.1 282.1h0M591.7 310.5h0M625.1 291.8h0M441.6 304.5h0M567.6 311.7h0M617.3 292.6h0M611.2 307.3h0M620.3 315.3h0M692.9 284.4h0M676.8 282.6h0M661.5 293.2h0M659.0 317.9h0M569.9 288.1h0M643.0 317.3h0M655.8 311.7h0M695.5 299.5h0M684.3 275.4h0M527.2 298.2h0M582.0 290.3h0M616.0 299.9h0M531.5 273.6h0M709.1 283.4h0M570.7 271.7h0M520.1 297.6h0M490.0 310.7h0M711.9 295.6h0M461.0 270.7h0M635.7 304.3h0M603.0 299.2h0M438.9 284.3h0M667.9 314.1h0M440.3 286.8h0M610.8 299.9h0M473.9 282.0h0M460.4 297.4h0M441.5 280.7h0M608.2 316.0h0M592.4 284.3h0M640.1 316.1h0M636.7 317.0h0M711.9 281.0h0M627.1 289.5h0M681.9 277.4h0M670.6 302.6h0M652.6 280.0h0M460.0 285.4h0M673.1 269.3h0M486.9 295.4h0M574.0 306.7h0" stroke="#fff" stroke-width="3.4" stroke-linecap="round" fill="none"/><path d="M429.9 535.8h0M446.2 364.3h0M498.9 452.0h0M439.3 366.4h0M511.5 372.7h0M677.1 369.6h0M579.3 388.7h0M621.4 406.6h0M608.4 354.0h0M656.0 422.6h0M497.2 544.8h0M661.2 447.2h0M687.9 555.1h0M597.0 423.5h0M645.4 517.5h0M660.4 457.5h0M437.6 539.2h0M664.3 451.8h0M653.6 478.6h0M532.4 436.4h0M555.9 485.9h0M448.9 551.4h0M712.5 400.0h0M448.1 406.6h0M710.4 437.2h0M460.6 390.9h0M447.3 371.8h0M689.9 372.7h0M580.6 523.2h0M510.2 387.3h0M604.5 462.6h0M672.4 410.6h0M520.6 376.0h0M644.3 327.8h0M484.7 335.5h0M713.4 400.1h0M581.4 554.4h0M711.9 327.3h0M619.3 332.3h0M700.9 351.9h0M571.0 484.2h0M691.8 364.5h0M688.8 361.9h0M600.7 557.8h0M551.4 568.4h0M597.2 545.1h0M442.5 388.2h0M668.5 356.4h0M429.3 364.9h0M595.5 477.6h0M667.8 441.9h0M704.2 388.2h0M464.0 559.9h0M521.8 364.7h0M591.7 445.4h0M638.9 393.0h0M511.7 406.5h0M451.5 339.7h0M656.3 401.2h0M691.2 495.2h0M710.5 426.3h0M631.6 564.3h0M493.3 365.7h0M554.1 330.5h0M625.8 389.9h0M704.2 555.1h0M544.7 445.5h0M624.7 377.1h0M553.9 545.0h0M575.3 332.8h0M463.4 520.8h0M598.3 549.8h0M510.1 415.9h0M479.6 410.9h0M536.3 546.1h0M450.3 345.4h0M495.5 577.7h0M621.7 436.4h0M713.2 510.6h0M662.1 399.4h0M524.7 386.1h0M613.9 573.5h0M628.4 458.0h0M504.0 542.9h0M486.0 396.4h0M439.3 541.4h0M643.1 523.6h0M613.6 522.7h0M484.8 461.2h0M479.2 496.2h0M573.9 351.1h0M555.2 489.4h0M435.6 550.7h0M481.6 363.4h0M477.7 541.2h0M435.4 561.1h0M469.4 545.9h0M452.7 330.3h0M687.3 409.5h0M668.0 333.4h0M706.7 378.6h0M485.3 491.6h0M575.5 346.6h0M679.4 405.8h0M593.8 353.1h0M640.9 478.7h0M657.5 359.9h0M540.6 579.8h0M522.9 361.5h0M634.6 475.5h0M717.1 512.4h0M651.5 421.6h0M647.7 480.9h0M474.0 409.4h0M467.9 480.6h0M581.2 468.7h0M652.1 339.9h0M549.0 411.1h0M669.2 364.6h0M595.0 579.9h0M472.7 414.5h0M692.5 503.6h0M498.7 489.0h0M547.7 572.5h0M697.3 379.8h0M480.7 451.8h0M439.9 550.3h0M436.8 558.9h0M618.1 567.3h0M579.0 374.5h0M561.3 540.6h0M517.9 432.6h0M665.6 532.9h0M457.1 322.6h0M702.3 515.5h0M635.0 451.1h0M678.3 552.2h0M569.9 361.2h0M651.1 354.0h0M500.1 332.1h0M443.3 471.8h0M705.3 496.0h0M570.2 415.7h0M683.8 343.1h0M579.5 522.7h0M687.2 512.5h0M598.0 339.6h0M597.8 504.9h0M520.6 362.6h0M584.0 440.9h0M488.1 409.8h0M665.7 506.7h0M524.2 371.8h0M522.6 365.1h0M537.4 512.6h0M428.8 554.6h0M623.2 487.7h0M687.7 577.6h0M556.1 393.3h0M429.0 383.4h0M433.2 488.7h0M495.3 520.1h0M590.4 408.2h0M516.3 553.4h0M447.1 353.7h0M551.0 558.9h0M429.6 462.5h0M441.1 440.8h0M638.9 367.9h0M692.1 373.9h0M504.0 449.3h0M655.0 423.7h0M449.0 552.9h0M703.7 441.1h0M554.9 568.9h0M676.9 333.9h0M666.2 502.2h0M630.8 380.5h0M503.0 513.0h0M430.4 472.4h0M650.5 500.4h0M469.8 574.8h0M556.9 548.7h0M452.1 444.2h0M502.2 369.5h0M501.2 401.4h0M431.4 444.0h0M667.7 561.8h0M611.2 367.0h0M505.3 577.4h0M691.0 430.2h0M503.8 355.1h0M604.0 374.0h0M441.0 562.2h0M478.1 519.2h0M539.7 523.0h0M661.4 467.3h0M711.5 409.3h0M654.6 420.1h0M494.5 352.0h0M675.6 343.5h0M581.2 510.6h0M640.5 405.8h0M424.5 415.1h0M456.6 565.3h0M491.9 457.1h0M680.8 432.9h0M473.6 376.6h0M437.9 400.6h0M434.2 502.9h0M552.9 394.1h0M637.2 466.7h0M663.3 439.2h0M687.0 485.1h0M668.2 467.2h0M461.8 497.2h0M703.4 353.8h0M540.9 495.0h0M661.8 481.0h0M554.0 412.3h0M628.5 351.7h0M630.3 447.2h0M466.8 355.3h0M678.8 445.5h0M610.6 560.5h0M464.3 460.9h0M685.6 520.0h0M450.1 482.1h0M556.3 539.6h0M610.0 564.7h0M639.3 335.5h0M432.7 484.9h0M678.1 386.1h0M448.1 570.6h0M424.3 482.5h0M532.1 497.7h0M717.1 364.7h0M456.5 322.4h0M492.7 327.4h0M490.8 465.4h0M429.7 511.8h0M684.8 324.7h0M685.2 468.5h0M448.0 420.6h0M600.1 476.1h0M629.3 488.0h0M692.5 435.2h0M671.5 514.0h0M664.2 541.7h0M449.5 355.7h0M683.8 506.2h0M546.7 572.9h0M539.8 571.7h0M429.5 361.8h0M470.2 449.3h0M498.1 454.6h0M584.2 372.0h0M432.3 453.6h0M548.1 576.5h0M611.0 486.6h0M578.1 396.0h0M593.8 543.0h0M444.3 420.3h0M483.3 502.9h0M657.8 336.0h0M577.4 564.9h0M612.5 345.3h0M590.8 524.7h0M507.2 489.4h0M436.5 568.8h0M468.3 395.2h0M675.9 539.0h0M472.8 482.2h0M701.8 418.8h0M701.0 547.1h0M607.8 530.3h0M669.3 432.4h0M675.2 523.8h0M632.4 447.9h0M427.3 536.6h0M594.7 357.5h0M697.5 540.7h0M715.7 488.3h0M649.2 413.5h0M547.6 379.1h0M452.3 369.4h0M486.7 578.9h0M656.5 362.6h0M585.7 498.1h0M684.5 439.4h0M450.2 499.4h0M643.6 571.1h0M617.2 577.0h0M542.0 442.9h0M604.3 351.7h0M579.1 544.4h0M553.7 573.5h0M672.2 420.3h0M515.3 391.5h0M641.4 564.6h0M697.4 363.8h0M457.4 480.1h0M531.5 576.3h0M476.1 425.5h0M452.7 513.6h0M661.8 409.1h0M473.7 451.9h0M650.4 485.2h0M482.3 513.9h0M697.9 569.2h0M489.7 350.1h0M618.0 524.6h0M643.1 383.3h0M532.7 455.1h0M560.3 554.6h0M685.9 407.6h0M493.4 508.7h0M545.0 432.5h0M702.0 539.6h0M708.8 461.4h0M517.8 417.7h0M531.4 462.8h0M572.7 508.1h0M620.4 497.4h0M654.4 536.6h0M441.4 447.7h0M560.2 511.7h0M674.0 530.5h0M429.3 569.5h0M549.4 481.5h0M592.3 431.0h0M506.8 447.2h0M603.7 388.7h0M468.2 493.5h0M688.2 555.1h0M626.3 474.3h0M448.7 408.1h0M631.4 403.1h0M589.1 385.3h0M679.3 321.4h0M458.3 421.7h0M438.6 381.8h0M534.8 479.1h0M644.6 453.0h0M514.3 373.6h0M667.9 355.7h0M670.0 336.4h0M687.9 540.4h0M704.3 469.1h0M553.8 471.8h0M484.3 452.6h0M512.6 442.0h0M694.8 541.5h0M697.8 542.2h0M648.8 390.8h0M440.4 496.9h0M520.6 473.7h0M525.9 334.6h0M656.6 363.6h0M488.9 531.4h0M663.3 364.8h0M619.2 425.4h0M659.7 429.7h0M514.5 535.9h0M573.0 472.8h0M539.8 572.8h0M673.5 533.5h0M443.5 373.2h0M713.8 502.2h0M621.7 405.1h0M489.4 467.5h0M474.2 461.3h0M443.0 502.7h0M579.8 545.9h0M434.7 526.0h0M622.2 556.2h0M566.3 545.7h0M717.3 476.6h0M633.3 571.9h0M579.2 539.0h0M697.1 367.9h0M680.7 380.2h0M667.2 404.1h0M603.8 498.0h0M426.7 466.7h0M614.0 502.4h0M548.5 483.9h0M445.5 479.1h0M483.9 552.9h0M620.1 540.2h0M503.4 359.4h0M473.1 474.2h0M662.3 371.5h0M670.6 331.0h0M583.9 529.2h0M656.4 365.5h0M444.6 545.3h0M631.0 392.5h0M629.0 444.5h0M478.5 507.9h0M435.7 532.9h0M645.2 327.0h0M670.0 535.4h0M685.7 466.3h0M600.1 329.5h0M446.6 471.1h0M556.8 483.1h0M461.6 417.3h0M597.4 532.9h0M651.7 560.9h0M534.1 479.3h0M504.8 412.3h0M501.5 554.3h0M592.3 523.3h0M566.0 427.4h0M513.8 556.5h0M442.9 471.0h0M674.6 372.8h0M648.3 368.1h0M507.7 522.0h0M505.8 429.3h0M647.8 372.7h0M562.2 355.4h0M612.3 371.8h0M552.5 514.7h0M540.4 379.6h0M528.5 438.5h0M541.2 399.1h0M500.5 346.5h0M605.6 485.9h0M676.1 383.2h0M458.4 567.7h0M548.4 504.6h0M517.2 543.2h0M580.5 507.6h0M544.8 445.7h0M648.2 463.2h0M710.6 561.1h0M674.6 352.7h0M435.8 442.7h0M432.5 374.2h0M540.8 412.8h0M625.5 424.3h0M531.4 545.1h0M539.8 499.1h0M594.7 422.1h0M488.7 546.9h0M546.9 336.0h0M604.0 541.8h0M450.9 346.7h0M540.6 343.4h0M545.1 557.6h0M484.8 534.6h0M716.0 326.3h0M597.2 443.2h0M572.4 463.6h0M702.9 347.2h0M488.8 426.9h0M477.8 571.5h0M583.3 392.9h0M514.1 383.6h0M527.2 512.8h0M513.4 551.0h0M447.6 412.1h0M435.9 323.4h0M618.9 348.8h0M604.0 372.5h0M468.2 361.7h0M568.5 465.0h0M519.8 434.9h0M716.6 491.0h0M541.6 475.8h0M571.4 472.3h0M437.2 435.5h0M436.3 444.1h0M686.7 337.5h0M544.6 476.2h0M526.3 498.6h0M691.8 445.4h0M704.1 473.9h0M511.8 557.7h0M617.2 425.5h0M652.2 484.8h0M493.4 381.5h0M640.2 450.2h0M660.8 496.3h0M471.5 496.7h0M511.4 551.2h0M574.7 498.6h0M510.7 549.9h0M508.8 545.8h0M650.2 392.8h0M429.4 411.4h0M437.0 408.2h0M477.7 420.3h0M543.0 467.6h0M475.4 352.1h0M428.6 482.8h0M704.6 450.3h0M640.7 511.4h0M534.9 554.9h0M619.8 504.4h0M569.4 344.6h0M481.6 442.6h0M573.1 415.9h0M698.6 359.2h0M517.2 467.6h0M490.7 393.0h0M677.6 455.7h0M551.9 515.1h0M543.3 333.5h0M715.4 560.5h0M682.5 525.1h0M633.5 483.1h0M496.0 360.1h0M498.0 510.9h0M556.4 484.0h0M660.2 333.4h0M438.9 379.4h0M625.1 540.1h0M560.9 572.3h0M636.6 479.2h0M496.5 519.1h0M661.4 481.5h0M546.2 503.9h0M696.8 482.5h0M431.6 396.1h0M605.7 565.1h0M532.7 578.3h0M656.6 375.5h0M669.4 501.3h0M697.9 399.7h0M510.2 547.7h0M465.8 408.3h0M668.9 558.9h0M493.0 489.4h0M610.4 447.5h0M525.9 516.2h0M611.2 324.3h0M553.5 535.4h0M531.8 346.7h0M717.1 530.9h0M472.6 493.7h0M439.5 557.9h0M716.0 507.4h0M618.6 343.0h0M472.9 388.7h0M566.6 454.3h0M715.8 471.0h0M712.9 322.5h0M504.3 338.3h0M682.1 492.2h0M476.1 533.8h0M663.7 526.0h0M533.0 492.0h0M573.6 434.0h0M449.8 357.9h0M581.1 478.2h0M557.9 356.5h0M523.0 407.8h0M691.0 456.7h0M609.5 352.1h0M678.0 382.3h0M679.2 446.9h0M493.5 487.1h0M476.1 500.7h0M431.8 439.5h0M627.4 349.5h0M679.0 346.1h0M652.9 529.9h0M621.8 511.9h0M517.1 412.1h0M466.1 420.8h0M545.5 490.4h0M639.2 491.9h0M618.6 405.1h0M504.2 411.5h0M458.1 405.6h0M620.4 449.2h0M659.4 419.6h0M620.1 515.4h0M558.2 530.3h0M687.9 576.5h0M468.1 347.3h0M713.7 418.3h0M525.6 407.7h0M570.3 426.2h0M511.2 465.5h0M576.5 419.1h0M643.2 357.3h0M424.3 401.7h0M636.2 395.3h0M471.0 511.9h0M575.8 575.0h0M483.1 391.8h0M428.4 465.8h0M449.6 521.7h0M715.3 348.7h0M538.9 356.0h0M715.8 350.3h0M484.5 436.7h0M626.0 543.8h0M567.8 347.1h0M453.1 471.6h0M534.6 472.2h0M715.5 578.5h0M489.9 495.5h0M542.4 483.4h0M662.4 411.8h0M537.0 506.5h0M687.4 426.0h0M668.9 424.4h0M473.0 488.8h0M449.6 473.7h0M436.2 531.3h0M716.5 555.2h0M435.2 482.3h0M633.0 532.0h0M501.3 542.4h0M643.7 414.1h0M494.5 535.8h0M554.8 416.2h0M541.3 373.7h0M429.5 327.0h0M513.5 460.4h0M709.3 552.3h0M528.1 540.2h0M547.6 459.7h0M459.9 431.6h0M534.6 338.3h0M506.5 494.9h0M596.3 359.1h0M676.6 438.4h0M490.4 353.9h0M679.8 370.1h0M623.1 391.3h0M478.3 362.3h0M665.4 468.6h0M634.3 324.0h0M452.8 506.6h0M570.1 575.2h0M635.1 537.7h0M712.0 394.8h0M660.8 538.1h0M644.0 382.0h0M439.8 412.0h0M460.4 579.6h0M597.0 532.8h0M692.1 349.3h0M542.8 408.5h0M607.8 457.1h0M701.8 496.3h0M705.1 376.9h0M583.6 328.8h0M523.2 506.1h0M672.6 406.2h0M548.8 462.0h0M668.5 448.3h0M666.8 421.6h0M572.3 543.6h0M501.6 468.6h0M623.9 540.1h0M579.4 431.6h0M693.8 512.2h0M659.9 507.0h0M494.0 347.6h0M615.0 378.1h0M673.3 335.3h0M567.2 376.5h0M695.0 346.1h0M631.9 541.1h0M698.1 412.6h0M706.9 394.0h0M539.4 342.4h0M429.7 326.7h0M484.2 380.7h0M640.3 406.6h0M473.2 380.2h0M612.6 558.8h0M502.4 552.1h0M715.3 329.1h0M642.5 554.7h0M591.5 346.7h0M636.9 381.0h0M440.4 553.2h0M643.0 506.0h0M463.2 443.7h0M713.7 472.5h0M533.5 558.7h0M533.3 552.6h0M588.7 467.9h0M472.3 553.2h0M462.1 371.7h0M490.4 455.4h0M558.3 554.7h0M478.3 569.9h0M500.6 355.1h0M447.6 436.9h0M676.4 545.6h0M700.9 533.4h0M690.6 489.1h0M438.8 441.4h0M689.5 350.2h0M564.8 395.6h0M571.3 524.0h0M714.7 566.3h0M552.5 528.4h0M664.6 474.1h0M691.2 332.8h0M497.3 413.6h0M429.7 467.7h0M548.4 419.7h0M431.1 334.5h0M658.2 481.4h0M521.2 470.4h0M614.3 507.3h0M598.6 516.5h0M637.2 515.5h0M668.2 534.1h0M627.7 404.5h0M535.4 400.5h0M454.4 408.0h0M565.7 523.5h0M629.1 579.4h0M508.5 537.1h0M589.2 496.7h0M556.6 416.6h0M453.5 524.0h0M615.2 468.3h0M537.7 367.4h0M476.7 434.9h0M475.0 404.2h0M635.1 497.9h0M563.4 371.3h0M471.1 547.7h0M516.1 464.1h0M640.3 360.8h0M558.5 389.8h0M500.0 424.3h0M474.5 415.9h0M441.8 410.1h0M710.6 376.0h0M506.6 475.8h0M577.6 484.4h0M648.0 364.4h0M471.7 345.2h0M594.2 345.7h0M489.1 337.4h0M525.7 542.1h0M511.7 552.8h0M599.6 533.9h0M596.5 526.3h0M463.6 566.7h0M475.7 412.1h0M608.0 467.2h0M707.7 442.5h0M635.2 459.8h0M615.9 399.3h0M480.3 450.6h0M479.1 566.0h0M546.7 482.1h0M597.9 547.7h0M483.3 330.3h0M607.2 498.1h0M706.6 534.3h0M515.8 474.0h0M582.8 428.0h0M476.3 432.3h0M445.0 579.1h0M677.2 541.0h0M484.7 511.8h0M554.9 486.2h0M634.4 386.9h0M586.5 346.0h0M464.6 426.2h0M436.6 354.3h0M709.5 339.4h0M494.0 554.7h0M437.1 476.4h0M629.7 521.2h0M474.3 407.1h0M667.6 537.7h0M661.9 406.9h0M703.3 538.1h0M585.9 525.2h0M692.3 435.2h0M531.7 480.8h0M479.5 416.2h0M587.1 413.6h0M490.5 400.4h0M659.9 459.3h0M651.5 450.1h0M610.0 529.0h0M460.3 379.3h0M703.0 488.9h0M557.9 550.7h0M641.6 552.3h0M712.7 376.4h0M682.7 433.3h0M689.1 559.4h0M620.5 349.2h0M641.2 401.1h0M512.3 420.8h0M649.6 332.8h0M663.5 562.2h0M523.2 407.0h0M459.6 337.2h0M639.8 336.1h0M717.3 332.3h0M598.5 503.2h0M495.6 494.2h0M613.1 343.3h0M459.5 529.4h0M599.5 342.6h0M484.0 461.1h0M623.2 524.6h0M643.9 470.0h0M567.9 479.2h0M541.0 557.9h0M619.9 402.8h0M446.5 459.3h0M553.0 424.5h0M672.7 555.9h0M705.0 395.2h0M534.5 520.5h0M536.4 415.4h0M614.3 533.3h0M499.2 576.2h0M429.0 404.6h0M542.0 403.7h0M634.1 514.1h0M690.1 520.2h0M616.8 505.2h0M451.4 389.3h0M622.5 518.8h0M514.8 345.3h0M652.1 405.4h0M644.3 328.2h0M602.1 502.8h0M629.6 541.4h0M631.8 536.7h0M674.5 397.1h0M578.3 564.5h0M603.3 539.8h0M610.2 462.0h0M614.4 484.4h0M568.6 358.5h0M639.6 575.7h0M426.5 419.2h0M530.5 552.6h0M451.7 576.1h0M709.9 579.8h0M637.1 564.7h0M424.6 454.2h0M674.0 567.5h0M708.5 343.4h0M486.6 539.0h0M602.7 368.6h0M530.7 453.9h0M665.3 374.6h0M449.7 391.3h0M594.7 416.0h0M624.9 392.6h0M695.5 533.8h0M484.7 425.2h0M473.7 365.6h0M578.3 410.8h0M561.9 372.1h0M612.0 551.6h0M552.9 326.1h0M495.1 534.4h0M509.9 513.3h0M482.6 487.5h0M515.7 416.9h0M575.8 380.9h0M458.4 340.1h0M476.6 384.9h0M482.7 492.0h0M537.8 328.9h0M673.6 376.7h0M454.1 562.4h0M534.2 484.0h0M699.4 464.4h0M601.6 573.0h0M595.8 411.9h0M466.7 386.8h0M488.2 365.5h0M638.9 379.0h0M710.6 352.7h0M439.6 475.9h0M569.8 529.3h0M697.4 398.7h0M597.1 478.9h0M560.6 527.0h0M702.0 520.1h0M434.7 429.1h0M643.0 362.9h0M470.0 455.3h0M644.1 389.8h0M432.1 392.6h0M545.5 418.5h0M558.1 544.0h0M490.9 553.7h0M549.2 423.8h0M628.8 460.5h0M654.5 396.2h0M654.3 491.6h0M427.9 395.8h0M709.2 326.4h0M459.7 407.0h0M574.4 518.0h0M471.1 505.4h0M501.3 425.1h0M544.8 411.2h0M464.6 419.5h0M438.0 325.1h0M637.5 383.9h0M687.0 576.3h0M510.7 361.5h0M708.8 377.7h0M690.6 544.6h0M588.9 379.9h0M503.7 576.2h0M645.7 413.3h0M687.4 525.9h0M659.4 529.6h0M444.7 566.3h0M590.8 567.7h0M465.4 366.6h0M645.4 380.0h0M673.8 422.7h0M461.9 529.4h0M573.7 341.1h0M495.8 399.9h0M470.7 381.3h0M490.1 471.4h0M570.8 519.8h0M484.9 574.4h0M643.8 448.7h0M579.2 416.0h0M569.2 486.8h0M600.7 466.8h0M455.9 500.4h0M483.9 388.0h0M557.1 537.7h0M626.4 559.6h0M429.8 521.3h0M580.0 497.0h0M481.7 577.7h0M538.9 382.1h0M695.3 395.4h0M486.6 497.7h0M587.0 345.3h0M683.8 389.4h0M672.2 563.8h0M677.3 373.9h0M686.2 338.6h0M672.5 380.9h0M465.4 339.0h0M464.6 477.5h0M622.8 462.2h0M537.0 477.4h0M436.2 464.1h0M674.8 344.2h0M524.5 344.9h0M656.9 532.6h0M433.9 475.4h0M474.1 351.4h0M430.3 475.9h0M444.2 385.0h0M515.0 429.5h0M585.5 486.4h0M660.3 323.1h0M665.3 394.7h0M662.4 343.0h0M556.0 525.6h0M616.8 420.5h0M626.1 574.8h0M571.7 498.9h0M536.3 463.2h0M467.8 463.6h0M529.0 357.8h0M510.8 575.7h0M569.9 547.3h0M630.6 533.9h0M466.8 339.3h0M624.0 540.6h0M558.3 393.5h0M680.8 419.4h0M627.5 420.3h0M643.0 529.5h0M527.1 469.7h0M459.4 328.0h0M531.9 473.1h0M432.9 368.5h0M708.9 326.8h0M448.4 461.8h0M496.5 540.0h0M540.2 402.6h0M499.4 331.2h0M683.2 569.0h0M469.0 503.4h0M579.3 395.3h0M715.0 407.4h0M711.7 579.2h0M477.9 472.2h0M538.8 527.5h0M602.0 463.7h0M456.2 338.1h0M561.3 555.4h0M551.3 541.5h0M620.3 552.3h0M624.1 573.2h0M602.3 475.4h0M670.8 535.6h0M435.0 498.0h0M538.9 522.8h0M652.6 332.2h0M494.4 502.3h0M545.0 329.6h0M528.9 512.5h0M510.6 365.8h0M508.9 441.7h0M520.9 504.5h0M505.5 366.4h0M670.5 391.6h0M564.4 354.7h0M457.3 339.5h0M682.5 437.0h0M533.6 359.6h0M628.6 429.3h0M520.8 439.8h0M482.8 430.6h0M567.9 337.1h0M648.1 348.9h0M659.7 379.6h0M637.0 492.9h0M585.7 366.0h0M456.2 473.6h0M475.8 462.9h0M672.5 427.9h0M458.1 430.0h0M554.1 561.4h0M458.9 397.2h0M582.6 440.7h0M690.0 565.0h0M469.6 442.4h0M446.2 391.5h0M627.6 355.5h0M614.6 523.1h0M611.5 414.4h0M433.1 489.9h0M675.9 478.9h0M522.9 567.5h0M575.0 361.7h0M657.6 384.1h0M595.6 518.5h0M426.6 533.7h0M621.1 568.0h0M428.3 327.9h0M639.1 415.0h0M632.5 366.6h0M659.8 560.9h0M529.9 524.2h0M694.2 465.4h0M531.1 334.0h0M615.2 552.2h0M512.9 424.8h0M662.7 321.8h0M505.8 445.0h0M555.4 500.9h0M569.9 521.7h0M579.7 449.2h0M632.6 381.6h0M576.3 497.3h0M443.9 530.7h0M518.3 502.0h0M518.5 396.8h0M438.3 517.7h0M680.9 515.2h0M646.9 354.6h0M555.4 521.1h0M505.5 382.2h0M584.3 563.7h0M654.4 559.3h0M538.6 386.6h0M576.6 433.9h0M492.5 529.0h0M509.7 543.0h0M517.3 324.4h0M665.1 362.3h0M621.0 443.5h0M453.4 557.2h0M441.9 541.9h0M616.8 407.0h0M598.1 426.0h0M457.2 372.8h0M460.1 515.2h0M570.2 475.9h0M664.2 536.3h0M678.5 360.8h0M663.5 387.8h0M466.1 390.8h0M627.8 505.7h0M578.7 335.8h0M685.2 496.8h0M513.8 535.2h0M681.4 416.6h0M603.2 387.2h0M612.8 495.0h0M554.2 524.6h0M444.3 411.6h0M665.2 516.9h0M431.2 454.4h0M655.7 432.4h0M582.6 347.0h0M439.5 576.6h0M454.5 422.5h0M582.1 492.2h0M607.9 450.5h0M503.4 373.6h0M584.6 522.4h0M513.5 430.8h0M586.5 573.2h0M448.4 387.5h0M520.7 332.5h0M475.7 574.8h0M465.6 398.9h0M530.7 518.6h0M554.2 516.4h0M587.5 565.2h0M586.4 476.3h0M709.9 549.4h0M583.1 429.3h0M458.2 372.2h0M709.2 506.0h0M710.7 465.0h0M561.2 431.4h0M621.2 540.9h0M594.4 494.0h0M642.1 460.1h0M601.1 561.7h0M635.3 535.5h0M570.9 540.8h0M462.6 345.9h0M674.4 479.4h0M472.4 520.5h0M618.6 415.2h0M577.9 439.4h0M572.1 452.8h0M692.6 542.7h0M557.3 410.9h0M466.3 542.9h0M560.0 493.1h0M508.8 442.0h0M427.4 474.4h0M635.0 324.9h0M692.1 575.1h0M678.5 483.6h0M545.7 429.7h0M567.3 386.2h0M512.7 401.0h0M675.8 323.5h0M621.0 525.0h0M428.7 540.2h0M470.1 504.5h0M516.2 461.5h0M550.9 452.4h0M707.4 357.5h0M589.5 483.5h0M477.6 331.6h0M600.2 471.1h0M484.9 384.4h0M666.0 528.0h0M508.3 429.5h0M637.0 366.0h0M507.2 447.4h0M632.4 559.2h0M520.5 488.5h0M477.3 548.7h0M446.4 530.8h0M477.8 391.2h0M651.4 361.3h0M424.0 391.1h0M576.7 342.4h0M530.2 474.2h0M465.9 564.6h0M541.6 383.8h0M591.5 424.2h0M617.2 403.8h0M706.5 547.4h0M631.0 379.3h0M448.9 566.1h0M597.8 503.9h0M685.3 393.9h0M550.7 517.5h0M551.4 577.3h0M696.7 551.2h0M480.0 347.9h0M650.3 458.7h0M561.5 442.0h0M618.5 360.8h0M556.4 475.0h0M476.4 449.1h0M494.1 525.6h0M703.4 403.0h0M507.1 372.3h0M511.7 402.2h0M618.1 398.6h0M484.2 516.1h0M556.1 347.5h0M709.9 355.2h0M431.3 333.0h0M601.4 527.6h0M469.3 435.0h0M424.7 518.5h0M621.6 401.7h0M574.7 505.3h0M499.3 557.3h0M676.3 405.6h0M511.5 322.8h0M609.1 492.9h0M630.5 339.0h0M473.6 468.5h0M704.8 544.6h0M462.1 390.4h0M568.6 349.8h0M462.0 481.1h0M666.7 362.4h0M706.8 553.1h0M444.5 412.1h0M629.7 424.6h0M714.2 388.8h0M543.9 338.1h0M705.4 328.8h0M661.3 543.8h0M695.6 490.7h0M664.1 340.3h0M583.5 449.1h0M539.6 487.3h0M606.5 441.6h0M483.6 529.3h0M688.3 447.4h0M624.2 577.4h0M699.2 336.9h0M574.0 572.0h0M583.0 332.4h0M561.1 519.9h0M474.3 338.0h0M708.5 525.1h0M541.2 509.2h0M467.8 570.9h0M632.8 338.2h0M702.5 422.9h0M585.6 413.4h0M430.9 481.9h0M675.4 336.5h0M540.8 528.0h0M468.8 532.6h0M545.5 384.1h0M655.7 569.7h0M427.9 356.3h0M627.4 547.4h0M618.1 364.2h0M470.8 471.8h0M670.2 361.0h0M493.5 500.2h0M559.0 477.5h0M483.5 493.2h0M484.6 503.1h0M502.8 321.3h0M552.4 461.3h0M520.7 398.3h0M696.2 389.6h0M475.9 394.1h0M499.0 564.2h0M704.2 553.9h0M538.2 455.1h0M528.5 495.4h0M658.0 433.1h0M693.9 560.8h0M542.3 512.8h0M524.8 451.4h0M547.2 379.3h0M464.6 419.1h0M662.3 419.6h0M704.5 410.7h0M546.7 544.5h0M661.6 461.0h0M667.6 422.8h0M490.8 470.1h0M655.4 377.9h0M653.0 380.1h0M647.5 567.6h0M438.8 417.4h0M706.7 427.2h0M448.2 348.3h0M680.3 464.8h0M651.4 418.6h0M612.3 438.8h0M689.4 517.0h0M454.0 322.5h0M639.6 500.5h0M488.8 369.1h0M711.6 535.7h0M648.7 441.3h0M688.9 578.3h0M614.5 347.2h0M591.1 383.9h0M541.8 518.8h0M470.4 392.9h0M560.8 504.9h0M673.0 546.2h0M426.9 487.4h0M654.9 397.5h0M555.6 388.1h0M514.2 438.1h0M460.5 510.5h0M547.3 510.0h0M543.4 388.1h0M434.6 348.7h0M717.2 539.1h0M517.5 509.9h0M600.5 559.0h0M714.7 385.9h0M613.3 370.5h0M699.6 531.4h0M671.6 360.1h0M576.8 554.8h0M519.3 501.6h0M549.3 531.9h0M637.3 528.8h0M473.3 406.7h0M592.3 393.5h0M469.9 401.0h0M650.9 574.6h0M484.3 465.6h0M704.1 511.5h0M587.5 536.2h0M585.9 332.5h0M648.0 356.6h0M474.9 498.2h0M698.5 437.7h0M474.3 506.9h0M450.5 461.9h0M508.7 417.9h0M595.4 345.3h0M558.1 398.3h0M663.0 430.2h0M699.9 401.4h0M481.9 413.4h0M666.2 518.2h0M706.7 479.5h0M543.9 495.0h0M516.9 420.0h0M463.7 459.5h0M510.7 445.6h0M468.4 429.9h0M522.0 404.1h0M536.7 361.5h0M660.7 381.2h0M470.1 353.4h0M665.3 344.9h0M465.4 487.4h0M718.2 334.1h0M600.8 330.6h0M439.2 525.1h0M677.2 364.5h0M468.4 422.5h0M714.5 452.9h0M593.9 450.3h0M536.9 495.5h0M677.5 342.4h0M628.0 447.8h0M656.2 468.5h0M514.1 576.2h0M600.3 513.2h0M593.3 565.1h0M543.0 370.5h0M669.1 513.9h0M642.3 328.9h0M442.9 372.9h0M509.0 546.9h0M469.6 329.1h0M610.5 563.4h0M445.5 328.7h0M713.9 386.7h0M518.7 472.7h0M604.8 559.6h0M617.3 353.6h0M424.4 380.3h0M686.9 460.1h0M608.1 379.6h0M670.9 393.3h0M631.1 342.5h0M592.5 399.2h0M463.2 411.2h0M714.4 361.8h0M430.2 500.6h0M589.9 520.7h0M546.5 397.4h0M519.7 573.6h0M659.9 514.9h0M563.5 346.4h0M682.7 365.9h0M455.5 379.1h0M609.6 533.8h0M490.3 382.9h0M555.8 490.2h0M510.0 386.9h0M664.9 351.8h0M501.7 519.1h0M445.6 327.0h0M620.4 542.9h0M456.3 412.8h0M698.2 481.5h0M476.7 388.1h0M569.8 417.9h0M706.2 440.5h0M640.7 573.8h0M483.1 469.8h0M696.2 507.2h0M544.2 432.6h0M665.3 394.4h0M431.2 413.4h0M652.1 426.4h0M630.8 513.9h0M554.0 501.9h0M602.7 509.7h0M572.3 367.9h0M653.8 413.0h0M465.6 464.7h0M458.1 500.1h0M682.9 348.6h0M560.2 414.5h0M448.0 336.8h0M636.4 480.2h0M431.4 536.6h0M458.6 350.7h0M539.9 501.6h0M556.1 346.6h0M470.4 397.3h0M445.8 394.0h0M616.7 342.8h0M669.8 394.7h0M500.6 443.5h0M523.0 550.5h0M550.3 540.3h0M654.9 494.0h0M537.8 533.6h0M662.2 401.3h0M575.8 447.1h0M506.5 347.9h0M493.7 577.6h0M577.4 429.7h0M517.2 339.9h0M551.5 523.2h0M661.1 352.4h0M600.9 416.7h0M511.9 453.3h0M615.6 395.0h0M477.2 547.8h0M533.3 541.0h0M451.0 331.4h0M669.2 380.8h0M445.7 485.8h0M540.7 477.3h0M677.0 384.3h0M427.2 546.6h0M571.3 496.4h0M701.9 348.0h0M475.0 536.1h0M512.7 406.3h0M689.9 568.6h0M515.5 539.6h0M702.9 476.9h0M510.2 458.2h0M521.1 409.9h0M586.3 411.6h0M581.5 575.2h0M712.1 513.2h0M479.6 502.3h0M508.6 401.8h0M576.9 572.6h0M718.4 418.2h0M656.3 499.3h0M588.7 452.4h0M523.3 575.5h0M460.0 568.6h0M633.6 475.9h0M512.7 531.3h0M591.9 409.6h0M521.6 566.3h0M447.3 361.1h0M552.9 480.8h0M595.4 465.6h0M584.7 457.8h0M460.2 347.4h0M696.3 548.9h0M463.6 335.4h0M412.1 466.3h0M335.1 461.4h0M350.0 503.3h0M339.2 658.1h0M330.2 527.6h0M385.5 533.3h0M319.0 421.2h0M364.6 652.2h0M314.7 563.8h0M370.9 534.4h0M365.3 486.0h0M308.6 644.1h0M399.7 635.1h0M318.1 591.5h0M335.1 618.2h0M311.1 499.7h0M342.3 524.4h0M304.5 448.9h0M314.3 657.6h0M395.4 650.8h0M337.3 460.9h0M359.5 551.6h0M362.8 525.9h0M312.0 598.9h0M308.4 606.1h0M391.6 501.4h0M416.7 457.7h0M393.3 527.3h0M380.9 527.2h0M349.6 535.6h0M421.5 509.3h0M335.4 565.0h0M347.3 426.9h0M345.3 451.6h0M395.0 541.0h0M309.9 588.1h0M380.0 648.5h0M347.9 545.0h0M304.9 544.7h0M361.1 543.7h0M401.6 646.0h0M389.7 609.1h0M325.2 425.8h0M343.6 437.7h0M374.9 500.5h0M396.6 478.5h0M325.5 480.4h0M322.4 447.3h0M314.2 648.1h0M310.1 597.5h0M373.9 452.7h0M357.1 452.8h0M373.6 516.9h0M398.1 590.0h0M407.6 641.8h0M344.4 479.3h0M391.8 653.6h0M311.0 500.6h0M403.3 541.8h0M347.5 448.8h0M368.9 554.3h0M372.3 545.4h0M366.9 657.5h0M385.5 536.0h0M378.3 445.9h0M395.6 598.2h0M393.4 582.7h0M330.0 567.9h0M368.4 605.0h0M325.9 574.9h0M324.7 451.1h0M366.5 471.3h0M351.0 606.0h0M410.1 555.7h0M411.4 598.2h0M359.0 654.5h0M343.7 615.0h0M396.2 645.2h0M412.4 636.9h0M415.4 583.5h0M338.2 593.6h0M367.8 553.6h0M388.6 605.7h0M314.1 568.1h0M392.0 657.3h0M394.9 625.6h0M410.3 606.8h0M416.9 552.6h0M351.1 532.1h0M377.0 654.6h0M388.1 653.3h0M340.5 578.5h0M417.1 561.4h0M399.7 623.8h0M362.9 553.4h0M423.8 461.9h0M333.3 423.9h0M393.5 495.4h0M420.4 643.7h0M331.8 418.7h0M402.4 626.1h0M322.7 654.7h0M346.1 522.3h0M323.8 461.9h0M329.4 458.0h0M328.4 645.4h0M380.1 426.0h0M342.4 591.2h0M309.0 457.8h0M368.8 510.3h0M407.8 567.4h0M339.9 486.1h0M386.5 519.3h0M417.8 504.7h0M390.9 624.7h0M349.4 457.5h0M376.2 629.1h0M375.3 570.0h0M407.3 546.2h0M376.5 444.9h0M372.8 599.3h0M327.8 606.0h0M331.3 613.3h0M337.8 614.6h0M354.2 462.6h0M346.2 631.0h0M368.3 471.3h0M389.1 618.4h0M319.3 473.3h0M389.9 448.5h0M320.6 517.3h0M380.0 633.5h0M347.9 452.8h0M320.6 417.8h0M423.6 570.0h0M384.9 453.9h0M364.2 450.0h0M383.3 638.6h0M327.2 646.7h0M365.5 618.4h0M386.4 485.5h0M327.4 650.6h0M326.2 572.0h0M401.9 558.8h0M389.3 457.3h0M329.4 600.6h0M337.9 445.1h0M371.7 610.3h0M357.4 615.0h0M322.1 482.3h0M388.2 508.6h0M320.9 621.7h0M355.7 633.0h0M384.1 482.2h0M326.0 503.5h0M342.4 637.3h0M387.7 659.8h0M403.5 573.7h0M336.9 642.6h0M402.5 649.5h0M331.8 458.8h0M305.0 619.4h0M391.4 534.7h0M310.6 498.3h0M357.1 433.3h0M381.1 457.1h0M388.0 478.1h0M415.8 644.9h0M372.1 450.8h0M402.7 410.1h0M377.4 617.7h0M418.5 610.4h0M355.8 622.7h0M409.6 553.4h0M385.0 503.6h0M367.5 613.9h0M322.1 652.2h0M356.9 623.1h0M315.5 546.0h0M390.4 425.3h0M402.9 514.5h0M347.5 563.1h0M374.2 432.0h0M348.4 416.9h0M375.9 443.7h0M390.1 542.8h0M423.9 490.0h0M332.0 626.4h0M307.8 511.4h0M420.8 448.0h0M377.7 450.9h0M384.8 506.9h0M350.3 647.5h0M393.8 595.7h0M367.3 604.4h0M320.7 628.8h0M362.1 576.8h0M394.8 529.7h0M362.3 422.4h0M342.9 629.0h0M322.8 611.2h0M395.5 570.2h0M391.1 595.7h0M397.5 608.6h0M389.5 452.5h0M404.9 649.8h0M331.1 610.4h0M382.2 511.3h0M389.7 604.8h0M405.2 569.7h0M382.1 580.9h0M394.1 474.5h0M343.7 583.3h0M356.2 604.9h0M304.5 527.2h0M383.3 461.8h0M334.2 458.9h0M366.0 510.2h0M409.3 477.8h0M364.9 499.3h0M321.7 418.1h0M378.5 463.4h0M361.3 644.0h0M413.0 653.4h0M346.2 596.4h0M394.9 504.6h0M345.1 440.2h0M383.4 647.8h0M314.3 446.1h0M308.2 619.5h0M387.2 447.6h0M401.6 654.6h0M418.0 438.4h0M313.3 607.9h0M349.0 482.3h0M382.7 548.7h0M371.3 604.9h0M421.7 425.7h0M325.4 635.2h0M357.7 578.4h0M390.9 546.7h0M344.2 427.7h0M361.7 494.5h0M390.2 617.3h0M375.9 450.5h0M362.2 445.6h0M370.4 546.0h0M370.7 531.4h0M419.2 494.3h0M338.8 511.3h0M392.4 539.1h0M399.4 599.5h0M358.1 474.3h0M389.3 503.0h0M354.2 444.6h0M319.1 575.8h0M370.7 623.2h0M376.6 430.6h0M329.7 538.7h0M386.3 546.7h0M377.5 458.1h0M314.6 483.6h0M359.0 483.5h0M417.2 572.7h0M413.3 563.8h0M410.9 642.4h0M314.0 427.1h0M324.0 438.3h0M382.5 545.0h0M371.3 606.4h0M309.8 503.9h0M382.9 654.8h0M336.3 611.2h0M393.9 532.1h0M337.3 547.5h0M376.9 413.4h0M395.3 567.9h0M327.9 536.4h0M380.7 448.3h0M319.7 586.3h0M402.8 452.0h0M366.6 468.5h0M409.9 608.0h0M332.0 474.7h0M387.1 506.1h0M371.4 593.6h0M357.0 505.5h0M352.6 551.4h0M308.8 632.9h0M305.1 478.9h0M403.5 474.5h0M348.8 532.6h0M349.4 622.3h0M311.6 534.5h0M360.5 553.0h0M408.2 445.2h0M375.5 436.6h0M374.5 593.0h0M313.2 592.5h0M353.6 625.9h0M421.7 462.1h0M338.7 542.3h0M348.9 521.6h0M353.6 435.0h0M394.3 448.6h0M343.1 417.1h0M420.8 473.4h0M407.3 632.5h0M410.8 464.4h0M383.5 583.7h0M409.2 628.2h0M332.6 416.2h0M309.1 578.1h0M356.5 579.5h0M373.5 447.8h0M420.3 585.0h0M337.8 558.4h0M365.0 653.7h0M341.7 489.7h0M306.9 649.3h0M371.1 644.9h0M367.6 556.5h0M413.9 644.9h0M354.8 498.5h0M325.7 470.9h0M406.3 558.2h0M406.0 413.2h0M341.5 419.6h0M343.6 490.5h0M343.5 654.9h0M373.9 599.9h0M419.9 451.3h0M306.2 593.0h0M404.2 500.9h0M342.2 450.8h0M369.1 517.7h0M370.1 420.6h0M397.4 626.8h0M384.1 458.8h0M316.9 491.7h0M368.7 576.0h0M403.1 447.9h0M344.5 607.1h0M313.6 495.8h0M326.1 488.7h0M344.9 624.8h0M347.2 550.9h0M331.5 439.2h0M418.8 536.5h0M395.0 585.8h0M358.3 605.5h0M324.1 580.1h0M313.0 593.0h0M422.8 608.9h0M406.8 583.3h0M393.3 459.7h0M359.4 512.3h0M418.1 611.8h0M365.5 433.3h0M408.4 572.1h0M343.1 530.7h0M310.0 438.7h0M368.0 521.1h0M395.9 561.8h0M305.3 630.8h0M358.6 624.8h0M399.1 490.5h0M353.2 433.9h0M350.7 441.5h0M315.4 564.9h0M328.1 525.9h0M390.0 631.5h0M398.9 496.9h0M407.6 589.0h0M401.7 532.4h0M375.0 601.1h0M372.9 609.9h0M326.2 575.4h0M381.5 443.8h0M394.2 629.8h0M423.4 621.1h0M310.6 417.4h0M388.7 592.3h0M330.6 546.3h0M410.7 626.8h0M420.5 477.4h0M307.3 636.3h0M405.7 608.0h0M354.6 468.9h0M386.7 530.4h0M344.5 439.3h0M401.0 411.9h0M379.2 623.5h0M336.9 521.6h0M395.9 410.1h0M404.2 419.2h0M373.1 410.8h0M367.6 606.4h0M360.3 468.2h0M357.5 520.7h0M367.2 479.4h0M405.4 649.1h0M340.1 580.4h0M338.7 583.9h0M355.1 484.6h0M329.1 489.4h0M407.0 620.4h0M352.4 650.9h0M373.3 660.0h0M378.5 609.9h0M333.6 640.9h0M394.0 549.6h0M343.1 564.0h0M325.0 637.9h0M326.4 591.3h0M416.1 476.3h0M389.2 456.5h0M408.6 577.2h0M342.6 609.6h0M392.9 646.2h0M585.9 668.7h0M474.6 594.0h0M696.1 623.5h0M716.8 604.5h0M444.6 647.2h0M594.3 609.3h0M688.2 582.4h0M481.4 655.0h0M512.7 666.6h0M576.9 667.8h0M454.9 642.9h0M485.0 591.8h0M594.7 681.0h0M436.6 667.6h0M584.7 624.9h0M755.0 595.8h0M607.2 649.4h0M744.8 669.7h0M530.3 607.8h0M705.3 687.7h0M645.4 629.8h0M474.2 658.0h0M502.2 661.4h0M518.7 629.5h0M497.9 614.1h0M458.8 658.7h0M759.9 640.1h0M651.3 582.0h0M481.3 659.8h0M719.4 652.4h0M668.0 613.1h0M637.1 687.3h0M524.8 651.7h0M533.6 677.6h0M622.0 650.9h0M764.5 607.1h0M637.5 652.2h0M720.4 677.2h0M723.9 683.8h0M435.9 674.7h0M469.6 678.8h0M718.4 625.8h0M649.8 644.0h0M752.7 617.3h0M705.1 627.3h0M695.5 596.7h0M603.7 625.8h0M706.9 627.8h0M437.5 629.5h0M681.8 644.2h0M749.8 607.3h0M510.0 621.0h0M649.6 612.9h0M632.6 661.0h0M525.1 658.0h0M619.4 666.8h0M442.8 630.3h0M621.1 649.4h0M667.6 617.6h0M470.2 601.9h0M488.8 679.2h0M513.9 687.0h0M717.1 581.3h0M430.2 680.1h0M593.6 631.3h0M598.8 589.9h0M536.7 611.1h0M547.4 644.7h0M627.1 664.5h0M704.2 586.9h0M560.5 668.1h0M519.5 661.8h0M753.5 612.4h0M553.2 646.0h0M560.1 676.1h0M762.3 652.0h0M684.0 602.0h0M716.4 674.8h0M696.3 600.4h0M707.1 633.4h0M532.1 636.8h0M742.2 659.9h0M605.7 628.9h0M477.8 641.1h0M571.3 683.0h0M615.7 617.4h0M486.7 587.6h0M680.3 601.6h0M729.4 640.1h0M582.9 585.6h0M440.8 602.5h0M520.2 629.5h0M715.2 668.5h0M721.8 686.1h0M606.0 634.8h0M476.4 588.8h0M658.2 634.7h0M499.8 644.7h0M659.6 681.1h0M644.2 658.5h0M541.7 673.4h0M489.8 597.9h0M567.2 588.9h0M666.6 635.6h0M677.5 620.9h0M540.1 608.3h0M557.2 671.2h0M514.2 646.1h0M684.1 635.8h0M722.2 663.4h0M487.8 591.4h0M682.2 638.1h0M509.7 657.2h0M439.2 677.9h0M624.9 669.3h0M720.2 646.1h0M739.1 589.9h0M603.6 637.2h0M604.8 637.9h0M595.9 622.7h0M523.8 655.3h0M591.9 619.3h0M601.0 604.3h0M510.2 662.3h0M556.7 585.2h0M725.9 671.7h0M722.0 630.6h0M622.1 607.0h0M717.9 617.5h0M663.7 607.1h0M577.2 631.0h0M693.3 644.4h0M685.8 591.0h0M756.2 630.8h0M533.8 671.1h0M521.7 681.4h0M716.3 652.4h0M514.3 681.3h0M692.4 649.0h0M666.1 639.5h0M686.2 589.4h0M565.0 594.1h0M450.1 599.4h0M535.8 609.0h0M472.8 639.5h0M532.9 620.2h0M552.0 600.2h0M671.2 637.4h0M719.7 614.7h0M503.6 654.6h0M626.3 647.8h0M460.3 623.1h0M740.5 654.6h0M760.4 677.1h0M487.5 610.7h0M527.9 586.8h0M630.9 664.1h0M722.0 657.4h0M660.2 597.5h0M469.3 664.2h0M435.9 583.6h0M515.4 628.7h0M472.2 612.5h0M696.3 656.4h0M541.2 682.3h0M527.0 629.5h0M718.5 600.6h0M468.7 644.0h0M466.9 660.3h0M666.8 611.0h0M714.6 628.7h0M680.4 584.6h0M519.3 592.7h0M526.1 675.1h0M614.3 681.7h0M671.9 623.1h0M566.1 626.3h0M655.8 591.6h0M634.0 592.2h0M746.0 626.8h0M559.8 681.3h0M551.1 639.2h0M647.9 599.4h0M715.9 629.2h0M612.0 683.2h0M735.4 594.3h0M757.1 621.3h0M675.8 586.7h0M751.9 654.2h0M438.8 687.7h0M559.4 684.8h0M550.1 677.3h0M733.5 682.9h0M656.2 665.8h0M452.1 588.8h0M706.9 642.3h0M523.0 629.8h0M648.6 643.5h0M659.6 669.4h0M536.9 640.4h0M437.2 684.1h0M754.1 657.5h0M575.5 638.7h0M687.8 610.9h0M551.9 633.4h0M493.0 687.1h0M523.5 637.2h0M765.8 632.6h0M514.3 583.0h0M679.4 674.6h0M429.5 648.2h0M636.2 633.6h0M591.5 648.8h0M762.5 622.3h0M714.0 681.1h0M597.5 618.3h0M734.4 629.6h0M567.1 589.7h0M674.7 640.9h0M427.9 630.9h0M572.5 675.1h0M507.8 593.1h0M709.8 656.1h0M703.8 687.8h0M698.8 585.1h0M760.3 684.0h0M645.3 607.5h0M596.0 642.4h0M497.1 664.3h0M452.2 650.3h0M634.0 613.3h0M536.1 589.1h0M574.8 646.6h0M764.6 682.9h0M756.4 683.9h0M463.5 609.0h0M564.5 649.8h0M653.4 688.0h0M633.5 604.9h0M603.0 598.3h0M427.8 632.0h0M592.4 666.6h0M576.6 618.8h0M522.4 664.3h0M485.8 654.7h0M630.4 613.7h0M470.9 617.7h0M431.6 669.9h0M702.6 606.0h0M513.7 586.6h0M676.4 647.0h0M600.3 675.1h0M614.6 596.7h0M528.8 585.8h0M729.2 641.8h0M743.9 615.6h0M614.9 629.2h0M689.6 658.4h0M538.3 584.9h0M477.2 667.9h0M587.3 656.9h0M474.8 589.4h0M669.2 580.6h0M594.5 619.5h0M527.9 652.7h0M431.1 656.2h0M719.5 619.1h0M617.2 582.0h0M626.6 592.9h0M537.2 580.5h0M440.9 612.1h0M631.3 645.2h0M550.9 657.8h0M454.1 676.4h0M473.1 627.7h0M733.2 679.2h0M455.7 596.3h0M484.6 671.0h0M470.6 593.9h0M493.6 606.9h0M591.4 646.8h0M556.2 600.4h0M430.9 619.0h0M438.4 660.9h0M529.3 586.2h0M513.5 622.5h0M742.7 633.3h0M574.1 646.6h0M604.4 587.4h0M748.0 662.3h0M599.8 610.0h0M766.3 588.0h0M488.3 619.1h0M645.4 680.1h0M766.5 647.2h0M579.5 605.6h0M535.4 675.2h0M705.8 641.9h0M720.4 600.0h0M713.7 628.5h0M452.8 664.7h0M568.3 625.5h0M617.7 621.4h0M756.9 672.4h0M516.0 637.6h0M428.7 602.3h0M461.1 583.2h0M487.6 675.4h0M505.1 627.5h0M443.6 585.0h0M638.2 673.1h0M730.2 594.0h0M631.8 680.4h0M611.1 608.8h0M461.1 634.0h0M753.7 629.6h0M745.0 643.3h0M493.5 611.7h0M642.4 597.7h0M612.5 631.7h0M597.7 606.7h0M482.4 589.7h0M430.2 669.5h0M693.2 626.2h0M515.3 649.8h0M549.8 590.0h0M735.5 603.0h0M591.8 617.7h0M632.1 647.7h0M567.8 670.1h0M591.3 675.4h0M723.8 648.1h0M572.3 610.2h0M611.4 670.7h0M608.6 652.1h0M507.7 639.6h0M637.8 603.4h0M648.2 666.7h0M754.4 648.1h0M616.4 590.5h0M574.2 598.1h0M521.7 619.9h0M600.0 592.7h0M735.4 612.1h0M568.4 601.1h0M446.5 601.6h0M633.1 642.2h0M625.5 674.4h0M719.7 584.2h0M632.5 618.4h0M429.3 655.7h0M724.5 669.8h0M610.6 676.9h0M453.4 686.7h0M707.9 628.1h0M434.6 659.3h0M592.8 608.2h0M461.1 633.2h0M485.6 658.2h0M607.4 626.9h0M578.3 631.4h0M751.0 613.4h0M734.3 623.6h0M481.8 676.4h0M685.8 600.5h0M653.6 647.8h0M721.6 658.7h0M433.5 636.0h0M547.1 642.0h0M470.1 611.9h0M674.1 586.1h0M633.8 613.9h0M656.1 689.3h0M692.8 680.0h0M618.8 614.0h0M544.6 592.4h0M736.5 647.1h0M538.5 646.2h0M467.0 589.9h0M537.3 661.8h0M678.1 643.4h0M737.6 644.9h0M643.7 674.5h0M540.7 624.7h0M467.3 660.6h0M689.4 603.1h0M480.5 603.0h0M612.8 684.3h0M498.9 675.8h0M431.3 615.2h0M613.0 658.9h0M442.4 679.8h0M501.8 605.5h0M759.0 681.6h0M532.0 604.4h0M686.4 614.2h0M546.5 632.1h0M640.4 614.3h0M719.1 660.4h0M677.4 663.4h0M707.2 619.3h0M549.8 680.4h0M514.4 594.5h0M761.7 631.1h0M442.0 593.6h0M443.8 590.9h0M640.0 649.1h0M546.1 633.6h0M690.1 611.2h0M449.3 653.2h0M585.1 643.5h0M709.2 592.4h0M681.0 670.1h0M608.1 621.8h0M696.9 653.1h0M671.3 689.3h0M760.6 654.7h0M759.7 639.8h0M523.8 636.4h0M439.1 660.2h0M434.0 689.4h0M727.0 593.1h0M497.2 682.1h0M556.9 610.4h0M651.4 616.5h0M530.4 674.7h0M446.9 688.6h0M517.7 644.6h0M425.8 681.2h0M472.2 659.0h0M571.4 585.1h0M662.0 623.0h0M755.1 661.3h0M706.1 684.3h0M467.6 683.8h0M512.7 643.9h0M707.6 607.9h0M644.0 660.1h0M611.8 689.5h0M692.2 584.9h0M714.1 622.7h0M472.4 609.0h0M547.9 683.7h0M540.4 618.8h0M486.7 681.1h0M464.4 669.7h0M714.5 592.7h0M430.4 611.8h0M483.8 603.5h0M592.8 629.9h0M545.7 591.0h0M576.2 619.3h0M624.2 603.2h0M454.8 632.6h0M464.4 676.9h0M658.3 604.6h0M560.4 610.5h0M455.5 632.7h0M702.1 594.6h0M518.0 606.5h0M734.9 582.1h0M613.1 601.1h0M644.4 674.9h0M472.2 624.2h0M580.0 650.3h0M459.2 656.6h0M535.7 631.5h0M515.3 581.9h0M700.7 622.6h0M591.5 626.7h0M563.2 611.0h0M696.1 687.0h0M513.9 664.4h0M440.3 687.6h0M625.5 618.1h0M662.8 645.1h0M562.7 624.9h0M580.2 674.6h0M494.1 671.5h0M514.1 604.5h0M559.6 320.1h0M519.6 314.7h0M695.2 314.7h0M638.1 298.4h0M506.0 307.6h0M633.6 291.8h0M627.4 293.4h0M529.5 307.2h0M651.9 319.6h0M361.7 320.6h0M462.7 317.0h0M565.5 295.0h0M480.2 293.5h0M463.6 298.5h0M706.7 318.7h0M691.9 296.7h0M467.0 311.0h0M573.8 310.6h0M536.3 299.0h0M507.2 307.9h0M482.7 309.9h0M381.3 304.7h0M545.9 303.5h0M494.6 313.0h0M649.3 294.9h0M369.7 307.5h0M676.4 320.7h0M504.8 301.7h0M391.5 292.1h0M631.1 295.7h0M450.2 291.2h0M624.6 291.1h0M667.0 310.3h0M365.9 300.2h0M645.1 309.3h0M631.9 292.3h0M712.2 305.7h0M622.9 315.4h0M583.1 320.7h0M641.0 319.9h0M418.0 307.8h0M451.5 305.7h0M510.6 320.8h0M467.9 299.5h0M644.3 298.6h0M436.1 307.0h0M414.3 314.6h0M504.9 317.8h0M450.2 314.9h0M531.7 292.3h0M643.9 318.1h0M507.6 310.5h0M404.7 307.3h0M716.9 315.3h0M375.8 298.7h0M423.2 295.0h0M551.9 305.8h0M690.8 304.2h0M687.6 314.4h0M506.9 306.9h0M462.1 749.7h0M594.0 708.2h0M685.6 740.8h0M549.0 717.1h0M440.8 674.3h0M707.3 719.3h0M518.9 679.0h0M626.4 703.6h0M682.9 745.7h0M595.1 661.1h0M618.7 721.6h0M367.1 737.1h0M697.3 726.1h0M520.3 727.0h0M368.5 693.7h0M727.3 728.0h0M650.7 684.4h0M717.0 698.5h0M366.2 748.7h0M684.8 690.8h0M553.7 702.5h0M657.1 737.0h0M720.8 742.9h0M388.1 740.9h0M729.3 750.1h0M477.1 720.4h0M739.6 701.1h0M596.7 696.3h0M429.7 691.9h0M641.0 741.5h0M709.5 684.4h0M387.8 726.6h0M733.9 741.9h0M561.0 678.4h0M627.9 677.6h0M584.1 685.9h0M527.6 707.8h0M367.8 661.3h0M423.7 743.0h0M655.3 699.6h0M480.8 703.2h0M525.1 700.9h0M557.2 671.3h0M386.3 746.1h0M460.9 720.6h0M530.6 732.1h0M373.3 749.8h0M583.3 730.4h0M501.0 670.1h0M448.6 670.4h0M502.3 701.4h0M593.7 712.0h0M621.3 745.5h0M649.2 727.9h0M559.9 712.5h0M741.0 676.6h0M360.9 682.3h0M554.7 724.9h0M508.1 672.4h0M613.2 674.6h0M490.3 725.9h0M553.3 698.8h0M713.9 691.5h0M659.4 736.2h0M504.5 669.0h0M485.0 686.3h0M733.7 710.2h0M644.2 722.8h0M457.5 733.7h0M667.0 669.9h0M683.4 691.1h0M407.2 689.6h0M733.5 733.0h0M427.6 686.6h0M740.7 692.4h0M398.9 722.2h0M743.8 731.3h0M497.9 680.7h0M453.8 736.9h0M628.5 719.2h0M451.6 709.0h0M372.5 675.6h0M394.7 715.3h0M364.4 676.2h0M688.4 730.4h0M480.4 670.0h0M394.6 696.2h0M644.3 741.7h0M446.0 721.7h0M415.9 680.1h0M390.3 693.7h0M507.0 728.0h0M664.7 661.3h0M404.1 749.5h0M624.3 732.2h0M497.9 736.2h0M702.3 691.4h0M678.7 682.9h0M538.8 736.4h0M645.6 734.6h0M485.8 691.3h0M442.0 698.3h0M378.9 735.8h0M485.2 732.4h0M489.1 706.7h0M580.5 681.1h0M622.1 695.7h0M441.5 694.2h0M487.4 750.5h0M726.1 670.1h0M684.3 711.7h0M635.6 750.5h0M396.1 666.9h0M643.0 695.5h0M572.5 713.0h0M411.2 732.2h0M441.9 673.5h0M434.1 715.5h0M383.5 674.9h0M383.0 694.7h0M411.4 748.6h0M511.7 703.0h0M446.6 666.1h0M756.2 689.7h0M375.9 669.8h0M526.3 702.0h0M550.8 709.4h0M637.5 734.4h0M469.6 673.6h0M731.8 719.6h0M521.7 663.2h0M596.8 731.4h0M466.0 728.3h0M753.8 676.9h0M424.6 750.5h0M422.5 737.3h0M535.7 665.5h0M705.2 748.6h0M716.0 746.8h0M443.8 732.9h0M573.5 730.4h0M538.5 730.8h0M704.9 680.4h0M533.0 711.7h0M669.5 676.9h0M595.1 665.8h0M398.2 717.7h0M684.3 671.2h0M539.5 714.8h0M646.8 743.0h0M399.4 655.4h0M312.0 772.8h0M355.5 732.2h0M266.0 748.9h0M306.5 672.8h0M377.5 624.7h0M365.8 795.5h0M262.2 629.2h0M409.9 673.5h0M408.0 753.5h0M400.0 632.8h0M309.6 713.1h0M240.7 630.0h0M355.6 735.8h0M268.0 768.6h0M303.5 745.5h0M250.9 708.1h0M268.2 778.6h0M310.1 790.2h0M301.4 655.6h0M309.1 670.2h0M247.8 796.3h0M345.8 695.5h0M288.5 750.7h0M393.8 768.4h0M358.0 681.3h0M307.6 731.1h0M256.8 721.0h0M297.0 639.1h0M282.6 787.4h0M278.9 668.2h0M246.9 752.1h0M349.8 653.4h0M282.1 698.3h0M396.6 706.8h0M383.1 665.8h0M374.2 787.7h0M405.3 720.6h0M323.1 778.0h0M259.5 636.0h0M380.0 707.1h0M271.1 690.6h0M328.1 641.2h0M249.5 792.1h0M246.7 787.5h0M306.5 761.6h0M278.7 668.1h0M276.0 732.0h0M400.3 765.3h0M332.6 672.9h0M261.8 726.5h0M275.1 727.1h0M321.5 637.5h0M326.6 635.6h0M351.7 624.9h0M350.3 789.7h0M279.2 659.8h0M296.4 724.2h0M279.2 660.0h0M357.4 621.4h0M379.6 337.2h0M416.8 375.9h0M414.8 370.3h0M372.8 382.3h0M378.9 383.7h0M387.8 343.1h0M383.7 328.9h0M406.5 381.8h0M406.8 374.0h0M409.3 379.6h0M370.4 294.3h0M369.2 394.9h0M408.0 333.3h0M407.2 374.2h0M386.3 365.2h0M389.1 319.0h0M411.7 297.8h0M420.4 402.7h0M382.8 338.4h0M396.2 364.3h0M370.0 385.4h0M416.1 377.7h0M397.5 314.3h0M388.8 391.4h0M378.4 298.2h0M386.9 403.6h0M380.4 378.1h0M369.2 397.0h0M396.4 326.7h0M370.1 399.5h0M392.7 361.8h0M371.4 314.6h0M383.4 360.3h0M423.4 385.3h0M419.4 342.8h0M403.8 311.0h0M376.1 381.7h0M378.5 396.8h0M411.4 387.8h0M386.1 313.8h0M405.9 399.7h0M421.8 408.3h0M383.0 379.7h0M423.8 390.5h0M395.2 360.5h0M401.3 330.4h0M421.1 380.8h0M372.2 336.7h0M398.8 403.7h0M393.0 322.2h0M380.0 351.1h0M417.8 352.4h0M403.6 369.7h0M374.0 406.7h0M422.5 313.1h0M404.5 393.5h0M395.2 392.9h0M398.0 339.4h0M395.7 390.3h0M391.7 300.1h0M383.0 359.8h0M411.7 409.6h0M402.7 409.2h0M379.5 406.9h0M381.4 313.9h0M409.1 371.1h0M368.6 368.4h0M398.0 402.3h0M408.6 303.9h0M410.6 373.8h0M379.6 316.6h0M399.3 401.0h0M393.5 356.9h0M369.8 300.2h0M419.5 345.0h0M415.9 361.3h0M416.5 393.7h0M402.3 343.2h0M410.7 371.2h0M372.6 331.7h0M391.1 308.7h0M408.4 345.6h0M390.3 330.3h0M381.6 407.3h0M401.5 336.1h0M392.9 354.7h0M369.1 367.3h0M405.3 350.0h0M401.0 303.4h0M403.5 349.8h0M586.4 271.3h0M504.1 282.1h0M591.7 310.5h0M625.1 291.8h0M441.6 304.5h0M567.6 311.7h0M617.3 292.6h0M611.2 307.3h0M620.3 315.3h0M692.9 284.4h0M676.8 282.6h0M661.5 293.2h0M659.0 317.9h0M569.9 288.1h0M643.0 317.3h0M655.8 311.7h0M695.5 299.5h0M684.3 275.4h0M527.2 298.2h0M582.0 290.3h0M616.0 299.9h0M531.5 273.6h0M709.1 283.4h0M570.7 271.7h0M520.1 297.6h0M490.0 310.7h0M711.9 295.6h0M461.0 270.7h0M635.7 304.3h0M603.0 299.2h0M438.9 284.3h0M667.9 314.1h0M440.3 286.8h0M610.8 299.9h0M473.9 282.0h0M460.4 297.4h0M441.5 280.7h0M608.2 316.0h0M592.4 284.3h0M640.1 316.1h0M636.7 317.0h0M711.9 281.0h0M627.1 289.5h0M681.9 277.4h0M670.6 302.6h0M652.6 280.0h0M460.0 285.4h0M673.1 269.3h0M486.9 295.4h0M574.0 306.7h0" stroke="#0a0a0a" stroke-width="1.8" stroke-linecap="round" fill="none"/><rect x="374.5" y="514" width="95" height="82" fill="url(#sd)"/><path d="M401.0 530.9h0M421.1 543.5h0M457.0 518.4h0M384.8 584.9h0M420.1 531.1h0M437.9 572.2h0M405.1 571.4h0M448.0 546.3h0M401.7 576.8h0M410.1 569.4h0M391.8 574.1h0M420.4 580.4h0M378.1 584.2h0M414.3 539.2h0M380.5 588.9h0M430.1 556.0h0M378.5 565.5h0M454.8 540.8h0M393.0 519.4h0M427.5 571.7h0M392.5 571.5h0M436.0 574.3h0M416.5 576.7h0M396.6 583.6h0M387.0 592.4h0M427.7 585.9h0M464.4 564.4h0M381.7 537.3h0M446.1 519.1h0M423.0 546.0h0M393.0 522.1h0M452.0 542.2h0M377.0 592.9h0M439.7 577.2h0M409.3 567.8h0M423.6 566.6h0M385.6 537.0h0M446.2 548.2h0M451.4 574.2h0M450.2 566.7h0M389.3 523.0h0M460.7 528.1h0M455.5 522.3h0M463.7 553.6h0M436.3 577.3h0M458.8 545.9h0M376.2 516.6h0M461.1 540.4h0M411.1 559.5h0M465.2 570.2h0M380.7 592.6h0M387.8 559.1h0M422.6 590.4h0M465.7 548.6h0M416.6 558.2h0M419.7 571.8h0M458.3 569.7h0M453.8 568.3h0M385.7 592.1h0M410.0 544.3h0M459.4 528.9h0M404.4 581.0h0M428.8 560.5h0M378.8 541.2h0M467.0 577.0h0M455.7 568.1h0M441.5 577.7h0M398.8 585.3h0M386.2 547.1h0M423.6 560.5h0M403.7 541.9h0M461.3 556.2h0M437.0 528.7h0M466.7 518.5h0M402.4 528.9h0M385.8 581.9h0M462.0 582.4h0M388.6 543.4h0M401.0 589.1h0M412.5 590.4h0M400.0 585.1h0M442.8 533.5h0M466.5 568.9h0M400.6 590.7h0M460.3 553.9h0M414.4 548.2h0M400.1 562.0h0M388.8 544.9h0M420.1 559.9h0M456.0 543.3h0M389.0 543.0h0M392.5 527.6h0M400.2 584.0h0M457.7 566.0h0M418.7 545.1h0M394.0 582.1h0M445.6 585.6h0M388.9 524.6h0M439.6 559.6h0M397.1 553.4h0M456.8 560.7h0M456.3 579.5h0M456.0 560.6h0M424.3 566.9h0M451.4 573.8h0M445.6 536.1h0M465.3 565.1h0M437.3 581.9h0M418.9 551.7h0M399.5 583.7h0M435.7 547.4h0M464.5 590.3h0M430.7 553.2h0M396.0 573.2h0M436.6 548.0h0M443.4 550.2h0M418.3 540.8h0M400.5 539.0h0M396.4 572.9h0M434.7 589.1h0M411.6 559.6h0M430.5 523.4h0M378.3 576.0h0M416.5 526.0h0M441.7 560.7h0M466.1 554.1h0M414.3 536.8h0M432.2 541.1h0M451.5 541.8h0M435.6 551.7h0M407.0 558.1h0M464.0 551.8h0M378.8 592.5h0M455.6 534.9h0M438.4 582.3h0M420.6 551.9h0M403.6 519.0h0M454.1 570.2h0M389.6 522.8h0M456.1 564.7h0M442.3 589.6h0M390.7 585.8h0M415.8 589.8h0M425.7 550.6h0M405.6 545.2h0M439.6 535.0h0M407.1 521.3h0M425.6 517.0h0M426.2 520.7h0M421.4 534.9h0M437.0 525.2h0M398.3 518.6h0M408.6 531.4h0M411.2 583.3h0M416.5 583.7h0M439.3 531.6h0M446.7 541.8h0M407.7 524.2h0M379.5 522.7h0M456.3 587.9h0M424.3 519.9h0M455.0 519.6h0M442.8 529.6h0M388.0 543.6h0M428.4 539.3h0M388.3 532.4h0M404.7 569.0h0M432.4 573.9h0M418.9 541.9h0M432.6 532.5h0M423.6 568.5h0M377.6 590.6h0M443.4 538.3h0M450.4 577.7h0M410.3 551.4h0M436.9 585.6h0M456.7 526.1h0M391.2 517.6h0M424.8 540.9h0M465.0 553.0h0M433.3 582.9h0M414.1 566.6h0M454.7 530.5h0M422.0 561.6h0M453.0 559.7h0M415.2 587.5h0M437.2 552.1h0M391.5 586.8h0M440.9 593.3h0M428.8 517.9h0M384.2 588.1h0M421.8 591.7h0M376.5 588.9h0M394.5 584.1h0M416.1 521.2h0M429.3 571.1h0M409.7 525.3h0M387.9 538.7h0M400.4 560.5h0M415.9 535.4h0M401.6 539.9h0M410.8 521.6h0M403.9 553.4h0M407.4 527.5h0M403.1 521.8h0M436.5 516.5h0M459.7 548.1h0M443.2 579.5h0M430.0 546.1h0M431.1 560.5h0M459.6 545.5h0M466.0 549.1h0M395.5 571.0h0M464.9 528.2h0M428.3 527.8h0M385.9 560.7h0M464.4 560.7h0M396.0 576.3h0M454.6 541.9h0M466.6 577.1h0M396.0 592.6h0M433.2 546.5h0M383.0 550.1h0M388.8 569.2h0M405.4 591.9h0M390.5 583.2h0M382.3 526.4h0M425.2 540.7h0M450.3 564.1h0M410.0 541.0h0M457.6 586.7h0M443.9 530.6h0M448.8 544.8h0M377.2 549.5h0M460.8 558.8h0M388.0 527.6h0M452.8 572.7h0M383.1 556.3h0M446.1 565.9h0M378.0 538.9h0M399.0 564.3h0M423.4 546.1h0M459.4 535.6h0M391.4 530.5h0M464.2 524.8h0M396.2 529.9h0M438.5 518.4h0M464.9 591.7h0M394.0 554.0h0M454.4 557.1h0M386.8 573.6h0M452.0 532.6h0M414.5 542.3h0M426.2 587.5h0M446.1 567.6h0M461.3 568.4h0M452.9 517.2h0M405.8 533.1h0M390.1 574.9h0M453.4 567.9h0" stroke="#333" stroke-width="1.6" stroke-linecap="round" fill="none" opacity=".7"/><circle cx="445" cy="565.5" r="9" fill="#111" opacity=".6" filter="url(#b2)"/><circle cx="445" cy="565.5" r="4" fill="#111" opacity=".85" filter="url(#b1)"/><path d="M421 578l8 2 3 7-9-3z" fill="#111"/><circle cx="450" cy="594" r="4" fill="#111" opacity=".7" filter="url(#b1)"/><rect x="589" y="636" width="17.5" height="22.5" fill="#8a8a8a"/><rect x="312" y="559" width="17" height="11" fill="#383838"/><rect x="312" y="569" width="17" height="10" fill="#666"/><rect x="423" y="320" width="296" height="1.2" fill="#141414"/><rect x="443" y="334" width="167" height="1.2" fill="#141414"/><rect x="256" y="409" width="510" height="1.2" fill="#141414"/><rect x="256" y="437" width="510" height="1.2" fill="#141414"/><rect x="304" y="463" width="415" height="1.2" fill="#141414"/><rect x="340" y="471" width="426" height="1.2" fill="#141414"/><rect x="256" y="509" width="510" height="1.2" fill="#141414"/><rect x="256" y="543" width="510" height="1.2" fill="#141414"/><rect x="256" y="569" width="510" height="1.2" fill="#141414"/><rect x="256" y="587" width="194" height="1.2" fill="#141414"/><rect x="256" y="598" width="184" height="1.2" fill="#141414"/><rect x="256" y="614" width="144" height="1.2" fill="#141414"/><rect x="340" y="661" width="426" height="1.2" fill="#141414"/><rect x="485" y="686" width="281" height="1.2" fill="#141414"/><rect x="359" y="731" width="251" height="1.2" fill="#141414"/><rect x="423" y="750" width="343" height="1.2" fill="#141414"/><rect x="443" y="484" width="145" height="1.2" fill="#141414"/><rect x="440" y="555" width="143" height="1.2" fill="#141414"/><rect x="440" y="578" width="143" height="1.2" fill="#141414"/><rect x="485" y="597" width="98" height="1.2" fill="#141414"/><rect x="409" y="295" width="1.2" height="456" fill="#141414"/><rect x="422" y="295" width="1.2" height="456" fill="#141414"/><rect x="442" y="335" width="1.2" height="416" fill="#141414"/><rect x="464" y="295" width="1.2" height="456" fill="#141414"/><rect x="492" y="295" width="1.2" height="456" fill="#141414"/><rect x="510" y="295" width="1.2" height="456" fill="#141414"/><rect x="565" y="295" width="1.2" height="392" fill="#141414"/><rect x="580" y="410" width="1.2" height="277" fill="#141414"/><rect x="609" y="334" width="1.2" height="398" fill="#141414"/><rect x="633" y="295" width="1.2" height="456" fill="#141414"/><rect x="679" y="463" width="1.2" height="153" fill="#141414"/><rect x="718" y="321" width="1.2" height="259" fill="#141414"/><rect x="303" y="464" width="1.2" height="241" fill="#141414"/><rect x="339" y="464" width="1.2" height="198" fill="#141414"/><rect x="358" y="510" width="1.2" height="222" fill="#141414"/><rect x="451" y="455" width="1.2" height="145" fill="#141414"/><rect x="483" y="455" width="1.2" height="145" fill="#141414"/><rect x="542" y="455" width="1.2" height="235" fill="#141414"/><rect x="570" y="455" width="1.2" height="145" fill="#141414"/><rect x="587" y="410" width="1.2" height="171" fill="#141414"/><rect x="464.3" y="751" width="1.4" height="45" fill="#222"/><rect x="484" y="484" width="50" height="50" fill="none" stroke="#1c1c1c" stroke-width="1.2"/><rect x="466" y="466" width="86" height="86" fill="none" stroke="#1c1c1c" stroke-width="1.2"/><path d="M254.5 411.5 L374.5 529" fill="none" stroke="#1a1a1a" stroke-width="1.2"/><path d="M374.5 529 L440 592" fill="none" stroke="#222" stroke-width="0.8"/><path d="M298 580 L370 508 L442 439" fill="none" stroke="#1a1a1a" stroke-width="1.2"/><path d="M303 583 L372 514 L446 443" fill="none" stroke="#1a1a1a" stroke-width="0.8"/><path d="M766 412 L740 428 L680 463 L640 484 L609 500 L579 517.5 L544 529 L509 541 L471.5 557.5 L444 568" fill="none" stroke="#1a1a1a" stroke-width="1.2"/><path d="M581 425 L605 480 L628 537 L666 575 L696 611 L768 697" fill="none" stroke="#1a1a1a" stroke-width="1.2"/><path d="M272 758 L412 697 L394 696" fill="none" stroke="#1a1a1a" stroke-width="1.2"/><path d="M413 290 L474 348" fill="none" stroke="#1a1a1a" stroke-width="1.2"/><path d="M509 509 L466 465" fill="none" stroke="#1a1a1a" stroke-width="1.2"/><path d="M509 509 L544 475" fill="none" stroke="#1a1a1a" stroke-width="1.2"/><path d="M509 509 L471 537" fill="none" stroke="#1a1a1a" stroke-width="1.2"/><path d="M509 509 L564 560 L581 580" fill="none" stroke="#1a1a1a" stroke-width="1.2"/><path d="M485 601 L510 630 L565 685.5 L604 720" fill="none" stroke="#1a1a1a" stroke-width="1"/><path d="M510 657 L565 685.5" fill="none" stroke="#1a1a1a" stroke-width="1"/><path d="M510 657 L560 648 L606 635" fill="none" stroke="#1a1a1a" stroke-width="1"/><path d="M394 660 L440 655 L510 657" fill="none" stroke="#1a1a1a" stroke-width="1"/><path d="M642 630 L670 622 L696 611 L727 601" fill="none" stroke="#1a1a1a" stroke-width="1"/><path d="M818 781 L838 803" fill="none" stroke="#999" stroke-width="1"/><path d="M445 565.6 L433 575 L425 582 L412 592" fill="none" stroke="#1a1a1a" stroke-width="0.9"/><path d="M374 514 L392 528 L405 542 L418 560" fill="none" stroke="#2a2a2a" stroke-width="0.8"/><path d="M445 565 L452 540 L462 520" fill="none" stroke="#2a2a2a" stroke-width="0.8"/><path d="M445 565.6 L470 574 L500 580 L540 578" fill="none" stroke="#2a2a2a" stroke-width="0.8"/><path d="M509 509 L530 520 L566 545 L600 560" fill="none" stroke="#2a2a2a" stroke-width="0.8"/><path d="M509 509 L495 530 L488 556" fill="none" stroke="#2a2a2a" stroke-width="0.8"/><rect x="459" y="349.5" width="107.20000000000005" height="105.5" fill="#222"/><rect x="484" y="372" width="82" height="83" fill="#262626"/><rect x="496" y="410" width="70" height="45" fill="#1f1f1f"/><rect x="394" y="594" width="91" height="102" fill="#222"/><rect x="424" y="636" width="61" height="60" fill="#1f1f1f"/><rect x="583" y="581" width="51" height="51" fill="#222"/><rect x="492" y="350" width="1.3" height="105" fill="#0c0c0c"/><rect x="510" y="350" width="1.3" height="105" fill="#0c0c0c"/><rect x="409" y="594" width="1.3" height="102" fill="#0c0c0c"/><rect x="422" y="594" width="1.3" height="102" fill="#0c0c0c"/><rect x="442" y="594" width="1.3" height="102" fill="#0c0c0c"/><rect x="464" y="594" width="1.3" height="102" fill="#0c0c0c"/><rect x="609" y="581" width="1.3" height="51" fill="#0c0c0c"/><rect x="459" y="409" width="107" height="1.3" fill="#0c0c0c"/><rect x="459" y="437" width="107" height="1.3" fill="#0c0c0c"/><rect x="394" y="614" width="91" height="1.3" fill="#0c0c0c"/><rect x="394" y="661" width="91" height="1.3" fill="#0c0c0c"/><rect x="583" y="598" width="51" height="1.3" fill="#0c0c0c"/><rect x="136" y="537" width="81.5" height="86" fill="#222"/><rect x="136" y="543.4" width="81.5" height="1.2" fill="#0c0c0c"/><rect x="136" y="568.4" width="81.5" height="1.2" fill="#0c0c0c"/><rect x="136" y="598.4" width="81.5" height="1.2" fill="#0c0c0c"/><rect x="128" y="537" width="8" height="86" fill="#000" opacity=".15" filter="url(#b2)"/><rect x="431.5" y="194" width="45.0" height="46" fill="#8c8c8c"/><rect x="435.5" y="192" width="42.0" height="43" fill="#fff"/><rect x="436.5" y="193" width="40.0" height="41" fill="#222"/><rect x="674" y="258" width="30" height="30" fill="#8c8c8c"/><rect x="672" y="256" width="27" height="27" fill="#fff"/><rect x="673" y="257" width="25" height="25" fill="#222"/><rect x="750.5" y="704" width="40.0" height="38" fill="#8c8c8c"/><rect x="755.5" y="709" width="36.0" height="34" fill="#fff"/><rect x="756.5" y="710" width="34.0" height="32" fill="#222"/><rect x="633.5" y="816" width="38.5" height="32" fill="#8c8c8c"/><rect x="633.5" y="816" width="32.5" height="32" fill="#222"/><rect x="248.5" y="216.5" width="16.0" height="16.0" fill="#222"/><path d="M251 232.5V219H264.5" fill="none" stroke="#aaa" stroke-width=".8"/><rect x="880" y="360" width="16" height="16" fill="#222"/><path d="M882.5 376V362.5H896" fill="none" stroke="#aaa" stroke-width=".8"/><rect x="864" y="488" width="16" height="16" fill="#222"/><path d="M866.5 504V490.5H880" fill="none" stroke="#aaa" stroke-width=".8"/><rect x="761" y="406" width="12" height="12" fill="#222"/><rect x="760" y="400" width="15" height="6" fill="#888"/><rect x="416" y="889" width="16" height="16" fill="#fff"/><rect x="417" y="890" width="14" height="14" fill="#222"/><rect x="299" y="704" width="12" height="13" fill="#fff"/><rect x="300" y="705" width="10" height="11" fill="#222"/><rect x="265" y="756" width="7" height="8" fill="#222"/><rect x="503" y="503" width="12" height="12" fill="#111"/><rect x="628" y="531" width="13" height="13" fill="#222"/><circle cx="413" cy="290" r="4.5" fill="#0c0c0c"/><circle cx="442" cy="439.5" r="6" fill="#0c0c0c"/><circle cx="566" cy="226" r="4" fill="#0c0c0c"/><circle cx="595.5" cy="320.5" r="4" fill="#0c0c0c"/><circle cx="298" cy="580" r="4.5" fill="#0c0c0c"/><circle cx="565" cy="685.5" r="4" fill="#0c0c0c"/><circle cx="768.5" cy="698.5" r="6.5" fill="#0c0c0c"/><circle cx="443" cy="846" r="4.5" fill="#0c0c0c"/><circle cx="740.5" cy="428" r="3" fill="#0c0c0c"/><circle cx="418" cy="441" r="3" fill="#0c0c0c"/><rect x="440" y="850" width="8" height="6" fill="#777"/></svg></body></html>
